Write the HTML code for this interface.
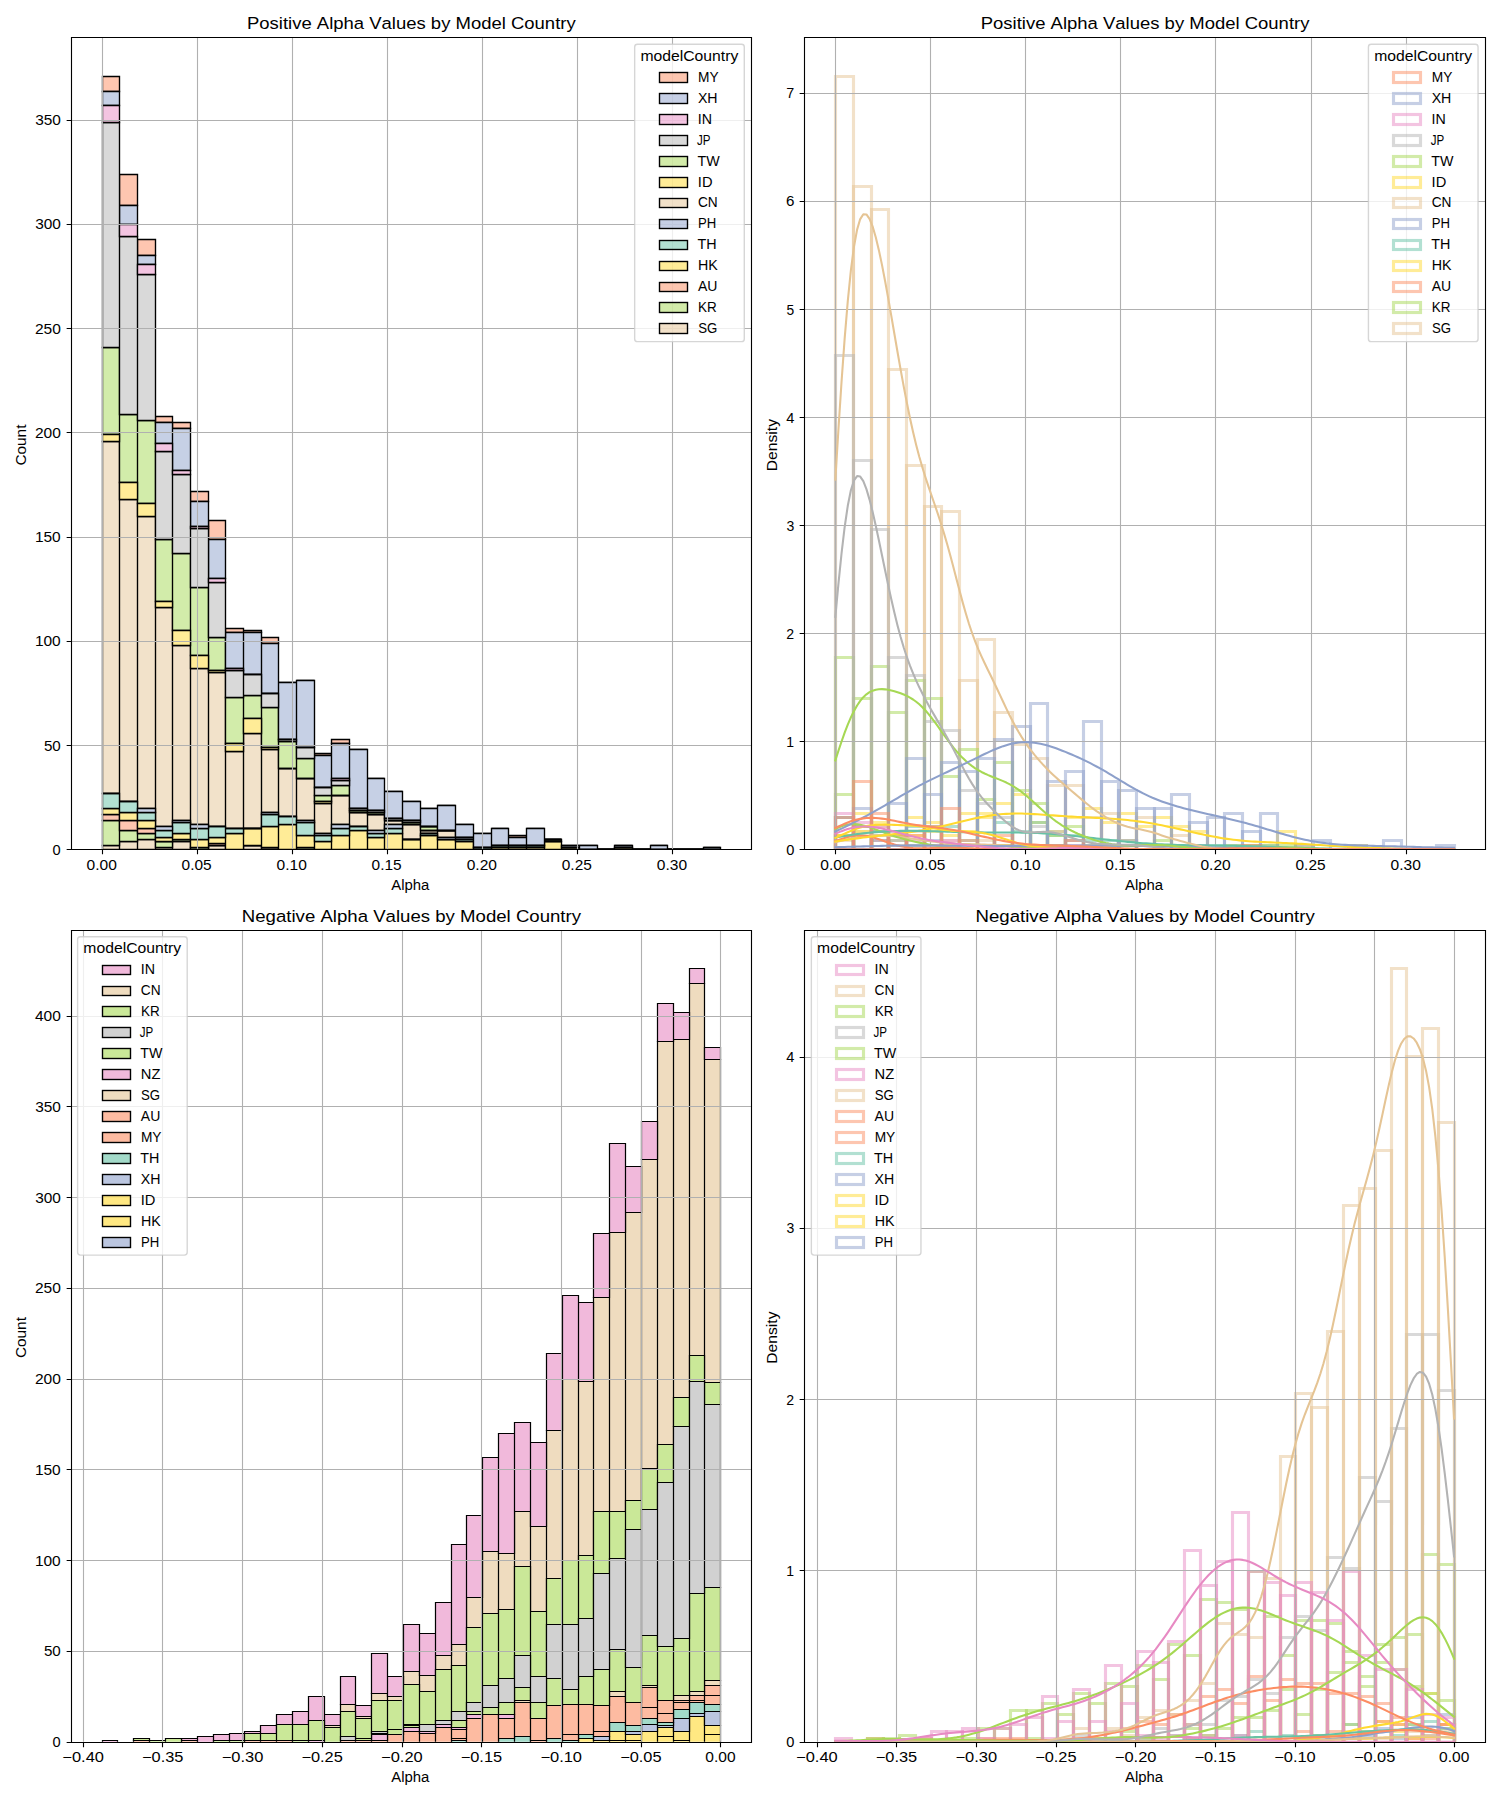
<!DOCTYPE html>
<html><head><meta charset="utf-8"><style>html,body{margin:0;padding:0;background:#fff}svg{display:block}</style></head><body>
<svg width="1500" height="1800" viewBox="0 0 1500 1800">
<rect width="1500" height="1800" fill="#fff"/>
<clipPath id="c0"><rect x="70.65" y="37.33" width="680.6" height="811.89"/></clipPath>
<g clip-path="url(#c0)">
<path fill="#f2e2ca" stroke="#000000" stroke-width="1.37" d="M102.5 849.5H119.5V845.5H102.5ZM119.5 849.5H137.5V841.5H119.5ZM137.5 849.5H155.5V839.5H137.5ZM155.5 849.5H172.5V847.5H155.5ZM172.5 849.5H190.5V841.5H172.5ZM190.5 849.5H208.5V849.5H190.5ZM208.5 849.5H225.5V845.5H208.5ZM225.5 849.5H243.5V849.5H225.5ZM243.5 849.5H261.5V845.5H243.5ZM261.5 849.5H278.5V847.5H261.5ZM278.5 849.5H296.5V849.5H278.5ZM296.5 849.5H314.5V849.5H296.5ZM314.5 849.5H331.5V849.5H314.5ZM331.5 849.5H349.5V849.5H331.5ZM349.5 849.5H367.5V849.5H349.5ZM367.5 849.5H384.5V849.5H367.5ZM384.5 849.5H402.5V849.5H384.5ZM402.5 849.5H420.5V849.5H402.5ZM420.5 849.5H437.5V849.5H420.5ZM437.5 849.5H455.5V849.5H437.5ZM455.5 849.5H473.5V849.5H455.5ZM473.5 849.5H491.5V849.5H473.5ZM491.5 849.5H508.5V849.5H491.5ZM508.5 849.5H526.5V849.5H508.5ZM526.5 849.5H544.5V849.5H526.5ZM544.5 849.5H561.5V849.5H544.5ZM561.5 849.5H579.5V849.5H561.5ZM579.5 849.5H597.5V849.5H579.5ZM597.5 849.5H614.5V849.5H597.5ZM614.5 849.5H632.5V849.5H614.5ZM632.5 849.5H650.5V849.5H632.5ZM650.5 849.5H667.5V849.5H650.5ZM667.5 849.5H685.5V849.5H667.5ZM685.5 849.5H703.5V849.5H685.5ZM703.5 849.5H720.5V849.5H703.5ZM102.5 793.5H119.5V441.5H102.5ZM119.5 801.5H137.5V499.5H119.5ZM137.5 808.5H155.5V516.5H137.5ZM155.5 826.5H172.5V607.5H155.5ZM172.5 820.5H190.5V645.5H172.5ZM190.5 824.5H208.5V668.5H190.5ZM208.5 826.5H225.5V672.5H208.5ZM225.5 828.5H243.5V751.5H225.5ZM243.5 828.5H261.5V733.5H243.5ZM261.5 812.5H278.5V749.5H261.5ZM278.5 816.5H296.5V768.5H278.5ZM296.5 820.5H314.5V778.5H296.5ZM314.5 833.5H331.5V803.5H314.5ZM331.5 824.5H349.5V795.5H331.5ZM349.5 826.5H367.5V812.5H349.5ZM367.5 830.5H384.5V814.5H367.5ZM384.5 824.5H402.5V820.5H384.5ZM402.5 839.5H420.5V824.5H402.5ZM420.5 833.5H437.5V830.5H420.5ZM437.5 837.5H455.5V830.5H437.5ZM455.5 837.5H473.5V837.5H455.5ZM473.5 847.5H491.5V847.5H473.5ZM491.5 845.5H508.5V845.5H491.5ZM508.5 845.5H526.5V845.5H508.5ZM526.5 845.5H544.5V845.5H526.5ZM544.5 841.5H561.5V841.5H544.5ZM561.5 847.5H579.5V847.5H561.5ZM579.5 849.5H597.5V849.5H579.5ZM597.5 849.5H614.5V849.5H597.5ZM614.5 847.5H632.5V847.5H614.5ZM632.5 849.5H650.5V849.5H632.5ZM650.5 849.5H667.5V849.5H650.5ZM667.5 849.5H685.5V849.5H667.5ZM685.5 849.5H703.5V849.5H685.5ZM703.5 849.5H720.5V849.5H703.5Z"/>
<path fill="#d2ecaa" stroke="#000000" stroke-width="1.37" d="M102.5 845.5H119.5V820.5H102.5ZM119.5 841.5H137.5V830.5H119.5ZM137.5 839.5H155.5V833.5H137.5ZM155.5 847.5H172.5V841.5H155.5ZM172.5 841.5H190.5V839.5H172.5ZM190.5 849.5H208.5V847.5H190.5ZM208.5 845.5H225.5V845.5H208.5ZM225.5 849.5H243.5V849.5H225.5ZM243.5 845.5H261.5V845.5H243.5ZM261.5 847.5H278.5V847.5H261.5ZM278.5 849.5H296.5V849.5H278.5ZM296.5 849.5H314.5V847.5H296.5ZM314.5 849.5H331.5V849.5H314.5ZM331.5 849.5H349.5V849.5H331.5ZM349.5 849.5H367.5V849.5H349.5ZM367.5 849.5H384.5V849.5H367.5ZM384.5 849.5H402.5V849.5H384.5ZM402.5 849.5H420.5V849.5H402.5ZM420.5 849.5H437.5V849.5H420.5ZM437.5 849.5H455.5V849.5H437.5ZM455.5 849.5H473.5V849.5H455.5ZM473.5 849.5H491.5V849.5H473.5ZM491.5 849.5H508.5V849.5H491.5ZM508.5 849.5H526.5V849.5H508.5ZM526.5 849.5H544.5V849.5H526.5ZM544.5 849.5H561.5V849.5H544.5ZM561.5 849.5H579.5V849.5H561.5ZM579.5 849.5H597.5V849.5H579.5ZM597.5 849.5H614.5V849.5H597.5ZM614.5 849.5H632.5V849.5H614.5ZM632.5 849.5H650.5V849.5H632.5ZM650.5 849.5H667.5V849.5H650.5ZM667.5 849.5H685.5V849.5H667.5ZM685.5 849.5H703.5V849.5H685.5ZM703.5 849.5H720.5V849.5H703.5ZM102.5 434.5H119.5V347.5H102.5ZM119.5 482.5H137.5V414.5H119.5ZM137.5 503.5H155.5V420.5H137.5ZM155.5 601.5H172.5V539.5H155.5ZM172.5 630.5H190.5V553.5H172.5ZM190.5 655.5H208.5V587.5H190.5ZM208.5 670.5H225.5V637.5H208.5ZM225.5 743.5H243.5V697.5H225.5ZM243.5 718.5H261.5V695.5H243.5ZM261.5 747.5H278.5V707.5H261.5ZM278.5 768.5H296.5V741.5H278.5ZM296.5 778.5H314.5V758.5H296.5ZM314.5 801.5H331.5V795.5H314.5ZM331.5 795.5H349.5V785.5H331.5ZM349.5 812.5H367.5V810.5H349.5ZM367.5 814.5H384.5V812.5H367.5ZM384.5 820.5H402.5V820.5H384.5ZM402.5 824.5H420.5V822.5H402.5ZM420.5 830.5H437.5V826.5H420.5ZM437.5 830.5H455.5V830.5H437.5ZM455.5 837.5H473.5V837.5H455.5ZM473.5 847.5H491.5V847.5H473.5ZM491.5 845.5H508.5V845.5H491.5ZM508.5 845.5H526.5V845.5H508.5ZM526.5 845.5H544.5V845.5H526.5ZM544.5 841.5H561.5V839.5H544.5ZM561.5 847.5H579.5V847.5H561.5ZM579.5 849.5H597.5V849.5H579.5ZM597.5 849.5H614.5V849.5H597.5ZM614.5 847.5H632.5V847.5H614.5ZM632.5 849.5H650.5V849.5H632.5ZM650.5 849.5H667.5V849.5H650.5ZM667.5 849.5H685.5V849.5H667.5ZM685.5 849.5H703.5V849.5H685.5ZM703.5 849.5H720.5V849.5H703.5Z"/>
<path fill="#fec6b0" stroke="#000000" stroke-width="1.37" d="M102.5 820.5H119.5V814.5H102.5ZM119.5 830.5H137.5V820.5H119.5ZM137.5 833.5H155.5V828.5H137.5ZM155.5 841.5H172.5V841.5H155.5ZM172.5 839.5H190.5V839.5H172.5ZM190.5 847.5H208.5V847.5H190.5ZM208.5 845.5H225.5V843.5H208.5ZM225.5 849.5H243.5V849.5H225.5ZM243.5 845.5H261.5V845.5H243.5ZM261.5 847.5H278.5V847.5H261.5ZM278.5 849.5H296.5V849.5H278.5ZM296.5 847.5H314.5V847.5H296.5ZM314.5 849.5H331.5V849.5H314.5ZM331.5 849.5H349.5V849.5H331.5ZM349.5 849.5H367.5V849.5H349.5ZM367.5 849.5H384.5V849.5H367.5ZM384.5 849.5H402.5V849.5H384.5ZM402.5 849.5H420.5V849.5H402.5ZM420.5 849.5H437.5V849.5H420.5ZM437.5 849.5H455.5V849.5H437.5ZM455.5 849.5H473.5V849.5H455.5ZM473.5 849.5H491.5V849.5H473.5ZM491.5 849.5H508.5V849.5H491.5ZM508.5 849.5H526.5V849.5H508.5ZM526.5 849.5H544.5V849.5H526.5ZM544.5 849.5H561.5V849.5H544.5ZM561.5 849.5H579.5V849.5H561.5ZM579.5 849.5H597.5V849.5H579.5ZM597.5 849.5H614.5V849.5H597.5ZM614.5 849.5H632.5V849.5H614.5ZM632.5 849.5H650.5V849.5H632.5ZM650.5 849.5H667.5V849.5H650.5ZM667.5 849.5H685.5V849.5H667.5ZM685.5 849.5H703.5V849.5H685.5ZM703.5 849.5H720.5V849.5H703.5ZM102.5 91.5H119.5V76.5H102.5ZM119.5 205.5H137.5V174.5H119.5ZM137.5 255.5H155.5V239.5H137.5ZM155.5 422.5H172.5V416.5H155.5ZM172.5 428.5H190.5V422.5H172.5ZM190.5 501.5H208.5V491.5H190.5ZM208.5 539.5H225.5V520.5H208.5ZM225.5 632.5H243.5V628.5H225.5ZM243.5 632.5H261.5V630.5H243.5ZM261.5 643.5H278.5V637.5H261.5ZM278.5 682.5H296.5V682.5H278.5ZM296.5 680.5H314.5V680.5H296.5ZM314.5 755.5H331.5V753.5H314.5ZM331.5 743.5H349.5V739.5H331.5ZM349.5 749.5H367.5V749.5H349.5ZM367.5 778.5H384.5V778.5H367.5ZM384.5 791.5H402.5V791.5H384.5ZM402.5 801.5H420.5V801.5H402.5ZM420.5 808.5H437.5V808.5H420.5ZM437.5 805.5H455.5V805.5H437.5ZM455.5 824.5H473.5V824.5H455.5ZM473.5 833.5H491.5V833.5H473.5ZM491.5 828.5H508.5V828.5H491.5ZM508.5 837.5H526.5V835.5H508.5ZM526.5 828.5H544.5V828.5H526.5ZM544.5 839.5H561.5V839.5H544.5ZM561.5 845.5H579.5V845.5H561.5ZM579.5 845.5H597.5V845.5H579.5ZM597.5 849.5H614.5V849.5H597.5ZM614.5 845.5H632.5V845.5H614.5ZM632.5 849.5H650.5V849.5H632.5ZM650.5 845.5H667.5V845.5H650.5ZM667.5 849.5H685.5V849.5H667.5ZM685.5 849.5H703.5V849.5H685.5ZM703.5 847.5H720.5V847.5H703.5Z"/>
<path fill="#ffec97" stroke="#000000" stroke-width="1.37" d="M102.5 814.5H119.5V808.5H102.5ZM119.5 820.5H137.5V812.5H119.5ZM137.5 828.5H155.5V820.5H137.5ZM155.5 841.5H172.5V837.5H155.5ZM172.5 839.5H190.5V833.5H172.5ZM190.5 847.5H208.5V839.5H190.5ZM208.5 843.5H225.5V837.5H208.5ZM225.5 849.5H243.5V833.5H225.5ZM243.5 845.5H261.5V828.5H243.5ZM261.5 847.5H278.5V826.5H261.5ZM278.5 849.5H296.5V824.5H278.5ZM296.5 847.5H314.5V835.5H296.5ZM314.5 849.5H331.5V841.5H314.5ZM331.5 849.5H349.5V835.5H331.5ZM349.5 849.5H367.5V830.5H349.5ZM367.5 849.5H384.5V837.5H367.5ZM384.5 849.5H402.5V833.5H384.5ZM402.5 849.5H420.5V839.5H402.5ZM420.5 849.5H437.5V835.5H420.5ZM437.5 849.5H455.5V839.5H437.5ZM455.5 849.5H473.5V841.5H455.5ZM473.5 849.5H491.5V849.5H473.5ZM491.5 849.5H508.5V847.5H491.5ZM508.5 849.5H526.5V847.5H508.5ZM526.5 849.5H544.5V847.5H526.5ZM544.5 849.5H561.5V841.5H544.5ZM561.5 849.5H579.5V847.5H561.5ZM579.5 849.5H597.5V849.5H579.5ZM597.5 849.5H614.5V849.5H597.5ZM614.5 849.5H632.5V847.5H614.5ZM632.5 849.5H650.5V849.5H632.5ZM650.5 849.5H667.5V849.5H650.5ZM667.5 849.5H685.5V849.5H667.5ZM685.5 849.5H703.5V849.5H685.5ZM703.5 849.5H720.5V849.5H703.5ZM102.5 441.5H119.5V434.5H102.5ZM119.5 499.5H137.5V482.5H119.5ZM137.5 516.5H155.5V503.5H137.5ZM155.5 607.5H172.5V601.5H155.5ZM172.5 645.5H190.5V630.5H172.5ZM190.5 668.5H208.5V655.5H190.5ZM208.5 672.5H225.5V670.5H208.5ZM225.5 751.5H243.5V743.5H225.5ZM243.5 733.5H261.5V718.5H243.5ZM261.5 749.5H278.5V747.5H261.5ZM278.5 768.5H296.5V768.5H278.5ZM296.5 778.5H314.5V778.5H296.5ZM314.5 803.5H331.5V801.5H314.5ZM331.5 795.5H349.5V795.5H331.5ZM349.5 812.5H367.5V812.5H349.5ZM367.5 814.5H384.5V814.5H367.5ZM384.5 820.5H402.5V820.5H384.5ZM402.5 824.5H420.5V824.5H402.5ZM420.5 830.5H437.5V830.5H420.5ZM437.5 830.5H455.5V830.5H437.5ZM455.5 837.5H473.5V837.5H455.5ZM473.5 847.5H491.5V847.5H473.5ZM491.5 845.5H508.5V845.5H491.5ZM508.5 845.5H526.5V845.5H508.5ZM526.5 845.5H544.5V845.5H526.5ZM544.5 841.5H561.5V841.5H544.5ZM561.5 847.5H579.5V847.5H561.5ZM579.5 849.5H597.5V849.5H579.5ZM597.5 849.5H614.5V849.5H597.5ZM614.5 847.5H632.5V847.5H614.5ZM632.5 849.5H650.5V849.5H632.5ZM650.5 849.5H667.5V849.5H650.5ZM667.5 849.5H685.5V849.5H667.5ZM685.5 849.5H703.5V849.5H685.5ZM703.5 849.5H720.5V849.5H703.5Z"/>
<path fill="#b2e0d2" stroke="#000000" stroke-width="1.37" d="M102.5 808.5H119.5V793.5H102.5ZM119.5 812.5H137.5V801.5H119.5ZM137.5 820.5H155.5V812.5H137.5ZM155.5 837.5H172.5V830.5H155.5ZM172.5 833.5H190.5V822.5H172.5ZM190.5 839.5H208.5V828.5H190.5ZM208.5 837.5H225.5V826.5H208.5ZM225.5 833.5H243.5V828.5H225.5ZM243.5 828.5H261.5V828.5H243.5ZM261.5 826.5H278.5V814.5H261.5ZM278.5 824.5H296.5V816.5H278.5ZM296.5 835.5H314.5V822.5H296.5ZM314.5 841.5H331.5V835.5H314.5ZM331.5 835.5H349.5V828.5H331.5ZM349.5 830.5H367.5V826.5H349.5ZM367.5 837.5H384.5V833.5H367.5ZM384.5 833.5H402.5V828.5H384.5ZM402.5 839.5H420.5V839.5H402.5ZM420.5 835.5H437.5V833.5H420.5ZM437.5 839.5H455.5V839.5H437.5ZM455.5 841.5H473.5V839.5H455.5ZM473.5 849.5H491.5V847.5H473.5ZM491.5 847.5H508.5V845.5H491.5ZM508.5 847.5H526.5V845.5H508.5ZM526.5 847.5H544.5V845.5H526.5ZM544.5 841.5H561.5V841.5H544.5ZM561.5 847.5H579.5V847.5H561.5ZM579.5 849.5H597.5V849.5H579.5ZM597.5 849.5H614.5V849.5H597.5ZM614.5 847.5H632.5V847.5H614.5ZM632.5 849.5H650.5V849.5H632.5ZM650.5 849.5H667.5V849.5H650.5ZM667.5 849.5H685.5V849.5H667.5ZM685.5 849.5H703.5V849.5H685.5ZM703.5 849.5H720.5V849.5H703.5Z"/>
<path fill="#c6d0e5" stroke="#000000" stroke-width="1.37" d="M102.5 793.5H119.5V793.5H102.5ZM119.5 801.5H137.5V801.5H119.5ZM137.5 812.5H155.5V808.5H137.5ZM155.5 830.5H172.5V826.5H155.5ZM172.5 822.5H190.5V820.5H172.5ZM190.5 828.5H208.5V824.5H190.5ZM208.5 826.5H225.5V826.5H208.5ZM225.5 828.5H243.5V828.5H225.5ZM243.5 828.5H261.5V828.5H243.5ZM261.5 814.5H278.5V812.5H261.5ZM278.5 816.5H296.5V816.5H278.5ZM296.5 822.5H314.5V820.5H296.5ZM314.5 835.5H331.5V833.5H314.5ZM331.5 828.5H349.5V824.5H331.5ZM349.5 826.5H367.5V826.5H349.5ZM367.5 833.5H384.5V830.5H367.5ZM384.5 828.5H402.5V824.5H384.5ZM402.5 839.5H420.5V839.5H402.5ZM420.5 833.5H437.5V833.5H420.5ZM437.5 839.5H455.5V837.5H437.5ZM455.5 839.5H473.5V837.5H455.5ZM473.5 847.5H491.5V847.5H473.5ZM491.5 845.5H508.5V845.5H491.5ZM508.5 845.5H526.5V845.5H508.5ZM526.5 845.5H544.5V845.5H526.5ZM544.5 841.5H561.5V841.5H544.5ZM561.5 847.5H579.5V847.5H561.5ZM579.5 849.5H597.5V849.5H579.5ZM597.5 849.5H614.5V849.5H597.5ZM614.5 847.5H632.5V847.5H614.5ZM632.5 849.5H650.5V849.5H632.5ZM650.5 849.5H667.5V849.5H650.5ZM667.5 849.5H685.5V849.5H667.5ZM685.5 849.5H703.5V849.5H685.5ZM703.5 849.5H720.5V849.5H703.5ZM102.5 105.5H119.5V91.5H102.5ZM119.5 224.5H137.5V205.5H119.5ZM137.5 264.5H155.5V255.5H137.5ZM155.5 443.5H172.5V422.5H155.5ZM172.5 470.5H190.5V428.5H172.5ZM190.5 526.5H208.5V501.5H190.5ZM208.5 578.5H225.5V539.5H208.5ZM225.5 668.5H243.5V632.5H225.5ZM243.5 674.5H261.5V632.5H243.5ZM261.5 693.5H278.5V643.5H261.5ZM278.5 739.5H296.5V682.5H278.5ZM296.5 747.5H314.5V680.5H296.5ZM314.5 787.5H331.5V755.5H314.5ZM331.5 778.5H349.5V743.5H331.5ZM349.5 808.5H367.5V749.5H349.5ZM367.5 810.5H384.5V778.5H367.5ZM384.5 818.5H402.5V791.5H384.5ZM402.5 820.5H420.5V801.5H402.5ZM420.5 826.5H437.5V808.5H420.5ZM437.5 830.5H455.5V805.5H437.5ZM455.5 837.5H473.5V824.5H455.5ZM473.5 847.5H491.5V833.5H473.5ZM491.5 845.5H508.5V828.5H491.5ZM508.5 845.5H526.5V837.5H508.5ZM526.5 845.5H544.5V828.5H526.5ZM544.5 839.5H561.5V839.5H544.5ZM561.5 847.5H579.5V845.5H561.5ZM579.5 849.5H597.5V845.5H579.5ZM597.5 849.5H614.5V849.5H597.5ZM614.5 847.5H632.5V845.5H614.5ZM632.5 849.5H650.5V849.5H632.5ZM650.5 849.5H667.5V845.5H650.5ZM667.5 849.5H685.5V849.5H667.5ZM685.5 849.5H703.5V849.5H685.5ZM703.5 849.5H720.5V847.5H703.5Z"/>
<path fill="#d9d9d9" stroke="#000000" stroke-width="1.37" d="M102.5 347.5H119.5V122.5H102.5ZM119.5 414.5H137.5V236.5H119.5ZM137.5 420.5H155.5V274.5H137.5ZM155.5 539.5H172.5V451.5H155.5ZM172.5 553.5H190.5V474.5H172.5ZM190.5 587.5H208.5V528.5H190.5ZM208.5 637.5H225.5V582.5H208.5ZM225.5 697.5H243.5V670.5H225.5ZM243.5 695.5H261.5V674.5H243.5ZM261.5 707.5H278.5V693.5H261.5ZM278.5 741.5H296.5V739.5H278.5ZM296.5 758.5H314.5V747.5H296.5ZM314.5 795.5H331.5V787.5H314.5ZM331.5 785.5H349.5V780.5H331.5ZM349.5 810.5H367.5V808.5H349.5ZM367.5 812.5H384.5V810.5H367.5ZM384.5 820.5H402.5V818.5H384.5ZM402.5 822.5H420.5V820.5H402.5ZM420.5 826.5H437.5V826.5H420.5ZM437.5 830.5H455.5V830.5H437.5ZM455.5 837.5H473.5V837.5H455.5ZM473.5 847.5H491.5V847.5H473.5ZM491.5 845.5H508.5V845.5H491.5ZM508.5 845.5H526.5V845.5H508.5ZM526.5 845.5H544.5V845.5H526.5ZM544.5 839.5H561.5V839.5H544.5ZM561.5 847.5H579.5V847.5H561.5ZM579.5 849.5H597.5V849.5H579.5ZM597.5 849.5H614.5V849.5H597.5ZM614.5 847.5H632.5V847.5H614.5ZM632.5 849.5H650.5V849.5H632.5ZM650.5 849.5H667.5V849.5H650.5ZM667.5 849.5H685.5V849.5H667.5ZM685.5 849.5H703.5V849.5H685.5ZM703.5 849.5H720.5V849.5H703.5Z"/>
<path fill="#f3c4e1" stroke="#000000" stroke-width="1.37" d="M102.5 122.5H119.5V105.5H102.5ZM119.5 236.5H137.5V224.5H119.5ZM137.5 274.5H155.5V264.5H137.5ZM155.5 451.5H172.5V443.5H155.5ZM172.5 474.5H190.5V470.5H172.5ZM190.5 528.5H208.5V526.5H190.5ZM208.5 582.5H225.5V578.5H208.5ZM225.5 670.5H243.5V668.5H225.5ZM243.5 674.5H261.5V674.5H243.5ZM261.5 693.5H278.5V693.5H261.5ZM278.5 739.5H296.5V739.5H278.5ZM296.5 747.5H314.5V747.5H296.5ZM314.5 787.5H331.5V787.5H314.5ZM331.5 780.5H349.5V778.5H331.5ZM349.5 808.5H367.5V808.5H349.5ZM367.5 810.5H384.5V810.5H367.5ZM384.5 818.5H402.5V818.5H384.5ZM402.5 820.5H420.5V820.5H402.5ZM420.5 826.5H437.5V826.5H420.5ZM437.5 830.5H455.5V830.5H437.5ZM455.5 837.5H473.5V837.5H455.5ZM473.5 847.5H491.5V847.5H473.5ZM491.5 845.5H508.5V845.5H491.5ZM508.5 845.5H526.5V845.5H508.5ZM526.5 845.5H544.5V845.5H526.5ZM544.5 839.5H561.5V839.5H544.5ZM561.5 847.5H579.5V847.5H561.5ZM579.5 849.5H597.5V849.5H579.5ZM597.5 849.5H614.5V849.5H597.5ZM614.5 847.5H632.5V847.5H614.5ZM632.5 849.5H650.5V849.5H632.5ZM650.5 849.5H667.5V849.5H650.5ZM667.5 849.5H685.5V849.5H667.5ZM685.5 849.5H703.5V849.5H685.5ZM703.5 849.5H720.5V849.5H703.5Z"/>
<path fill="none" stroke="#b0b0b0" stroke-width="1.11" d="M7.5 849.5L7.5 37.5M102.5 849.5L102.5 37.5M197.5 849.5L197.5 37.5M292.5 849.5L292.5 37.5M387.5 849.5L387.5 37.5M482.5 849.5L482.5 37.5M577.5 849.5L577.5 37.5M672.5 849.5L672.5 37.5M767.5 849.5L767.5 37.5M71.5 849.5L751.5 849.5M71.5 745.5L751.5 745.5M71.5 641.5L751.5 641.5M71.5 537.5L751.5 537.5M71.5 432.5L751.5 432.5M71.5 328.5L751.5 328.5M71.5 224.5L751.5 224.5M71.5 120.5L751.5 120.5M71.5 16.5L751.5 16.5"/>
</g>
<path fill="none" stroke="#000" stroke-width="1.11" stroke-linecap="square" d="M71.5 37.5H751.5V849.5H71.5Z"/>
<path fill="none" stroke="#000" stroke-width="1.11" d="M102.5 849.5v4.86M197.5 849.5v4.86M292.5 849.5v4.86M387.5 849.5v4.86M482.5 849.5v4.86M577.5 849.5v4.86M672.5 849.5v4.86M71.5 849.5h-4.86M71.5 745.5h-4.86M71.5 641.5h-4.86M71.5 537.5h-4.86M71.5 432.5h-4.86M71.5 328.5h-4.86M71.5 224.5h-4.86M71.5 120.5h-4.86"/>
<g font-family="&quot;Liberation Sans&quot;, sans-serif" fill="#000" style="font-kerning:none">
<text x="86.58" y="869.94" font-size="13.89" textLength="30.3" lengthAdjust="spacingAndGlyphs">0.00</text>
<text x="181.63" y="869.94" font-size="13.89" textLength="30.05" lengthAdjust="spacingAndGlyphs">0.05</text>
<text x="276.59" y="869.94" font-size="13.89" textLength="30.3" lengthAdjust="spacingAndGlyphs">0.10</text>
<text x="371.64" y="869.94" font-size="13.89" textLength="30.05" lengthAdjust="spacingAndGlyphs">0.15</text>
<text x="466.73" y="869.94" font-size="13.89" textLength="30.3" lengthAdjust="spacingAndGlyphs">0.20</text>
<text x="561.77" y="869.94" font-size="13.89" textLength="30.05" lengthAdjust="spacingAndGlyphs">0.25</text>
<text x="656.8" y="869.94" font-size="13.89" textLength="30.3" lengthAdjust="spacingAndGlyphs">0.30</text>
<text x="52.52" y="854.72" font-size="13.89" textLength="8.14" lengthAdjust="spacingAndGlyphs">0</text>
<text x="43.9" y="750.51" font-size="13.89" textLength="16.88" lengthAdjust="spacingAndGlyphs">50</text>
<text x="34.9" y="646.31" font-size="13.89" textLength="25.85" lengthAdjust="spacingAndGlyphs">100</text>
<text x="34.9" y="542.1" font-size="13.89" textLength="25.85" lengthAdjust="spacingAndGlyphs">150</text>
<text x="34.92" y="437.89" font-size="13.89" textLength="25.96" lengthAdjust="spacingAndGlyphs">200</text>
<text x="34.92" y="333.68" font-size="13.89" textLength="25.96" lengthAdjust="spacingAndGlyphs">250</text>
<text x="35.15" y="229.47" font-size="13.89" textLength="25.72" lengthAdjust="spacingAndGlyphs">300</text>
<text x="35.15" y="125.26" font-size="13.89" textLength="25.72" lengthAdjust="spacingAndGlyphs">350</text>
<text x="391.22" y="889.5" font-size="13.89" textLength="38.15" lengthAdjust="spacingAndGlyphs">Alpha</text>
<text transform="translate(26,465.6) rotate(-90)" x="0" font-size="13.89" textLength="41.03" lengthAdjust="spacingAndGlyphs">Count</text>
<text x="247.01" y="29" font-size="16.67" textLength="328.69" lengthAdjust="spacingAndGlyphs">Positive Alpha Values by Model Country</text>
</g>
<rect x="634.69" y="44.28" width="109.61" height="297.39" rx="2.78" fill="#fff" fill-opacity="0.8" stroke="#ccc" stroke-opacity="0.8" stroke-width="1.39"/>
<rect x="659.5" y="72.5" width="28" height="10" fill="#fc8d62" fill-opacity="0.5" stroke="#000000" stroke-opacity="1" stroke-width="1.39"/>
<rect x="659.5" y="93.5" width="28" height="10" fill="#8da0cb" fill-opacity="0.5" stroke="#000000" stroke-opacity="1" stroke-width="1.39"/>
<rect x="659.5" y="114.5" width="28" height="10" fill="#e78ac3" fill-opacity="0.5" stroke="#000000" stroke-opacity="1" stroke-width="1.39"/>
<rect x="659.5" y="135.5" width="28" height="10" fill="#b3b3b3" fill-opacity="0.5" stroke="#000000" stroke-opacity="1" stroke-width="1.39"/>
<rect x="659.5" y="156.5" width="28" height="10" fill="#a6d854" fill-opacity="0.5" stroke="#000000" stroke-opacity="1" stroke-width="1.39"/>
<rect x="659.5" y="177.5" width="28" height="10" fill="#ffd92f" fill-opacity="0.5" stroke="#000000" stroke-opacity="1" stroke-width="1.39"/>
<rect x="659.5" y="198.5" width="28" height="9" fill="#e5c494" fill-opacity="0.5" stroke="#000000" stroke-opacity="1" stroke-width="1.39"/>
<rect x="659.5" y="219.5" width="28" height="9" fill="#8da0cb" fill-opacity="0.5" stroke="#000000" stroke-opacity="1" stroke-width="1.39"/>
<rect x="659.5" y="240.5" width="28" height="9" fill="#66c2a5" fill-opacity="0.5" stroke="#000000" stroke-opacity="1" stroke-width="1.39"/>
<rect x="659.5" y="261.5" width="28" height="9" fill="#ffd92f" fill-opacity="0.5" stroke="#000000" stroke-opacity="1" stroke-width="1.39"/>
<rect x="659.5" y="282.5" width="28" height="9" fill="#fc8d62" fill-opacity="0.5" stroke="#000000" stroke-opacity="1" stroke-width="1.39"/>
<rect x="659.5" y="302.5" width="28" height="10" fill="#a6d854" fill-opacity="0.5" stroke="#000000" stroke-opacity="1" stroke-width="1.39"/>
<rect x="659.5" y="323.5" width="28" height="10" fill="#e5c494" fill-opacity="0.5" stroke="#000000" stroke-opacity="1" stroke-width="1.39"/>
<g font-family="&quot;Liberation Sans&quot;, sans-serif" fill="#000" style="font-kerning:none">
<text x="640.47" y="60.83" font-size="13.89" textLength="97.82" lengthAdjust="spacingAndGlyphs">modelCountry</text>
<text x="698.06" y="81.78" font-size="13.89" textLength="20.56" lengthAdjust="spacingAndGlyphs">MY</text>
<text x="697.92" y="102.72" font-size="13.89" textLength="19.65" lengthAdjust="spacingAndGlyphs">XH</text>
<text x="697.87" y="123.67" font-size="13.89" textLength="14.23" lengthAdjust="spacingAndGlyphs">IN</text>
<text x="696.92" y="144.61" font-size="13.89" textLength="13.51" lengthAdjust="spacingAndGlyphs">JP</text>
<text x="697.46" y="165.56" font-size="13.89" textLength="22.17" lengthAdjust="spacingAndGlyphs">TW</text>
<text x="697.83" y="186.5" font-size="13.89" textLength="14.66" lengthAdjust="spacingAndGlyphs">ID</text>
<text x="697.9" y="207.44" font-size="13.89" textLength="19.75" lengthAdjust="spacingAndGlyphs">CN</text>
<text x="698.11" y="228.39" font-size="13.89" textLength="18.24" lengthAdjust="spacingAndGlyphs">PH</text>
<text x="697.46" y="249.33" font-size="13.89" textLength="19.09" lengthAdjust="spacingAndGlyphs">TH</text>
<text x="698.01" y="270.28" font-size="13.89" textLength="19.81" lengthAdjust="spacingAndGlyphs">HK</text>
<text x="697.9" y="291.22" font-size="13.89" textLength="19.46" lengthAdjust="spacingAndGlyphs">AU</text>
<text x="698.08" y="312.17" font-size="13.89" textLength="18.73" lengthAdjust="spacingAndGlyphs">KR</text>
<text x="698.13" y="333.11" font-size="13.89" textLength="19.11" lengthAdjust="spacingAndGlyphs">SG</text>
</g>
<clipPath id="c1"><rect x="804.4" y="37.33" width="680.6" height="811.89"/></clipPath>
<g clip-path="url(#c1)">
<path fill="none" stroke="#e5c494" stroke-opacity="0.5" stroke-width="3.12" d="M835.5 849.5H853.5V840.5H835.5Z"/>
<path fill="none" stroke="#e5c494" stroke-opacity="0.5" stroke-width="3.12" d="M853.5 849.5H871.5V831.5H853.5Z"/>
<path fill="none" stroke="#e5c494" stroke-opacity="0.5" stroke-width="3.12" d="M871.5 849.5H888.5V826.5H871.5Z"/>
<path fill="none" stroke="#e5c494" stroke-opacity="0.5" stroke-width="3.12" d="M888.5 849.5H906.5V845.5H888.5Z"/>
<path fill="none" stroke="#e5c494" stroke-opacity="0.5" stroke-width="3.12" d="M906.5 849.5H924.5V831.5H906.5Z"/>
<path fill="none" stroke="#e5c494" stroke-opacity="0.5" stroke-width="3.12" d="M924.5 849.5H941.5V849.5H924.5Z"/>
<path fill="none" stroke="#e5c494" stroke-opacity="0.5" stroke-width="3.12" d="M941.5 849.5H959.5V840.5H941.5Z"/>
<path fill="none" stroke="#e5c494" stroke-opacity="0.5" stroke-width="3.12" d="M959.5 849.5H977.5V849.5H959.5Z"/>
<path fill="none" stroke="#e5c494" stroke-opacity="0.5" stroke-width="3.12" d="M977.5 849.5H994.5V840.5H977.5Z"/>
<path fill="none" stroke="#e5c494" stroke-opacity="0.5" stroke-width="3.12" d="M994.5 849.5H1012.5V845.5H994.5Z"/>
<path fill="none" stroke="#e5c494" stroke-opacity="0.5" stroke-width="3.12" d="M1012.5 849.5H1030.5V849.5H1012.5Z"/>
<path fill="none" stroke="#e5c494" stroke-opacity="0.5" stroke-width="3.12" d="M1030.5 849.5H1047.5V849.5H1030.5Z"/>
<path fill="none" stroke="#e5c494" stroke-opacity="0.5" stroke-width="3.12" d="M1047.5 849.5H1065.5V849.5H1047.5Z"/>
<path fill="none" stroke="#e5c494" stroke-opacity="0.5" stroke-width="3.12" d="M1065.5 849.5H1083.5V849.5H1065.5Z"/>
<path fill="none" stroke="#e5c494" stroke-opacity="0.5" stroke-width="3.12" d="M1083.5 849.5H1101.5V849.5H1083.5Z"/>
<path fill="none" stroke="#e5c494" stroke-opacity="0.5" stroke-width="3.12" d="M1101.5 849.5H1118.5V849.5H1101.5Z"/>
<path fill="none" stroke="#e5c494" stroke-opacity="0.5" stroke-width="3.12" d="M1118.5 849.5H1136.5V849.5H1118.5Z"/>
<path fill="none" stroke="#e5c494" stroke-opacity="0.5" stroke-width="3.12" d="M1136.5 849.5H1154.5V849.5H1136.5Z"/>
<path fill="none" stroke="#e5c494" stroke-opacity="0.5" stroke-width="3.12" d="M1154.5 849.5H1171.5V849.5H1154.5Z"/>
<path fill="none" stroke="#e5c494" stroke-opacity="0.5" stroke-width="3.12" d="M1171.5 849.5H1189.5V849.5H1171.5Z"/>
<path fill="none" stroke="#e5c494" stroke-opacity="0.5" stroke-width="3.12" d="M1189.5 849.5H1207.5V849.5H1189.5Z"/>
<path fill="none" stroke="#e5c494" stroke-opacity="0.5" stroke-width="3.12" d="M1207.5 849.5H1224.5V849.5H1207.5Z"/>
<path fill="none" stroke="#e5c494" stroke-opacity="0.5" stroke-width="3.12" d="M1224.5 849.5H1242.5V849.5H1224.5Z"/>
<path fill="none" stroke="#e5c494" stroke-opacity="0.5" stroke-width="3.12" d="M1242.5 849.5H1260.5V849.5H1242.5Z"/>
<path fill="none" stroke="#e5c494" stroke-opacity="0.5" stroke-width="3.12" d="M1260.5 849.5H1277.5V849.5H1260.5Z"/>
<path fill="none" stroke="#e5c494" stroke-opacity="0.5" stroke-width="3.12" d="M1277.5 849.5H1295.5V849.5H1277.5Z"/>
<path fill="none" stroke="#e5c494" stroke-opacity="0.5" stroke-width="3.12" d="M1295.5 849.5H1313.5V849.5H1295.5Z"/>
<path fill="none" stroke="#e5c494" stroke-opacity="0.5" stroke-width="3.12" d="M1313.5 849.5H1330.5V849.5H1313.5Z"/>
<path fill="none" stroke="#e5c494" stroke-opacity="0.5" stroke-width="3.12" d="M1330.5 849.5H1348.5V849.5H1330.5Z"/>
<path fill="none" stroke="#e5c494" stroke-opacity="0.5" stroke-width="3.12" d="M1348.5 849.5H1366.5V849.5H1348.5Z"/>
<path fill="none" stroke="#e5c494" stroke-opacity="0.5" stroke-width="3.12" d="M1366.5 849.5H1383.5V849.5H1366.5Z"/>
<path fill="none" stroke="#e5c494" stroke-opacity="0.5" stroke-width="3.12" d="M1383.5 849.5H1401.5V849.5H1383.5Z"/>
<path fill="none" stroke="#e5c494" stroke-opacity="0.5" stroke-width="3.12" d="M1401.5 849.5H1419.5V849.5H1401.5Z"/>
<path fill="none" stroke="#e5c494" stroke-opacity="0.5" stroke-width="3.12" d="M1419.5 849.5H1436.5V849.5H1419.5Z"/>
<path fill="none" stroke="#e5c494" stroke-opacity="0.5" stroke-width="3.12" d="M1436.5 849.5H1454.5V849.5H1436.5Z"/>
<path fill="none" stroke="#a6d854" stroke-opacity="0.5" stroke-width="3.12" d="M835.5 849.5H853.5V794.5H835.5Z"/>
<path fill="none" stroke="#a6d854" stroke-opacity="0.5" stroke-width="3.12" d="M853.5 849.5H871.5V826.5H853.5Z"/>
<path fill="none" stroke="#a6d854" stroke-opacity="0.5" stroke-width="3.12" d="M871.5 849.5H888.5V835.5H871.5Z"/>
<path fill="none" stroke="#a6d854" stroke-opacity="0.5" stroke-width="3.12" d="M888.5 849.5H906.5V835.5H888.5Z"/>
<path fill="none" stroke="#a6d854" stroke-opacity="0.5" stroke-width="3.12" d="M906.5 849.5H924.5V845.5H906.5Z"/>
<path fill="none" stroke="#a6d854" stroke-opacity="0.5" stroke-width="3.12" d="M924.5 849.5H941.5V845.5H924.5Z"/>
<path fill="none" stroke="#a6d854" stroke-opacity="0.5" stroke-width="3.12" d="M941.5 849.5H959.5V849.5H941.5Z"/>
<path fill="none" stroke="#a6d854" stroke-opacity="0.5" stroke-width="3.12" d="M959.5 849.5H977.5V849.5H959.5Z"/>
<path fill="none" stroke="#a6d854" stroke-opacity="0.5" stroke-width="3.12" d="M977.5 849.5H994.5V849.5H977.5Z"/>
<path fill="none" stroke="#a6d854" stroke-opacity="0.5" stroke-width="3.12" d="M994.5 849.5H1012.5V849.5H994.5Z"/>
<path fill="none" stroke="#a6d854" stroke-opacity="0.5" stroke-width="3.12" d="M1012.5 849.5H1030.5V849.5H1012.5Z"/>
<path fill="none" stroke="#a6d854" stroke-opacity="0.5" stroke-width="3.12" d="M1030.5 849.5H1047.5V845.5H1030.5Z"/>
<path fill="none" stroke="#a6d854" stroke-opacity="0.5" stroke-width="3.12" d="M1047.5 849.5H1065.5V849.5H1047.5Z"/>
<path fill="none" stroke="#a6d854" stroke-opacity="0.5" stroke-width="3.12" d="M1065.5 849.5H1083.5V849.5H1065.5Z"/>
<path fill="none" stroke="#a6d854" stroke-opacity="0.5" stroke-width="3.12" d="M1083.5 849.5H1101.5V849.5H1083.5Z"/>
<path fill="none" stroke="#a6d854" stroke-opacity="0.5" stroke-width="3.12" d="M1101.5 849.5H1118.5V849.5H1101.5Z"/>
<path fill="none" stroke="#a6d854" stroke-opacity="0.5" stroke-width="3.12" d="M1118.5 849.5H1136.5V849.5H1118.5Z"/>
<path fill="none" stroke="#a6d854" stroke-opacity="0.5" stroke-width="3.12" d="M1136.5 849.5H1154.5V849.5H1136.5Z"/>
<path fill="none" stroke="#a6d854" stroke-opacity="0.5" stroke-width="3.12" d="M1154.5 849.5H1171.5V849.5H1154.5Z"/>
<path fill="none" stroke="#a6d854" stroke-opacity="0.5" stroke-width="3.12" d="M1171.5 849.5H1189.5V849.5H1171.5Z"/>
<path fill="none" stroke="#a6d854" stroke-opacity="0.5" stroke-width="3.12" d="M1189.5 849.5H1207.5V849.5H1189.5Z"/>
<path fill="none" stroke="#a6d854" stroke-opacity="0.5" stroke-width="3.12" d="M1207.5 849.5H1224.5V849.5H1207.5Z"/>
<path fill="none" stroke="#a6d854" stroke-opacity="0.5" stroke-width="3.12" d="M1224.5 849.5H1242.5V849.5H1224.5Z"/>
<path fill="none" stroke="#a6d854" stroke-opacity="0.5" stroke-width="3.12" d="M1242.5 849.5H1260.5V849.5H1242.5Z"/>
<path fill="none" stroke="#a6d854" stroke-opacity="0.5" stroke-width="3.12" d="M1260.5 849.5H1277.5V849.5H1260.5Z"/>
<path fill="none" stroke="#a6d854" stroke-opacity="0.5" stroke-width="3.12" d="M1277.5 849.5H1295.5V849.5H1277.5Z"/>
<path fill="none" stroke="#a6d854" stroke-opacity="0.5" stroke-width="3.12" d="M1295.5 849.5H1313.5V849.5H1295.5Z"/>
<path fill="none" stroke="#a6d854" stroke-opacity="0.5" stroke-width="3.12" d="M1313.5 849.5H1330.5V849.5H1313.5Z"/>
<path fill="none" stroke="#a6d854" stroke-opacity="0.5" stroke-width="3.12" d="M1330.5 849.5H1348.5V849.5H1330.5Z"/>
<path fill="none" stroke="#a6d854" stroke-opacity="0.5" stroke-width="3.12" d="M1348.5 849.5H1366.5V849.5H1348.5Z"/>
<path fill="none" stroke="#a6d854" stroke-opacity="0.5" stroke-width="3.12" d="M1366.5 849.5H1383.5V849.5H1366.5Z"/>
<path fill="none" stroke="#a6d854" stroke-opacity="0.5" stroke-width="3.12" d="M1383.5 849.5H1401.5V849.5H1383.5Z"/>
<path fill="none" stroke="#a6d854" stroke-opacity="0.5" stroke-width="3.12" d="M1401.5 849.5H1419.5V849.5H1401.5Z"/>
<path fill="none" stroke="#a6d854" stroke-opacity="0.5" stroke-width="3.12" d="M1419.5 849.5H1436.5V849.5H1419.5Z"/>
<path fill="none" stroke="#a6d854" stroke-opacity="0.5" stroke-width="3.12" d="M1436.5 849.5H1454.5V849.5H1436.5Z"/>
<path fill="none" stroke="#fc8d62" stroke-opacity="0.5" stroke-width="3.12" d="M835.5 849.5H853.5V835.5H835.5Z"/>
<path fill="none" stroke="#fc8d62" stroke-opacity="0.5" stroke-width="3.12" d="M853.5 849.5H871.5V826.5H853.5Z"/>
<path fill="none" stroke="#fc8d62" stroke-opacity="0.5" stroke-width="3.12" d="M871.5 849.5H888.5V840.5H871.5Z"/>
<path fill="none" stroke="#fc8d62" stroke-opacity="0.5" stroke-width="3.12" d="M888.5 849.5H906.5V849.5H888.5Z"/>
<path fill="none" stroke="#fc8d62" stroke-opacity="0.5" stroke-width="3.12" d="M906.5 849.5H924.5V849.5H906.5Z"/>
<path fill="none" stroke="#fc8d62" stroke-opacity="0.5" stroke-width="3.12" d="M924.5 849.5H941.5V849.5H924.5Z"/>
<path fill="none" stroke="#fc8d62" stroke-opacity="0.5" stroke-width="3.12" d="M941.5 849.5H959.5V845.5H941.5Z"/>
<path fill="none" stroke="#fc8d62" stroke-opacity="0.5" stroke-width="3.12" d="M959.5 849.5H977.5V849.5H959.5Z"/>
<path fill="none" stroke="#fc8d62" stroke-opacity="0.5" stroke-width="3.12" d="M977.5 849.5H994.5V849.5H977.5Z"/>
<path fill="none" stroke="#fc8d62" stroke-opacity="0.5" stroke-width="3.12" d="M994.5 849.5H1012.5V849.5H994.5Z"/>
<path fill="none" stroke="#fc8d62" stroke-opacity="0.5" stroke-width="3.12" d="M1012.5 849.5H1030.5V849.5H1012.5Z"/>
<path fill="none" stroke="#fc8d62" stroke-opacity="0.5" stroke-width="3.12" d="M1030.5 849.5H1047.5V849.5H1030.5Z"/>
<path fill="none" stroke="#fc8d62" stroke-opacity="0.5" stroke-width="3.12" d="M1047.5 849.5H1065.5V849.5H1047.5Z"/>
<path fill="none" stroke="#fc8d62" stroke-opacity="0.5" stroke-width="3.12" d="M1065.5 849.5H1083.5V849.5H1065.5Z"/>
<path fill="none" stroke="#fc8d62" stroke-opacity="0.5" stroke-width="3.12" d="M1083.5 849.5H1101.5V849.5H1083.5Z"/>
<path fill="none" stroke="#fc8d62" stroke-opacity="0.5" stroke-width="3.12" d="M1101.5 849.5H1118.5V849.5H1101.5Z"/>
<path fill="none" stroke="#fc8d62" stroke-opacity="0.5" stroke-width="3.12" d="M1118.5 849.5H1136.5V849.5H1118.5Z"/>
<path fill="none" stroke="#fc8d62" stroke-opacity="0.5" stroke-width="3.12" d="M1136.5 849.5H1154.5V849.5H1136.5Z"/>
<path fill="none" stroke="#fc8d62" stroke-opacity="0.5" stroke-width="3.12" d="M1154.5 849.5H1171.5V849.5H1154.5Z"/>
<path fill="none" stroke="#fc8d62" stroke-opacity="0.5" stroke-width="3.12" d="M1171.5 849.5H1189.5V849.5H1171.5Z"/>
<path fill="none" stroke="#fc8d62" stroke-opacity="0.5" stroke-width="3.12" d="M1189.5 849.5H1207.5V849.5H1189.5Z"/>
<path fill="none" stroke="#fc8d62" stroke-opacity="0.5" stroke-width="3.12" d="M1207.5 849.5H1224.5V849.5H1207.5Z"/>
<path fill="none" stroke="#fc8d62" stroke-opacity="0.5" stroke-width="3.12" d="M1224.5 849.5H1242.5V849.5H1224.5Z"/>
<path fill="none" stroke="#fc8d62" stroke-opacity="0.5" stroke-width="3.12" d="M1242.5 849.5H1260.5V849.5H1242.5Z"/>
<path fill="none" stroke="#fc8d62" stroke-opacity="0.5" stroke-width="3.12" d="M1260.5 849.5H1277.5V849.5H1260.5Z"/>
<path fill="none" stroke="#fc8d62" stroke-opacity="0.5" stroke-width="3.12" d="M1277.5 849.5H1295.5V849.5H1277.5Z"/>
<path fill="none" stroke="#fc8d62" stroke-opacity="0.5" stroke-width="3.12" d="M1295.5 849.5H1313.5V849.5H1295.5Z"/>
<path fill="none" stroke="#fc8d62" stroke-opacity="0.5" stroke-width="3.12" d="M1313.5 849.5H1330.5V849.5H1313.5Z"/>
<path fill="none" stroke="#fc8d62" stroke-opacity="0.5" stroke-width="3.12" d="M1330.5 849.5H1348.5V849.5H1330.5Z"/>
<path fill="none" stroke="#fc8d62" stroke-opacity="0.5" stroke-width="3.12" d="M1348.5 849.5H1366.5V849.5H1348.5Z"/>
<path fill="none" stroke="#fc8d62" stroke-opacity="0.5" stroke-width="3.12" d="M1366.5 849.5H1383.5V849.5H1366.5Z"/>
<path fill="none" stroke="#fc8d62" stroke-opacity="0.5" stroke-width="3.12" d="M1383.5 849.5H1401.5V849.5H1383.5Z"/>
<path fill="none" stroke="#fc8d62" stroke-opacity="0.5" stroke-width="3.12" d="M1401.5 849.5H1419.5V849.5H1401.5Z"/>
<path fill="none" stroke="#fc8d62" stroke-opacity="0.5" stroke-width="3.12" d="M1419.5 849.5H1436.5V849.5H1419.5Z"/>
<path fill="none" stroke="#fc8d62" stroke-opacity="0.5" stroke-width="3.12" d="M1436.5 849.5H1454.5V849.5H1436.5Z"/>
<path fill="none" stroke="#ffd92f" stroke-opacity="0.5" stroke-width="3.12" d="M835.5 849.5H853.5V835.5H835.5Z"/>
<path fill="none" stroke="#ffd92f" stroke-opacity="0.5" stroke-width="3.12" d="M853.5 849.5H871.5V831.5H853.5Z"/>
<path fill="none" stroke="#ffd92f" stroke-opacity="0.5" stroke-width="3.12" d="M871.5 849.5H888.5V831.5H871.5Z"/>
<path fill="none" stroke="#ffd92f" stroke-opacity="0.5" stroke-width="3.12" d="M888.5 849.5H906.5V840.5H888.5Z"/>
<path fill="none" stroke="#ffd92f" stroke-opacity="0.5" stroke-width="3.12" d="M906.5 849.5H924.5V835.5H906.5Z"/>
<path fill="none" stroke="#ffd92f" stroke-opacity="0.5" stroke-width="3.12" d="M924.5 849.5H941.5V831.5H924.5Z"/>
<path fill="none" stroke="#ffd92f" stroke-opacity="0.5" stroke-width="3.12" d="M941.5 849.5H959.5V835.5H941.5Z"/>
<path fill="none" stroke="#ffd92f" stroke-opacity="0.5" stroke-width="3.12" d="M959.5 849.5H977.5V813.5H959.5Z"/>
<path fill="none" stroke="#ffd92f" stroke-opacity="0.5" stroke-width="3.12" d="M977.5 849.5H994.5V813.5H977.5Z"/>
<path fill="none" stroke="#ffd92f" stroke-opacity="0.5" stroke-width="3.12" d="M994.5 849.5H1012.5V803.5H994.5Z"/>
<path fill="none" stroke="#ffd92f" stroke-opacity="0.5" stroke-width="3.12" d="M1012.5 849.5H1030.5V794.5H1012.5Z"/>
<path fill="none" stroke="#ffd92f" stroke-opacity="0.5" stroke-width="3.12" d="M1030.5 849.5H1047.5V822.5H1030.5Z"/>
<path fill="none" stroke="#ffd92f" stroke-opacity="0.5" stroke-width="3.12" d="M1047.5 849.5H1065.5V831.5H1047.5Z"/>
<path fill="none" stroke="#ffd92f" stroke-opacity="0.5" stroke-width="3.12" d="M1065.5 849.5H1083.5V817.5H1065.5Z"/>
<path fill="none" stroke="#ffd92f" stroke-opacity="0.5" stroke-width="3.12" d="M1083.5 849.5H1101.5V808.5H1083.5Z"/>
<path fill="none" stroke="#ffd92f" stroke-opacity="0.5" stroke-width="3.12" d="M1101.5 849.5H1118.5V822.5H1101.5Z"/>
<path fill="none" stroke="#ffd92f" stroke-opacity="0.5" stroke-width="3.12" d="M1118.5 849.5H1136.5V813.5H1118.5Z"/>
<path fill="none" stroke="#ffd92f" stroke-opacity="0.5" stroke-width="3.12" d="M1136.5 849.5H1154.5V826.5H1136.5Z"/>
<path fill="none" stroke="#ffd92f" stroke-opacity="0.5" stroke-width="3.12" d="M1154.5 849.5H1171.5V817.5H1154.5Z"/>
<path fill="none" stroke="#ffd92f" stroke-opacity="0.5" stroke-width="3.12" d="M1171.5 849.5H1189.5V826.5H1171.5Z"/>
<path fill="none" stroke="#ffd92f" stroke-opacity="0.5" stroke-width="3.12" d="M1189.5 849.5H1207.5V831.5H1189.5Z"/>
<path fill="none" stroke="#ffd92f" stroke-opacity="0.5" stroke-width="3.12" d="M1207.5 849.5H1224.5V849.5H1207.5Z"/>
<path fill="none" stroke="#ffd92f" stroke-opacity="0.5" stroke-width="3.12" d="M1224.5 849.5H1242.5V845.5H1224.5Z"/>
<path fill="none" stroke="#ffd92f" stroke-opacity="0.5" stroke-width="3.12" d="M1242.5 849.5H1260.5V845.5H1242.5Z"/>
<path fill="none" stroke="#ffd92f" stroke-opacity="0.5" stroke-width="3.12" d="M1260.5 849.5H1277.5V845.5H1260.5Z"/>
<path fill="none" stroke="#ffd92f" stroke-opacity="0.5" stroke-width="3.12" d="M1277.5 849.5H1295.5V831.5H1277.5Z"/>
<path fill="none" stroke="#ffd92f" stroke-opacity="0.5" stroke-width="3.12" d="M1295.5 849.5H1313.5V845.5H1295.5Z"/>
<path fill="none" stroke="#ffd92f" stroke-opacity="0.5" stroke-width="3.12" d="M1313.5 849.5H1330.5V849.5H1313.5Z"/>
<path fill="none" stroke="#ffd92f" stroke-opacity="0.5" stroke-width="3.12" d="M1330.5 849.5H1348.5V849.5H1330.5Z"/>
<path fill="none" stroke="#ffd92f" stroke-opacity="0.5" stroke-width="3.12" d="M1348.5 849.5H1366.5V845.5H1348.5Z"/>
<path fill="none" stroke="#ffd92f" stroke-opacity="0.5" stroke-width="3.12" d="M1366.5 849.5H1383.5V849.5H1366.5Z"/>
<path fill="none" stroke="#ffd92f" stroke-opacity="0.5" stroke-width="3.12" d="M1383.5 849.5H1401.5V849.5H1383.5Z"/>
<path fill="none" stroke="#ffd92f" stroke-opacity="0.5" stroke-width="3.12" d="M1401.5 849.5H1419.5V849.5H1401.5Z"/>
<path fill="none" stroke="#ffd92f" stroke-opacity="0.5" stroke-width="3.12" d="M1419.5 849.5H1436.5V849.5H1419.5Z"/>
<path fill="none" stroke="#ffd92f" stroke-opacity="0.5" stroke-width="3.12" d="M1436.5 849.5H1454.5V849.5H1436.5Z"/>
<path fill="none" stroke="#66c2a5" stroke-opacity="0.5" stroke-width="3.12" d="M835.5 849.5H853.5V817.5H835.5Z"/>
<path fill="none" stroke="#66c2a5" stroke-opacity="0.5" stroke-width="3.12" d="M853.5 849.5H871.5V826.5H853.5Z"/>
<path fill="none" stroke="#66c2a5" stroke-opacity="0.5" stroke-width="3.12" d="M871.5 849.5H888.5V831.5H871.5Z"/>
<path fill="none" stroke="#66c2a5" stroke-opacity="0.5" stroke-width="3.12" d="M888.5 849.5H906.5V835.5H888.5Z"/>
<path fill="none" stroke="#66c2a5" stroke-opacity="0.5" stroke-width="3.12" d="M906.5 849.5H924.5V826.5H906.5Z"/>
<path fill="none" stroke="#66c2a5" stroke-opacity="0.5" stroke-width="3.12" d="M924.5 849.5H941.5V826.5H924.5Z"/>
<path fill="none" stroke="#66c2a5" stroke-opacity="0.5" stroke-width="3.12" d="M941.5 849.5H959.5V826.5H941.5Z"/>
<path fill="none" stroke="#66c2a5" stroke-opacity="0.5" stroke-width="3.12" d="M959.5 849.5H977.5V840.5H959.5Z"/>
<path fill="none" stroke="#66c2a5" stroke-opacity="0.5" stroke-width="3.12" d="M977.5 849.5H994.5V849.5H977.5Z"/>
<path fill="none" stroke="#66c2a5" stroke-opacity="0.5" stroke-width="3.12" d="M994.5 849.5H1012.5V822.5H994.5Z"/>
<path fill="none" stroke="#66c2a5" stroke-opacity="0.5" stroke-width="3.12" d="M1012.5 849.5H1030.5V831.5H1012.5Z"/>
<path fill="none" stroke="#66c2a5" stroke-opacity="0.5" stroke-width="3.12" d="M1030.5 849.5H1047.5V822.5H1030.5Z"/>
<path fill="none" stroke="#66c2a5" stroke-opacity="0.5" stroke-width="3.12" d="M1047.5 849.5H1065.5V835.5H1047.5Z"/>
<path fill="none" stroke="#66c2a5" stroke-opacity="0.5" stroke-width="3.12" d="M1065.5 849.5H1083.5V835.5H1065.5Z"/>
<path fill="none" stroke="#66c2a5" stroke-opacity="0.5" stroke-width="3.12" d="M1083.5 849.5H1101.5V840.5H1083.5Z"/>
<path fill="none" stroke="#66c2a5" stroke-opacity="0.5" stroke-width="3.12" d="M1101.5 849.5H1118.5V840.5H1101.5Z"/>
<path fill="none" stroke="#66c2a5" stroke-opacity="0.5" stroke-width="3.12" d="M1118.5 849.5H1136.5V840.5H1118.5Z"/>
<path fill="none" stroke="#66c2a5" stroke-opacity="0.5" stroke-width="3.12" d="M1136.5 849.5H1154.5V849.5H1136.5Z"/>
<path fill="none" stroke="#66c2a5" stroke-opacity="0.5" stroke-width="3.12" d="M1154.5 849.5H1171.5V845.5H1154.5Z"/>
<path fill="none" stroke="#66c2a5" stroke-opacity="0.5" stroke-width="3.12" d="M1171.5 849.5H1189.5V849.5H1171.5Z"/>
<path fill="none" stroke="#66c2a5" stroke-opacity="0.5" stroke-width="3.12" d="M1189.5 849.5H1207.5V845.5H1189.5Z"/>
<path fill="none" stroke="#66c2a5" stroke-opacity="0.5" stroke-width="3.12" d="M1207.5 849.5H1224.5V845.5H1207.5Z"/>
<path fill="none" stroke="#66c2a5" stroke-opacity="0.5" stroke-width="3.12" d="M1224.5 849.5H1242.5V845.5H1224.5Z"/>
<path fill="none" stroke="#66c2a5" stroke-opacity="0.5" stroke-width="3.12" d="M1242.5 849.5H1260.5V845.5H1242.5Z"/>
<path fill="none" stroke="#66c2a5" stroke-opacity="0.5" stroke-width="3.12" d="M1260.5 849.5H1277.5V845.5H1260.5Z"/>
<path fill="none" stroke="#66c2a5" stroke-opacity="0.5" stroke-width="3.12" d="M1277.5 849.5H1295.5V849.5H1277.5Z"/>
<path fill="none" stroke="#66c2a5" stroke-opacity="0.5" stroke-width="3.12" d="M1295.5 849.5H1313.5V849.5H1295.5Z"/>
<path fill="none" stroke="#66c2a5" stroke-opacity="0.5" stroke-width="3.12" d="M1313.5 849.5H1330.5V849.5H1313.5Z"/>
<path fill="none" stroke="#66c2a5" stroke-opacity="0.5" stroke-width="3.12" d="M1330.5 849.5H1348.5V849.5H1330.5Z"/>
<path fill="none" stroke="#66c2a5" stroke-opacity="0.5" stroke-width="3.12" d="M1348.5 849.5H1366.5V849.5H1348.5Z"/>
<path fill="none" stroke="#66c2a5" stroke-opacity="0.5" stroke-width="3.12" d="M1366.5 849.5H1383.5V849.5H1366.5Z"/>
<path fill="none" stroke="#66c2a5" stroke-opacity="0.5" stroke-width="3.12" d="M1383.5 849.5H1401.5V849.5H1383.5Z"/>
<path fill="none" stroke="#66c2a5" stroke-opacity="0.5" stroke-width="3.12" d="M1401.5 849.5H1419.5V849.5H1401.5Z"/>
<path fill="none" stroke="#66c2a5" stroke-opacity="0.5" stroke-width="3.12" d="M1419.5 849.5H1436.5V849.5H1419.5Z"/>
<path fill="none" stroke="#66c2a5" stroke-opacity="0.5" stroke-width="3.12" d="M1436.5 849.5H1454.5V849.5H1436.5Z"/>
<path fill="none" stroke="#8da0cb" stroke-opacity="0.5" stroke-width="3.12" d="M835.5 849.5H853.5V849.5H835.5Z"/>
<path fill="none" stroke="#8da0cb" stroke-opacity="0.5" stroke-width="3.12" d="M853.5 849.5H871.5V849.5H853.5Z"/>
<path fill="none" stroke="#8da0cb" stroke-opacity="0.5" stroke-width="3.12" d="M871.5 849.5H888.5V840.5H871.5Z"/>
<path fill="none" stroke="#8da0cb" stroke-opacity="0.5" stroke-width="3.12" d="M888.5 849.5H906.5V840.5H888.5Z"/>
<path fill="none" stroke="#8da0cb" stroke-opacity="0.5" stroke-width="3.12" d="M906.5 849.5H924.5V845.5H906.5Z"/>
<path fill="none" stroke="#8da0cb" stroke-opacity="0.5" stroke-width="3.12" d="M924.5 849.5H941.5V840.5H924.5Z"/>
<path fill="none" stroke="#8da0cb" stroke-opacity="0.5" stroke-width="3.12" d="M941.5 849.5H959.5V849.5H941.5Z"/>
<path fill="none" stroke="#8da0cb" stroke-opacity="0.5" stroke-width="3.12" d="M959.5 849.5H977.5V849.5H959.5Z"/>
<path fill="none" stroke="#8da0cb" stroke-opacity="0.5" stroke-width="3.12" d="M977.5 849.5H994.5V849.5H977.5Z"/>
<path fill="none" stroke="#8da0cb" stroke-opacity="0.5" stroke-width="3.12" d="M994.5 849.5H1012.5V845.5H994.5Z"/>
<path fill="none" stroke="#8da0cb" stroke-opacity="0.5" stroke-width="3.12" d="M1012.5 849.5H1030.5V849.5H1012.5Z"/>
<path fill="none" stroke="#8da0cb" stroke-opacity="0.5" stroke-width="3.12" d="M1030.5 849.5H1047.5V845.5H1030.5Z"/>
<path fill="none" stroke="#8da0cb" stroke-opacity="0.5" stroke-width="3.12" d="M1047.5 849.5H1065.5V845.5H1047.5Z"/>
<path fill="none" stroke="#8da0cb" stroke-opacity="0.5" stroke-width="3.12" d="M1065.5 849.5H1083.5V840.5H1065.5Z"/>
<path fill="none" stroke="#8da0cb" stroke-opacity="0.5" stroke-width="3.12" d="M1083.5 849.5H1101.5V849.5H1083.5Z"/>
<path fill="none" stroke="#8da0cb" stroke-opacity="0.5" stroke-width="3.12" d="M1101.5 849.5H1118.5V845.5H1101.5Z"/>
<path fill="none" stroke="#8da0cb" stroke-opacity="0.5" stroke-width="3.12" d="M1118.5 849.5H1136.5V840.5H1118.5Z"/>
<path fill="none" stroke="#8da0cb" stroke-opacity="0.5" stroke-width="3.12" d="M1136.5 849.5H1154.5V849.5H1136.5Z"/>
<path fill="none" stroke="#8da0cb" stroke-opacity="0.5" stroke-width="3.12" d="M1154.5 849.5H1171.5V849.5H1154.5Z"/>
<path fill="none" stroke="#8da0cb" stroke-opacity="0.5" stroke-width="3.12" d="M1171.5 849.5H1189.5V845.5H1171.5Z"/>
<path fill="none" stroke="#8da0cb" stroke-opacity="0.5" stroke-width="3.12" d="M1189.5 849.5H1207.5V845.5H1189.5Z"/>
<path fill="none" stroke="#8da0cb" stroke-opacity="0.5" stroke-width="3.12" d="M1207.5 849.5H1224.5V849.5H1207.5Z"/>
<path fill="none" stroke="#8da0cb" stroke-opacity="0.5" stroke-width="3.12" d="M1224.5 849.5H1242.5V849.5H1224.5Z"/>
<path fill="none" stroke="#8da0cb" stroke-opacity="0.5" stroke-width="3.12" d="M1242.5 849.5H1260.5V849.5H1242.5Z"/>
<path fill="none" stroke="#8da0cb" stroke-opacity="0.5" stroke-width="3.12" d="M1260.5 849.5H1277.5V849.5H1260.5Z"/>
<path fill="none" stroke="#8da0cb" stroke-opacity="0.5" stroke-width="3.12" d="M1277.5 849.5H1295.5V849.5H1277.5Z"/>
<path fill="none" stroke="#8da0cb" stroke-opacity="0.5" stroke-width="3.12" d="M1295.5 849.5H1313.5V849.5H1295.5Z"/>
<path fill="none" stroke="#8da0cb" stroke-opacity="0.5" stroke-width="3.12" d="M1313.5 849.5H1330.5V849.5H1313.5Z"/>
<path fill="none" stroke="#8da0cb" stroke-opacity="0.5" stroke-width="3.12" d="M1330.5 849.5H1348.5V849.5H1330.5Z"/>
<path fill="none" stroke="#8da0cb" stroke-opacity="0.5" stroke-width="3.12" d="M1348.5 849.5H1366.5V849.5H1348.5Z"/>
<path fill="none" stroke="#8da0cb" stroke-opacity="0.5" stroke-width="3.12" d="M1366.5 849.5H1383.5V849.5H1366.5Z"/>
<path fill="none" stroke="#8da0cb" stroke-opacity="0.5" stroke-width="3.12" d="M1383.5 849.5H1401.5V849.5H1383.5Z"/>
<path fill="none" stroke="#8da0cb" stroke-opacity="0.5" stroke-width="3.12" d="M1401.5 849.5H1419.5V849.5H1401.5Z"/>
<path fill="none" stroke="#8da0cb" stroke-opacity="0.5" stroke-width="3.12" d="M1419.5 849.5H1436.5V849.5H1419.5Z"/>
<path fill="none" stroke="#8da0cb" stroke-opacity="0.5" stroke-width="3.12" d="M1436.5 849.5H1454.5V849.5H1436.5Z"/>
<path fill="none" stroke="#e5c494" stroke-opacity="0.5" stroke-width="3.12" d="M835.5 849.5H853.5V76.5H835.5Z"/>
<path fill="none" stroke="#e5c494" stroke-opacity="0.5" stroke-width="3.12" d="M853.5 849.5H871.5V186.5H853.5Z"/>
<path fill="none" stroke="#e5c494" stroke-opacity="0.5" stroke-width="3.12" d="M871.5 849.5H888.5V209.5H871.5Z"/>
<path fill="none" stroke="#e5c494" stroke-opacity="0.5" stroke-width="3.12" d="M888.5 849.5H906.5V369.5H888.5Z"/>
<path fill="none" stroke="#e5c494" stroke-opacity="0.5" stroke-width="3.12" d="M906.5 849.5H924.5V465.5H906.5Z"/>
<path fill="none" stroke="#e5c494" stroke-opacity="0.5" stroke-width="3.12" d="M924.5 849.5H941.5V506.5H924.5Z"/>
<path fill="none" stroke="#e5c494" stroke-opacity="0.5" stroke-width="3.12" d="M941.5 849.5H959.5V511.5H941.5Z"/>
<path fill="none" stroke="#e5c494" stroke-opacity="0.5" stroke-width="3.12" d="M959.5 849.5H977.5V680.5H959.5Z"/>
<path fill="none" stroke="#e5c494" stroke-opacity="0.5" stroke-width="3.12" d="M977.5 849.5H994.5V639.5H977.5Z"/>
<path fill="none" stroke="#e5c494" stroke-opacity="0.5" stroke-width="3.12" d="M994.5 849.5H1012.5V712.5H994.5Z"/>
<path fill="none" stroke="#e5c494" stroke-opacity="0.5" stroke-width="3.12" d="M1012.5 849.5H1030.5V744.5H1012.5Z"/>
<path fill="none" stroke="#e5c494" stroke-opacity="0.5" stroke-width="3.12" d="M1030.5 849.5H1047.5V758.5H1030.5Z"/>
<path fill="none" stroke="#e5c494" stroke-opacity="0.5" stroke-width="3.12" d="M1047.5 849.5H1065.5V785.5H1047.5Z"/>
<path fill="none" stroke="#e5c494" stroke-opacity="0.5" stroke-width="3.12" d="M1065.5 849.5H1083.5V785.5H1065.5Z"/>
<path fill="none" stroke="#e5c494" stroke-opacity="0.5" stroke-width="3.12" d="M1083.5 849.5H1101.5V817.5H1083.5Z"/>
<path fill="none" stroke="#e5c494" stroke-opacity="0.5" stroke-width="3.12" d="M1101.5 849.5H1118.5V813.5H1101.5Z"/>
<path fill="none" stroke="#e5c494" stroke-opacity="0.5" stroke-width="3.12" d="M1118.5 849.5H1136.5V840.5H1118.5Z"/>
<path fill="none" stroke="#e5c494" stroke-opacity="0.5" stroke-width="3.12" d="M1136.5 849.5H1154.5V817.5H1136.5Z"/>
<path fill="none" stroke="#e5c494" stroke-opacity="0.5" stroke-width="3.12" d="M1154.5 849.5H1171.5V845.5H1154.5Z"/>
<path fill="none" stroke="#e5c494" stroke-opacity="0.5" stroke-width="3.12" d="M1171.5 849.5H1189.5V835.5H1171.5Z"/>
<path fill="none" stroke="#e5c494" stroke-opacity="0.5" stroke-width="3.12" d="M1189.5 849.5H1207.5V849.5H1189.5Z"/>
<path fill="none" stroke="#e5c494" stroke-opacity="0.5" stroke-width="3.12" d="M1207.5 849.5H1224.5V849.5H1207.5Z"/>
<path fill="none" stroke="#e5c494" stroke-opacity="0.5" stroke-width="3.12" d="M1224.5 849.5H1242.5V849.5H1224.5Z"/>
<path fill="none" stroke="#e5c494" stroke-opacity="0.5" stroke-width="3.12" d="M1242.5 849.5H1260.5V849.5H1242.5Z"/>
<path fill="none" stroke="#e5c494" stroke-opacity="0.5" stroke-width="3.12" d="M1260.5 849.5H1277.5V849.5H1260.5Z"/>
<path fill="none" stroke="#e5c494" stroke-opacity="0.5" stroke-width="3.12" d="M1277.5 849.5H1295.5V849.5H1277.5Z"/>
<path fill="none" stroke="#e5c494" stroke-opacity="0.5" stroke-width="3.12" d="M1295.5 849.5H1313.5V849.5H1295.5Z"/>
<path fill="none" stroke="#e5c494" stroke-opacity="0.5" stroke-width="3.12" d="M1313.5 849.5H1330.5V849.5H1313.5Z"/>
<path fill="none" stroke="#e5c494" stroke-opacity="0.5" stroke-width="3.12" d="M1330.5 849.5H1348.5V849.5H1330.5Z"/>
<path fill="none" stroke="#e5c494" stroke-opacity="0.5" stroke-width="3.12" d="M1348.5 849.5H1366.5V849.5H1348.5Z"/>
<path fill="none" stroke="#e5c494" stroke-opacity="0.5" stroke-width="3.12" d="M1366.5 849.5H1383.5V849.5H1366.5Z"/>
<path fill="none" stroke="#e5c494" stroke-opacity="0.5" stroke-width="3.12" d="M1383.5 849.5H1401.5V849.5H1383.5Z"/>
<path fill="none" stroke="#e5c494" stroke-opacity="0.5" stroke-width="3.12" d="M1401.5 849.5H1419.5V849.5H1401.5Z"/>
<path fill="none" stroke="#e5c494" stroke-opacity="0.5" stroke-width="3.12" d="M1419.5 849.5H1436.5V849.5H1419.5Z"/>
<path fill="none" stroke="#e5c494" stroke-opacity="0.5" stroke-width="3.12" d="M1436.5 849.5H1454.5V849.5H1436.5Z"/>
<path fill="none" stroke="#ffd92f" stroke-opacity="0.5" stroke-width="3.12" d="M835.5 849.5H853.5V835.5H835.5Z"/>
<path fill="none" stroke="#ffd92f" stroke-opacity="0.5" stroke-width="3.12" d="M853.5 849.5H871.5V813.5H853.5Z"/>
<path fill="none" stroke="#ffd92f" stroke-opacity="0.5" stroke-width="3.12" d="M871.5 849.5H888.5V822.5H871.5Z"/>
<path fill="none" stroke="#ffd92f" stroke-opacity="0.5" stroke-width="3.12" d="M888.5 849.5H906.5V835.5H888.5Z"/>
<path fill="none" stroke="#ffd92f" stroke-opacity="0.5" stroke-width="3.12" d="M906.5 849.5H924.5V817.5H906.5Z"/>
<path fill="none" stroke="#ffd92f" stroke-opacity="0.5" stroke-width="3.12" d="M924.5 849.5H941.5V822.5H924.5Z"/>
<path fill="none" stroke="#ffd92f" stroke-opacity="0.5" stroke-width="3.12" d="M941.5 849.5H959.5V845.5H941.5Z"/>
<path fill="none" stroke="#ffd92f" stroke-opacity="0.5" stroke-width="3.12" d="M959.5 849.5H977.5V831.5H959.5Z"/>
<path fill="none" stroke="#ffd92f" stroke-opacity="0.5" stroke-width="3.12" d="M977.5 849.5H994.5V817.5H977.5Z"/>
<path fill="none" stroke="#ffd92f" stroke-opacity="0.5" stroke-width="3.12" d="M994.5 849.5H1012.5V845.5H994.5Z"/>
<path fill="none" stroke="#ffd92f" stroke-opacity="0.5" stroke-width="3.12" d="M1012.5 849.5H1030.5V849.5H1012.5Z"/>
<path fill="none" stroke="#ffd92f" stroke-opacity="0.5" stroke-width="3.12" d="M1030.5 849.5H1047.5V849.5H1030.5Z"/>
<path fill="none" stroke="#ffd92f" stroke-opacity="0.5" stroke-width="3.12" d="M1047.5 849.5H1065.5V845.5H1047.5Z"/>
<path fill="none" stroke="#ffd92f" stroke-opacity="0.5" stroke-width="3.12" d="M1065.5 849.5H1083.5V849.5H1065.5Z"/>
<path fill="none" stroke="#ffd92f" stroke-opacity="0.5" stroke-width="3.12" d="M1083.5 849.5H1101.5V849.5H1083.5Z"/>
<path fill="none" stroke="#ffd92f" stroke-opacity="0.5" stroke-width="3.12" d="M1101.5 849.5H1118.5V849.5H1101.5Z"/>
<path fill="none" stroke="#ffd92f" stroke-opacity="0.5" stroke-width="3.12" d="M1118.5 849.5H1136.5V849.5H1118.5Z"/>
<path fill="none" stroke="#ffd92f" stroke-opacity="0.5" stroke-width="3.12" d="M1136.5 849.5H1154.5V849.5H1136.5Z"/>
<path fill="none" stroke="#ffd92f" stroke-opacity="0.5" stroke-width="3.12" d="M1154.5 849.5H1171.5V849.5H1154.5Z"/>
<path fill="none" stroke="#ffd92f" stroke-opacity="0.5" stroke-width="3.12" d="M1171.5 849.5H1189.5V849.5H1171.5Z"/>
<path fill="none" stroke="#ffd92f" stroke-opacity="0.5" stroke-width="3.12" d="M1189.5 849.5H1207.5V849.5H1189.5Z"/>
<path fill="none" stroke="#ffd92f" stroke-opacity="0.5" stroke-width="3.12" d="M1207.5 849.5H1224.5V849.5H1207.5Z"/>
<path fill="none" stroke="#ffd92f" stroke-opacity="0.5" stroke-width="3.12" d="M1224.5 849.5H1242.5V849.5H1224.5Z"/>
<path fill="none" stroke="#ffd92f" stroke-opacity="0.5" stroke-width="3.12" d="M1242.5 849.5H1260.5V849.5H1242.5Z"/>
<path fill="none" stroke="#ffd92f" stroke-opacity="0.5" stroke-width="3.12" d="M1260.5 849.5H1277.5V849.5H1260.5Z"/>
<path fill="none" stroke="#ffd92f" stroke-opacity="0.5" stroke-width="3.12" d="M1277.5 849.5H1295.5V849.5H1277.5Z"/>
<path fill="none" stroke="#ffd92f" stroke-opacity="0.5" stroke-width="3.12" d="M1295.5 849.5H1313.5V849.5H1295.5Z"/>
<path fill="none" stroke="#ffd92f" stroke-opacity="0.5" stroke-width="3.12" d="M1313.5 849.5H1330.5V849.5H1313.5Z"/>
<path fill="none" stroke="#ffd92f" stroke-opacity="0.5" stroke-width="3.12" d="M1330.5 849.5H1348.5V849.5H1330.5Z"/>
<path fill="none" stroke="#ffd92f" stroke-opacity="0.5" stroke-width="3.12" d="M1348.5 849.5H1366.5V849.5H1348.5Z"/>
<path fill="none" stroke="#ffd92f" stroke-opacity="0.5" stroke-width="3.12" d="M1366.5 849.5H1383.5V849.5H1366.5Z"/>
<path fill="none" stroke="#ffd92f" stroke-opacity="0.5" stroke-width="3.12" d="M1383.5 849.5H1401.5V849.5H1383.5Z"/>
<path fill="none" stroke="#ffd92f" stroke-opacity="0.5" stroke-width="3.12" d="M1401.5 849.5H1419.5V849.5H1401.5Z"/>
<path fill="none" stroke="#ffd92f" stroke-opacity="0.5" stroke-width="3.12" d="M1419.5 849.5H1436.5V849.5H1419.5Z"/>
<path fill="none" stroke="#ffd92f" stroke-opacity="0.5" stroke-width="3.12" d="M1436.5 849.5H1454.5V849.5H1436.5Z"/>
<path fill="none" stroke="#a6d854" stroke-opacity="0.5" stroke-width="3.12" d="M835.5 849.5H853.5V657.5H835.5Z"/>
<path fill="none" stroke="#a6d854" stroke-opacity="0.5" stroke-width="3.12" d="M853.5 849.5H871.5V698.5H853.5Z"/>
<path fill="none" stroke="#a6d854" stroke-opacity="0.5" stroke-width="3.12" d="M871.5 849.5H888.5V666.5H871.5Z"/>
<path fill="none" stroke="#a6d854" stroke-opacity="0.5" stroke-width="3.12" d="M888.5 849.5H906.5V712.5H888.5Z"/>
<path fill="none" stroke="#a6d854" stroke-opacity="0.5" stroke-width="3.12" d="M906.5 849.5H924.5V680.5H906.5Z"/>
<path fill="none" stroke="#a6d854" stroke-opacity="0.5" stroke-width="3.12" d="M924.5 849.5H941.5V698.5H924.5Z"/>
<path fill="none" stroke="#a6d854" stroke-opacity="0.5" stroke-width="3.12" d="M941.5 849.5H959.5V776.5H941.5Z"/>
<path fill="none" stroke="#a6d854" stroke-opacity="0.5" stroke-width="3.12" d="M959.5 849.5H977.5V749.5H959.5Z"/>
<path fill="none" stroke="#a6d854" stroke-opacity="0.5" stroke-width="3.12" d="M977.5 849.5H994.5V799.5H977.5Z"/>
<path fill="none" stroke="#a6d854" stroke-opacity="0.5" stroke-width="3.12" d="M994.5 849.5H1012.5V762.5H994.5Z"/>
<path fill="none" stroke="#a6d854" stroke-opacity="0.5" stroke-width="3.12" d="M1012.5 849.5H1030.5V790.5H1012.5Z"/>
<path fill="none" stroke="#a6d854" stroke-opacity="0.5" stroke-width="3.12" d="M1030.5 849.5H1047.5V803.5H1030.5Z"/>
<path fill="none" stroke="#a6d854" stroke-opacity="0.5" stroke-width="3.12" d="M1047.5 849.5H1065.5V835.5H1047.5Z"/>
<path fill="none" stroke="#a6d854" stroke-opacity="0.5" stroke-width="3.12" d="M1065.5 849.5H1083.5V826.5H1065.5Z"/>
<path fill="none" stroke="#a6d854" stroke-opacity="0.5" stroke-width="3.12" d="M1083.5 849.5H1101.5V845.5H1083.5Z"/>
<path fill="none" stroke="#a6d854" stroke-opacity="0.5" stroke-width="3.12" d="M1101.5 849.5H1118.5V845.5H1101.5Z"/>
<path fill="none" stroke="#a6d854" stroke-opacity="0.5" stroke-width="3.12" d="M1118.5 849.5H1136.5V849.5H1118.5Z"/>
<path fill="none" stroke="#a6d854" stroke-opacity="0.5" stroke-width="3.12" d="M1136.5 849.5H1154.5V845.5H1136.5Z"/>
<path fill="none" stroke="#a6d854" stroke-opacity="0.5" stroke-width="3.12" d="M1154.5 849.5H1171.5V840.5H1154.5Z"/>
<path fill="none" stroke="#a6d854" stroke-opacity="0.5" stroke-width="3.12" d="M1171.5 849.5H1189.5V849.5H1171.5Z"/>
<path fill="none" stroke="#a6d854" stroke-opacity="0.5" stroke-width="3.12" d="M1189.5 849.5H1207.5V849.5H1189.5Z"/>
<path fill="none" stroke="#a6d854" stroke-opacity="0.5" stroke-width="3.12" d="M1207.5 849.5H1224.5V849.5H1207.5Z"/>
<path fill="none" stroke="#a6d854" stroke-opacity="0.5" stroke-width="3.12" d="M1224.5 849.5H1242.5V849.5H1224.5Z"/>
<path fill="none" stroke="#a6d854" stroke-opacity="0.5" stroke-width="3.12" d="M1242.5 849.5H1260.5V849.5H1242.5Z"/>
<path fill="none" stroke="#a6d854" stroke-opacity="0.5" stroke-width="3.12" d="M1260.5 849.5H1277.5V849.5H1260.5Z"/>
<path fill="none" stroke="#a6d854" stroke-opacity="0.5" stroke-width="3.12" d="M1277.5 849.5H1295.5V845.5H1277.5Z"/>
<path fill="none" stroke="#a6d854" stroke-opacity="0.5" stroke-width="3.12" d="M1295.5 849.5H1313.5V849.5H1295.5Z"/>
<path fill="none" stroke="#a6d854" stroke-opacity="0.5" stroke-width="3.12" d="M1313.5 849.5H1330.5V849.5H1313.5Z"/>
<path fill="none" stroke="#a6d854" stroke-opacity="0.5" stroke-width="3.12" d="M1330.5 849.5H1348.5V849.5H1330.5Z"/>
<path fill="none" stroke="#a6d854" stroke-opacity="0.5" stroke-width="3.12" d="M1348.5 849.5H1366.5V849.5H1348.5Z"/>
<path fill="none" stroke="#a6d854" stroke-opacity="0.5" stroke-width="3.12" d="M1366.5 849.5H1383.5V849.5H1366.5Z"/>
<path fill="none" stroke="#a6d854" stroke-opacity="0.5" stroke-width="3.12" d="M1383.5 849.5H1401.5V849.5H1383.5Z"/>
<path fill="none" stroke="#a6d854" stroke-opacity="0.5" stroke-width="3.12" d="M1401.5 849.5H1419.5V849.5H1401.5Z"/>
<path fill="none" stroke="#a6d854" stroke-opacity="0.5" stroke-width="3.12" d="M1419.5 849.5H1436.5V849.5H1419.5Z"/>
<path fill="none" stroke="#a6d854" stroke-opacity="0.5" stroke-width="3.12" d="M1436.5 849.5H1454.5V849.5H1436.5Z"/>
<path fill="none" stroke="#b3b3b3" stroke-opacity="0.5" stroke-width="3.12" d="M835.5 849.5H853.5V355.5H835.5Z"/>
<path fill="none" stroke="#b3b3b3" stroke-opacity="0.5" stroke-width="3.12" d="M853.5 849.5H871.5V460.5H853.5Z"/>
<path fill="none" stroke="#b3b3b3" stroke-opacity="0.5" stroke-width="3.12" d="M871.5 849.5H888.5V529.5H871.5Z"/>
<path fill="none" stroke="#b3b3b3" stroke-opacity="0.5" stroke-width="3.12" d="M888.5 849.5H906.5V657.5H888.5Z"/>
<path fill="none" stroke="#b3b3b3" stroke-opacity="0.5" stroke-width="3.12" d="M906.5 849.5H924.5V675.5H906.5Z"/>
<path fill="none" stroke="#b3b3b3" stroke-opacity="0.5" stroke-width="3.12" d="M924.5 849.5H941.5V721.5H924.5Z"/>
<path fill="none" stroke="#b3b3b3" stroke-opacity="0.5" stroke-width="3.12" d="M941.5 849.5H959.5V730.5H941.5Z"/>
<path fill="none" stroke="#b3b3b3" stroke-opacity="0.5" stroke-width="3.12" d="M959.5 849.5H977.5V790.5H959.5Z"/>
<path fill="none" stroke="#b3b3b3" stroke-opacity="0.5" stroke-width="3.12" d="M977.5 849.5H994.5V803.5H977.5Z"/>
<path fill="none" stroke="#b3b3b3" stroke-opacity="0.5" stroke-width="3.12" d="M994.5 849.5H1012.5V817.5H994.5Z"/>
<path fill="none" stroke="#b3b3b3" stroke-opacity="0.5" stroke-width="3.12" d="M1012.5 849.5H1030.5V845.5H1012.5Z"/>
<path fill="none" stroke="#b3b3b3" stroke-opacity="0.5" stroke-width="3.12" d="M1030.5 849.5H1047.5V826.5H1030.5Z"/>
<path fill="none" stroke="#b3b3b3" stroke-opacity="0.5" stroke-width="3.12" d="M1047.5 849.5H1065.5V831.5H1047.5Z"/>
<path fill="none" stroke="#b3b3b3" stroke-opacity="0.5" stroke-width="3.12" d="M1065.5 849.5H1083.5V840.5H1065.5Z"/>
<path fill="none" stroke="#b3b3b3" stroke-opacity="0.5" stroke-width="3.12" d="M1083.5 849.5H1101.5V845.5H1083.5Z"/>
<path fill="none" stroke="#b3b3b3" stroke-opacity="0.5" stroke-width="3.12" d="M1101.5 849.5H1118.5V845.5H1101.5Z"/>
<path fill="none" stroke="#b3b3b3" stroke-opacity="0.5" stroke-width="3.12" d="M1118.5 849.5H1136.5V845.5H1118.5Z"/>
<path fill="none" stroke="#b3b3b3" stroke-opacity="0.5" stroke-width="3.12" d="M1136.5 849.5H1154.5V845.5H1136.5Z"/>
<path fill="none" stroke="#b3b3b3" stroke-opacity="0.5" stroke-width="3.12" d="M1154.5 849.5H1171.5V849.5H1154.5Z"/>
<path fill="none" stroke="#b3b3b3" stroke-opacity="0.5" stroke-width="3.12" d="M1171.5 849.5H1189.5V849.5H1171.5Z"/>
<path fill="none" stroke="#b3b3b3" stroke-opacity="0.5" stroke-width="3.12" d="M1189.5 849.5H1207.5V849.5H1189.5Z"/>
<path fill="none" stroke="#b3b3b3" stroke-opacity="0.5" stroke-width="3.12" d="M1207.5 849.5H1224.5V849.5H1207.5Z"/>
<path fill="none" stroke="#b3b3b3" stroke-opacity="0.5" stroke-width="3.12" d="M1224.5 849.5H1242.5V849.5H1224.5Z"/>
<path fill="none" stroke="#b3b3b3" stroke-opacity="0.5" stroke-width="3.12" d="M1242.5 849.5H1260.5V849.5H1242.5Z"/>
<path fill="none" stroke="#b3b3b3" stroke-opacity="0.5" stroke-width="3.12" d="M1260.5 849.5H1277.5V849.5H1260.5Z"/>
<path fill="none" stroke="#b3b3b3" stroke-opacity="0.5" stroke-width="3.12" d="M1277.5 849.5H1295.5V849.5H1277.5Z"/>
<path fill="none" stroke="#b3b3b3" stroke-opacity="0.5" stroke-width="3.12" d="M1295.5 849.5H1313.5V849.5H1295.5Z"/>
<path fill="none" stroke="#b3b3b3" stroke-opacity="0.5" stroke-width="3.12" d="M1313.5 849.5H1330.5V849.5H1313.5Z"/>
<path fill="none" stroke="#b3b3b3" stroke-opacity="0.5" stroke-width="3.12" d="M1330.5 849.5H1348.5V849.5H1330.5Z"/>
<path fill="none" stroke="#b3b3b3" stroke-opacity="0.5" stroke-width="3.12" d="M1348.5 849.5H1366.5V849.5H1348.5Z"/>
<path fill="none" stroke="#b3b3b3" stroke-opacity="0.5" stroke-width="3.12" d="M1366.5 849.5H1383.5V849.5H1366.5Z"/>
<path fill="none" stroke="#b3b3b3" stroke-opacity="0.5" stroke-width="3.12" d="M1383.5 849.5H1401.5V849.5H1383.5Z"/>
<path fill="none" stroke="#b3b3b3" stroke-opacity="0.5" stroke-width="3.12" d="M1401.5 849.5H1419.5V849.5H1401.5Z"/>
<path fill="none" stroke="#b3b3b3" stroke-opacity="0.5" stroke-width="3.12" d="M1419.5 849.5H1436.5V849.5H1419.5Z"/>
<path fill="none" stroke="#b3b3b3" stroke-opacity="0.5" stroke-width="3.12" d="M1436.5 849.5H1454.5V849.5H1436.5Z"/>
<path fill="none" stroke="#e78ac3" stroke-opacity="0.5" stroke-width="3.12" d="M835.5 849.5H853.5V813.5H835.5Z"/>
<path fill="none" stroke="#e78ac3" stroke-opacity="0.5" stroke-width="3.12" d="M853.5 849.5H871.5V822.5H853.5Z"/>
<path fill="none" stroke="#e78ac3" stroke-opacity="0.5" stroke-width="3.12" d="M871.5 849.5H888.5V826.5H871.5Z"/>
<path fill="none" stroke="#e78ac3" stroke-opacity="0.5" stroke-width="3.12" d="M888.5 849.5H906.5V831.5H888.5Z"/>
<path fill="none" stroke="#e78ac3" stroke-opacity="0.5" stroke-width="3.12" d="M906.5 849.5H924.5V840.5H906.5Z"/>
<path fill="none" stroke="#e78ac3" stroke-opacity="0.5" stroke-width="3.12" d="M924.5 849.5H941.5V845.5H924.5Z"/>
<path fill="none" stroke="#e78ac3" stroke-opacity="0.5" stroke-width="3.12" d="M941.5 849.5H959.5V840.5H941.5Z"/>
<path fill="none" stroke="#e78ac3" stroke-opacity="0.5" stroke-width="3.12" d="M959.5 849.5H977.5V845.5H959.5Z"/>
<path fill="none" stroke="#e78ac3" stroke-opacity="0.5" stroke-width="3.12" d="M977.5 849.5H994.5V849.5H977.5Z"/>
<path fill="none" stroke="#e78ac3" stroke-opacity="0.5" stroke-width="3.12" d="M994.5 849.5H1012.5V849.5H994.5Z"/>
<path fill="none" stroke="#e78ac3" stroke-opacity="0.5" stroke-width="3.12" d="M1012.5 849.5H1030.5V849.5H1012.5Z"/>
<path fill="none" stroke="#e78ac3" stroke-opacity="0.5" stroke-width="3.12" d="M1030.5 849.5H1047.5V849.5H1030.5Z"/>
<path fill="none" stroke="#e78ac3" stroke-opacity="0.5" stroke-width="3.12" d="M1047.5 849.5H1065.5V849.5H1047.5Z"/>
<path fill="none" stroke="#e78ac3" stroke-opacity="0.5" stroke-width="3.12" d="M1065.5 849.5H1083.5V845.5H1065.5Z"/>
<path fill="none" stroke="#e78ac3" stroke-opacity="0.5" stroke-width="3.12" d="M1083.5 849.5H1101.5V849.5H1083.5Z"/>
<path fill="none" stroke="#e78ac3" stroke-opacity="0.5" stroke-width="3.12" d="M1101.5 849.5H1118.5V849.5H1101.5Z"/>
<path fill="none" stroke="#e78ac3" stroke-opacity="0.5" stroke-width="3.12" d="M1118.5 849.5H1136.5V849.5H1118.5Z"/>
<path fill="none" stroke="#e78ac3" stroke-opacity="0.5" stroke-width="3.12" d="M1136.5 849.5H1154.5V849.5H1136.5Z"/>
<path fill="none" stroke="#e78ac3" stroke-opacity="0.5" stroke-width="3.12" d="M1154.5 849.5H1171.5V849.5H1154.5Z"/>
<path fill="none" stroke="#e78ac3" stroke-opacity="0.5" stroke-width="3.12" d="M1171.5 849.5H1189.5V849.5H1171.5Z"/>
<path fill="none" stroke="#e78ac3" stroke-opacity="0.5" stroke-width="3.12" d="M1189.5 849.5H1207.5V849.5H1189.5Z"/>
<path fill="none" stroke="#e78ac3" stroke-opacity="0.5" stroke-width="3.12" d="M1207.5 849.5H1224.5V849.5H1207.5Z"/>
<path fill="none" stroke="#e78ac3" stroke-opacity="0.5" stroke-width="3.12" d="M1224.5 849.5H1242.5V849.5H1224.5Z"/>
<path fill="none" stroke="#e78ac3" stroke-opacity="0.5" stroke-width="3.12" d="M1242.5 849.5H1260.5V849.5H1242.5Z"/>
<path fill="none" stroke="#e78ac3" stroke-opacity="0.5" stroke-width="3.12" d="M1260.5 849.5H1277.5V849.5H1260.5Z"/>
<path fill="none" stroke="#e78ac3" stroke-opacity="0.5" stroke-width="3.12" d="M1277.5 849.5H1295.5V849.5H1277.5Z"/>
<path fill="none" stroke="#e78ac3" stroke-opacity="0.5" stroke-width="3.12" d="M1295.5 849.5H1313.5V849.5H1295.5Z"/>
<path fill="none" stroke="#e78ac3" stroke-opacity="0.5" stroke-width="3.12" d="M1313.5 849.5H1330.5V849.5H1313.5Z"/>
<path fill="none" stroke="#e78ac3" stroke-opacity="0.5" stroke-width="3.12" d="M1330.5 849.5H1348.5V849.5H1330.5Z"/>
<path fill="none" stroke="#e78ac3" stroke-opacity="0.5" stroke-width="3.12" d="M1348.5 849.5H1366.5V849.5H1348.5Z"/>
<path fill="none" stroke="#e78ac3" stroke-opacity="0.5" stroke-width="3.12" d="M1366.5 849.5H1383.5V849.5H1366.5Z"/>
<path fill="none" stroke="#e78ac3" stroke-opacity="0.5" stroke-width="3.12" d="M1383.5 849.5H1401.5V849.5H1383.5Z"/>
<path fill="none" stroke="#e78ac3" stroke-opacity="0.5" stroke-width="3.12" d="M1401.5 849.5H1419.5V849.5H1401.5Z"/>
<path fill="none" stroke="#e78ac3" stroke-opacity="0.5" stroke-width="3.12" d="M1419.5 849.5H1436.5V849.5H1419.5Z"/>
<path fill="none" stroke="#e78ac3" stroke-opacity="0.5" stroke-width="3.12" d="M1436.5 849.5H1454.5V849.5H1436.5Z"/>
<path fill="none" stroke="#8da0cb" stroke-opacity="0.5" stroke-width="3.12" d="M835.5 849.5H853.5V817.5H835.5Z"/>
<path fill="none" stroke="#8da0cb" stroke-opacity="0.5" stroke-width="3.12" d="M853.5 849.5H871.5V808.5H853.5Z"/>
<path fill="none" stroke="#8da0cb" stroke-opacity="0.5" stroke-width="3.12" d="M871.5 849.5H888.5V831.5H871.5Z"/>
<path fill="none" stroke="#8da0cb" stroke-opacity="0.5" stroke-width="3.12" d="M888.5 849.5H906.5V803.5H888.5Z"/>
<path fill="none" stroke="#8da0cb" stroke-opacity="0.5" stroke-width="3.12" d="M906.5 849.5H924.5V758.5H906.5Z"/>
<path fill="none" stroke="#8da0cb" stroke-opacity="0.5" stroke-width="3.12" d="M924.5 849.5H941.5V794.5H924.5Z"/>
<path fill="none" stroke="#8da0cb" stroke-opacity="0.5" stroke-width="3.12" d="M941.5 849.5H959.5V762.5H941.5Z"/>
<path fill="none" stroke="#8da0cb" stroke-opacity="0.5" stroke-width="3.12" d="M959.5 849.5H977.5V771.5H959.5Z"/>
<path fill="none" stroke="#8da0cb" stroke-opacity="0.5" stroke-width="3.12" d="M977.5 849.5H994.5V758.5H977.5Z"/>
<path fill="none" stroke="#8da0cb" stroke-opacity="0.5" stroke-width="3.12" d="M994.5 849.5H1012.5V739.5H994.5Z"/>
<path fill="none" stroke="#8da0cb" stroke-opacity="0.5" stroke-width="3.12" d="M1012.5 849.5H1030.5V726.5H1012.5Z"/>
<path fill="none" stroke="#8da0cb" stroke-opacity="0.5" stroke-width="3.12" d="M1030.5 849.5H1047.5V703.5H1030.5Z"/>
<path fill="none" stroke="#8da0cb" stroke-opacity="0.5" stroke-width="3.12" d="M1047.5 849.5H1065.5V781.5H1047.5Z"/>
<path fill="none" stroke="#8da0cb" stroke-opacity="0.5" stroke-width="3.12" d="M1065.5 849.5H1083.5V771.5H1065.5Z"/>
<path fill="none" stroke="#8da0cb" stroke-opacity="0.5" stroke-width="3.12" d="M1083.5 849.5H1101.5V721.5H1083.5Z"/>
<path fill="none" stroke="#8da0cb" stroke-opacity="0.5" stroke-width="3.12" d="M1101.5 849.5H1118.5V781.5H1101.5Z"/>
<path fill="none" stroke="#8da0cb" stroke-opacity="0.5" stroke-width="3.12" d="M1118.5 849.5H1136.5V790.5H1118.5Z"/>
<path fill="none" stroke="#8da0cb" stroke-opacity="0.5" stroke-width="3.12" d="M1136.5 849.5H1154.5V808.5H1136.5Z"/>
<path fill="none" stroke="#8da0cb" stroke-opacity="0.5" stroke-width="3.12" d="M1154.5 849.5H1171.5V808.5H1154.5Z"/>
<path fill="none" stroke="#8da0cb" stroke-opacity="0.5" stroke-width="3.12" d="M1171.5 849.5H1189.5V794.5H1171.5Z"/>
<path fill="none" stroke="#8da0cb" stroke-opacity="0.5" stroke-width="3.12" d="M1189.5 849.5H1207.5V822.5H1189.5Z"/>
<path fill="none" stroke="#8da0cb" stroke-opacity="0.5" stroke-width="3.12" d="M1207.5 849.5H1224.5V817.5H1207.5Z"/>
<path fill="none" stroke="#8da0cb" stroke-opacity="0.5" stroke-width="3.12" d="M1224.5 849.5H1242.5V813.5H1224.5Z"/>
<path fill="none" stroke="#8da0cb" stroke-opacity="0.5" stroke-width="3.12" d="M1242.5 849.5H1260.5V831.5H1242.5Z"/>
<path fill="none" stroke="#8da0cb" stroke-opacity="0.5" stroke-width="3.12" d="M1260.5 849.5H1277.5V813.5H1260.5Z"/>
<path fill="none" stroke="#8da0cb" stroke-opacity="0.5" stroke-width="3.12" d="M1277.5 849.5H1295.5V849.5H1277.5Z"/>
<path fill="none" stroke="#8da0cb" stroke-opacity="0.5" stroke-width="3.12" d="M1295.5 849.5H1313.5V845.5H1295.5Z"/>
<path fill="none" stroke="#8da0cb" stroke-opacity="0.5" stroke-width="3.12" d="M1313.5 849.5H1330.5V840.5H1313.5Z"/>
<path fill="none" stroke="#8da0cb" stroke-opacity="0.5" stroke-width="3.12" d="M1330.5 849.5H1348.5V849.5H1330.5Z"/>
<path fill="none" stroke="#8da0cb" stroke-opacity="0.5" stroke-width="3.12" d="M1348.5 849.5H1366.5V845.5H1348.5Z"/>
<path fill="none" stroke="#8da0cb" stroke-opacity="0.5" stroke-width="3.12" d="M1366.5 849.5H1383.5V849.5H1366.5Z"/>
<path fill="none" stroke="#8da0cb" stroke-opacity="0.5" stroke-width="3.12" d="M1383.5 849.5H1401.5V840.5H1383.5Z"/>
<path fill="none" stroke="#8da0cb" stroke-opacity="0.5" stroke-width="3.12" d="M1401.5 849.5H1419.5V849.5H1401.5Z"/>
<path fill="none" stroke="#8da0cb" stroke-opacity="0.5" stroke-width="3.12" d="M1419.5 849.5H1436.5V849.5H1419.5Z"/>
<path fill="none" stroke="#8da0cb" stroke-opacity="0.5" stroke-width="3.12" d="M1436.5 849.5H1454.5V845.5H1436.5Z"/>
<path fill="none" stroke="#fc8d62" stroke-opacity="0.5" stroke-width="3.12" d="M835.5 849.5H853.5V817.5H835.5Z"/>
<path fill="none" stroke="#fc8d62" stroke-opacity="0.5" stroke-width="3.12" d="M853.5 849.5H871.5V781.5H853.5Z"/>
<path fill="none" stroke="#fc8d62" stroke-opacity="0.5" stroke-width="3.12" d="M871.5 849.5H888.5V813.5H871.5Z"/>
<path fill="none" stroke="#fc8d62" stroke-opacity="0.5" stroke-width="3.12" d="M888.5 849.5H906.5V835.5H888.5Z"/>
<path fill="none" stroke="#fc8d62" stroke-opacity="0.5" stroke-width="3.12" d="M906.5 849.5H924.5V835.5H906.5Z"/>
<path fill="none" stroke="#fc8d62" stroke-opacity="0.5" stroke-width="3.12" d="M924.5 849.5H941.5V826.5H924.5Z"/>
<path fill="none" stroke="#fc8d62" stroke-opacity="0.5" stroke-width="3.12" d="M941.5 849.5H959.5V808.5H941.5Z"/>
<path fill="none" stroke="#fc8d62" stroke-opacity="0.5" stroke-width="3.12" d="M959.5 849.5H977.5V840.5H959.5Z"/>
<path fill="none" stroke="#fc8d62" stroke-opacity="0.5" stroke-width="3.12" d="M977.5 849.5H994.5V845.5H977.5Z"/>
<path fill="none" stroke="#fc8d62" stroke-opacity="0.5" stroke-width="3.12" d="M994.5 849.5H1012.5V835.5H994.5Z"/>
<path fill="none" stroke="#fc8d62" stroke-opacity="0.5" stroke-width="3.12" d="M1012.5 849.5H1030.5V849.5H1012.5Z"/>
<path fill="none" stroke="#fc8d62" stroke-opacity="0.5" stroke-width="3.12" d="M1030.5 849.5H1047.5V849.5H1030.5Z"/>
<path fill="none" stroke="#fc8d62" stroke-opacity="0.5" stroke-width="3.12" d="M1047.5 849.5H1065.5V845.5H1047.5Z"/>
<path fill="none" stroke="#fc8d62" stroke-opacity="0.5" stroke-width="3.12" d="M1065.5 849.5H1083.5V840.5H1065.5Z"/>
<path fill="none" stroke="#fc8d62" stroke-opacity="0.5" stroke-width="3.12" d="M1083.5 849.5H1101.5V849.5H1083.5Z"/>
<path fill="none" stroke="#fc8d62" stroke-opacity="0.5" stroke-width="3.12" d="M1101.5 849.5H1118.5V849.5H1101.5Z"/>
<path fill="none" stroke="#fc8d62" stroke-opacity="0.5" stroke-width="3.12" d="M1118.5 849.5H1136.5V849.5H1118.5Z"/>
<path fill="none" stroke="#fc8d62" stroke-opacity="0.5" stroke-width="3.12" d="M1136.5 849.5H1154.5V849.5H1136.5Z"/>
<path fill="none" stroke="#fc8d62" stroke-opacity="0.5" stroke-width="3.12" d="M1154.5 849.5H1171.5V849.5H1154.5Z"/>
<path fill="none" stroke="#fc8d62" stroke-opacity="0.5" stroke-width="3.12" d="M1171.5 849.5H1189.5V849.5H1171.5Z"/>
<path fill="none" stroke="#fc8d62" stroke-opacity="0.5" stroke-width="3.12" d="M1189.5 849.5H1207.5V849.5H1189.5Z"/>
<path fill="none" stroke="#fc8d62" stroke-opacity="0.5" stroke-width="3.12" d="M1207.5 849.5H1224.5V849.5H1207.5Z"/>
<path fill="none" stroke="#fc8d62" stroke-opacity="0.5" stroke-width="3.12" d="M1224.5 849.5H1242.5V849.5H1224.5Z"/>
<path fill="none" stroke="#fc8d62" stroke-opacity="0.5" stroke-width="3.12" d="M1242.5 849.5H1260.5V845.5H1242.5Z"/>
<path fill="none" stroke="#fc8d62" stroke-opacity="0.5" stroke-width="3.12" d="M1260.5 849.5H1277.5V849.5H1260.5Z"/>
<path fill="none" stroke="#fc8d62" stroke-opacity="0.5" stroke-width="3.12" d="M1277.5 849.5H1295.5V849.5H1277.5Z"/>
<path fill="none" stroke="#fc8d62" stroke-opacity="0.5" stroke-width="3.12" d="M1295.5 849.5H1313.5V849.5H1295.5Z"/>
<path fill="none" stroke="#fc8d62" stroke-opacity="0.5" stroke-width="3.12" d="M1313.5 849.5H1330.5V849.5H1313.5Z"/>
<path fill="none" stroke="#fc8d62" stroke-opacity="0.5" stroke-width="3.12" d="M1330.5 849.5H1348.5V849.5H1330.5Z"/>
<path fill="none" stroke="#fc8d62" stroke-opacity="0.5" stroke-width="3.12" d="M1348.5 849.5H1366.5V849.5H1348.5Z"/>
<path fill="none" stroke="#fc8d62" stroke-opacity="0.5" stroke-width="3.12" d="M1366.5 849.5H1383.5V849.5H1366.5Z"/>
<path fill="none" stroke="#fc8d62" stroke-opacity="0.5" stroke-width="3.12" d="M1383.5 849.5H1401.5V849.5H1383.5Z"/>
<path fill="none" stroke="#fc8d62" stroke-opacity="0.5" stroke-width="3.12" d="M1401.5 849.5H1419.5V849.5H1401.5Z"/>
<path fill="none" stroke="#fc8d62" stroke-opacity="0.5" stroke-width="3.12" d="M1419.5 849.5H1436.5V849.5H1419.5Z"/>
<path fill="none" stroke="#fc8d62" stroke-opacity="0.5" stroke-width="3.12" d="M1436.5 849.5H1454.5V849.5H1436.5Z"/>
<path fill="none" stroke="#b0b0b0" stroke-width="1.11" d="M740.5 849.5L740.5 37.5M835.5 849.5L835.5 37.5M930.5 849.5L930.5 37.5M1025.5 849.5L1025.5 37.5M1120.5 849.5L1120.5 37.5M1215.5 849.5L1215.5 37.5M1311.5 849.5L1311.5 37.5M1406.5 849.5L1406.5 37.5M1501.5 849.5L1501.5 37.5M804.5 849.5L1485.5 849.5M804.5 741.5L1485.5 741.5M804.5 633.5L1485.5 633.5M804.5 525.5L1485.5 525.5M804.5 417.5L1485.5 417.5M804.5 309.5L1485.5 309.5M804.5 201.5L1485.5 201.5M804.5 93.5L1485.5 93.5M804.5 -14.5L1485.5 -14.5"/>
<path fill="none" stroke="#e5c494" stroke-width="2.08" stroke-linecap="square" stroke-linejoin="round" d="M835.34 842.32L838.45 841.53L841.56 840.74L844.67 839.96L847.78 839.2L850.88 838.47L853.99 837.78L857.1 837.16L860.21 836.61L863.32 836.15L866.43 835.77L869.54 835.48L872.65 835.28L875.76 835.18L878.87 835.17L881.98 835.24L885.09 835.39L888.19 835.61L891.3 835.88L894.41 836.21L897.52 836.59L900.63 836.99L903.74 837.42L906.85 837.87L909.96 838.33L913.07 838.8L916.18 839.27L919.29 839.73L922.4 840.18L925.5 840.62L928.61 841.05L931.72 841.45L934.83 841.83L937.94 842.18L941.05 842.5L944.16 842.8L947.27 843.06L950.38 843.29L953.49 843.49L956.6 843.67L959.71 843.81L962.81 843.94L965.92 844.05L969.03 844.14L972.14 844.23L975.25 844.32L978.36 844.4L981.47 844.5L984.58 844.61L987.69 844.74L990.8 844.88L993.91 845.05L997.02 845.24L1000.13 845.45L1003.23 845.68L1006.34 845.93L1009.45 846.18L1012.56 846.45L1015.67 846.72L1018.78 846.99L1021.89 847.25L1025 847.5L1028.11 847.74L1031.22 847.96L1034.33 848.16L1037.44 848.33L1040.54 848.49L1043.65 848.63L1046.76 848.75L1049.87 848.85L1052.98 848.93L1056.09 849L1059.2 849.05L1062.31 849.09L1065.42 849.13L1068.53 849.15L1071.64 849.17L1074.75 849.19L1077.85 849.2L1080.96 849.2L1084.07 849.21L1087.18 849.21L1090.29 849.22L1093.4 849.22L1096.51 849.22L1099.62 849.22L1102.73 849.22L1105.84 849.22L1108.95 849.22L1112.06 849.22L1115.16 849.22L1118.27 849.22L1121.38 849.22L1124.49 849.22L1127.6 849.22L1130.71 849.22L1133.82 849.22L1136.93 849.22L1140.04 849.22L1143.15 849.22L1146.26 849.22L1149.37 849.22L1152.47 849.22L1155.58 849.22L1158.69 849.22L1161.8 849.22L1164.91 849.22L1168.02 849.22L1171.13 849.22L1174.24 849.22L1177.35 849.22L1180.46 849.22L1183.57 849.22L1186.68 849.22L1189.78 849.22L1192.89 849.22L1196 849.22L1199.11 849.22L1202.22 849.22L1205.33 849.22L1208.44 849.22L1211.55 849.22L1214.66 849.22L1217.77 849.22L1220.88 849.22L1223.99 849.22L1227.09 849.22L1230.2 849.22L1233.31 849.22L1236.42 849.22L1239.53 849.22L1242.64 849.22L1245.75 849.22L1248.86 849.22L1251.97 849.22L1255.08 849.22L1258.19 849.22L1261.3 849.22L1264.4 849.22L1267.51 849.22L1270.62 849.22L1273.73 849.22L1276.84 849.22L1279.95 849.22L1283.06 849.22L1286.17 849.22L1289.28 849.22L1292.39 849.22L1295.5 849.22L1298.61 849.22L1301.71 849.22L1304.82 849.22L1307.93 849.22L1311.04 849.22L1314.15 849.22L1317.26 849.22L1320.37 849.22L1323.48 849.22L1326.59 849.22L1329.7 849.22L1332.81 849.22L1335.92 849.22L1339.02 849.22L1342.13 849.22L1345.24 849.22L1348.35 849.22L1351.46 849.22L1354.57 849.22L1357.68 849.22L1360.79 849.22L1363.9 849.22L1367.01 849.22L1370.12 849.22L1373.23 849.22L1376.33 849.22L1379.44 849.22L1382.55 849.22L1385.66 849.22L1388.77 849.22L1391.88 849.22L1394.99 849.22L1398.1 849.22L1401.21 849.22L1404.32 849.22L1407.43 849.22L1410.54 849.22L1413.64 849.22L1416.75 849.22L1419.86 849.22L1422.97 849.22L1426.08 849.22L1429.19 849.22L1432.3 849.22L1435.41 849.22L1438.52 849.22L1441.63 849.22L1444.74 849.22L1447.85 849.22L1450.95 849.22L1454.06 849.22"/>
<path fill="none" stroke="#a6d854" stroke-width="2.08" stroke-linecap="square" stroke-linejoin="round" d="M835.34 829.15L838.45 827.64L841.56 826.36L844.67 825.35L847.78 824.63L850.88 824.22L853.99 824.12L857.1 824.3L860.21 824.75L863.32 825.43L866.43 826.29L869.54 827.29L872.65 828.39L875.76 829.55L878.87 830.72L881.98 831.9L885.09 833.04L888.19 834.15L891.3 835.21L894.41 836.22L897.52 837.18L900.63 838.08L903.74 838.94L906.85 839.76L909.96 840.53L913.07 841.27L916.18 841.96L919.29 842.63L922.4 843.26L925.5 843.85L928.61 844.42L931.72 844.95L934.83 845.45L937.94 845.92L941.05 846.35L944.16 846.75L947.27 847.11L950.38 847.44L953.49 847.74L956.6 848L959.71 848.23L962.81 848.42L965.92 848.59L969.03 848.72L972.14 848.83L975.25 848.92L978.36 848.98L981.47 849.02L984.58 849.04L987.69 849.04L990.8 849.02L993.91 848.99L997.02 848.94L1000.13 848.88L1003.23 848.8L1006.34 848.71L1009.45 848.6L1012.56 848.49L1015.67 848.37L1018.78 848.25L1021.89 848.13L1025 848.02L1028.11 847.93L1031.22 847.85L1034.33 847.8L1037.44 847.78L1040.54 847.78L1043.65 847.81L1046.76 847.87L1049.87 847.95L1052.98 848.05L1056.09 848.16L1059.2 848.28L1062.31 848.4L1065.42 848.52L1068.53 848.63L1071.64 848.74L1074.75 848.83L1077.85 848.91L1080.96 848.98L1084.07 849.04L1087.18 849.09L1090.29 849.12L1093.4 849.15L1096.51 849.17L1099.62 849.19L1102.73 849.2L1105.84 849.21L1108.95 849.21L1112.06 849.22L1115.16 849.22L1118.27 849.22L1121.38 849.22L1124.49 849.22L1127.6 849.22L1130.71 849.22L1133.82 849.22L1136.93 849.22L1140.04 849.22L1143.15 849.22L1146.26 849.22L1149.37 849.22L1152.47 849.22L1155.58 849.22L1158.69 849.22L1161.8 849.22L1164.91 849.22L1168.02 849.22L1171.13 849.22L1174.24 849.22L1177.35 849.22L1180.46 849.22L1183.57 849.22L1186.68 849.22L1189.78 849.22L1192.89 849.22L1196 849.22L1199.11 849.22L1202.22 849.22L1205.33 849.22L1208.44 849.22L1211.55 849.22L1214.66 849.22L1217.77 849.22L1220.88 849.22L1223.99 849.22L1227.09 849.22L1230.2 849.22L1233.31 849.22L1236.42 849.22L1239.53 849.22L1242.64 849.22L1245.75 849.22L1248.86 849.22L1251.97 849.22L1255.08 849.22L1258.19 849.22L1261.3 849.22L1264.4 849.22L1267.51 849.22L1270.62 849.22L1273.73 849.22L1276.84 849.22L1279.95 849.22L1283.06 849.22L1286.17 849.22L1289.28 849.22L1292.39 849.22L1295.5 849.22L1298.61 849.22L1301.71 849.22L1304.82 849.22L1307.93 849.22L1311.04 849.22L1314.15 849.22L1317.26 849.22L1320.37 849.22L1323.48 849.22L1326.59 849.22L1329.7 849.22L1332.81 849.22L1335.92 849.22L1339.02 849.22L1342.13 849.22L1345.24 849.22L1348.35 849.22L1351.46 849.22L1354.57 849.22L1357.68 849.22L1360.79 849.22L1363.9 849.22L1367.01 849.22L1370.12 849.22L1373.23 849.22L1376.33 849.22L1379.44 849.22L1382.55 849.22L1385.66 849.22L1388.77 849.22L1391.88 849.22L1394.99 849.22L1398.1 849.22L1401.21 849.22L1404.32 849.22L1407.43 849.22L1410.54 849.22L1413.64 849.22L1416.75 849.22L1419.86 849.22L1422.97 849.22L1426.08 849.22L1429.19 849.22L1432.3 849.22L1435.41 849.22L1438.52 849.22L1441.63 849.22L1444.74 849.22L1447.85 849.22L1450.95 849.22L1454.06 849.22"/>
<path fill="none" stroke="#fc8d62" stroke-width="2.08" stroke-linecap="square" stroke-linejoin="round" d="M835.34 841.21L838.45 840.07L841.56 838.97L844.67 837.95L847.78 837.05L850.88 836.31L853.99 835.77L857.1 835.45L860.21 835.36L863.32 835.51L866.43 835.89L869.54 836.48L872.65 837.26L875.76 838.18L878.87 839.2L881.98 840.29L885.09 841.41L888.19 842.5L891.3 843.54L894.41 844.51L897.52 845.38L900.63 846.13L903.74 846.77L906.85 847.29L909.96 847.69L913.07 847.98L916.18 848.18L919.29 848.28L922.4 848.31L925.5 848.27L928.61 848.19L931.72 848.07L934.83 847.93L937.94 847.8L941.05 847.67L944.16 847.58L947.27 847.51L950.38 847.5L953.49 847.52L956.6 847.59L959.71 847.71L962.81 847.85L965.92 848.01L969.03 848.18L972.14 848.35L975.25 848.52L978.36 848.66L981.47 848.79L984.58 848.9L987.69 848.99L990.8 849.06L993.91 849.11L997.02 849.15L1000.13 849.17L1003.23 849.19L1006.34 849.2L1009.45 849.21L1012.56 849.22L1015.67 849.22L1018.78 849.22L1021.89 849.22L1025 849.22L1028.11 849.22L1031.22 849.22L1034.33 849.22L1037.44 849.22L1040.54 849.22L1043.65 849.22L1046.76 849.22L1049.87 849.22L1052.98 849.22L1056.09 849.22L1059.2 849.22L1062.31 849.22L1065.42 849.22L1068.53 849.22L1071.64 849.22L1074.75 849.22L1077.85 849.22L1080.96 849.22L1084.07 849.22L1087.18 849.22L1090.29 849.22L1093.4 849.22L1096.51 849.22L1099.62 849.22L1102.73 849.22L1105.84 849.22L1108.95 849.22L1112.06 849.22L1115.16 849.22L1118.27 849.22L1121.38 849.22L1124.49 849.22L1127.6 849.22L1130.71 849.22L1133.82 849.22L1136.93 849.22L1140.04 849.22L1143.15 849.22L1146.26 849.22L1149.37 849.22L1152.47 849.22L1155.58 849.22L1158.69 849.22L1161.8 849.22L1164.91 849.22L1168.02 849.22L1171.13 849.22L1174.24 849.22L1177.35 849.22L1180.46 849.22L1183.57 849.22L1186.68 849.22L1189.78 849.22L1192.89 849.22L1196 849.22L1199.11 849.22L1202.22 849.22L1205.33 849.22L1208.44 849.22L1211.55 849.22L1214.66 849.22L1217.77 849.22L1220.88 849.22L1223.99 849.22L1227.09 849.22L1230.2 849.22L1233.31 849.22L1236.42 849.22L1239.53 849.22L1242.64 849.22L1245.75 849.22L1248.86 849.22L1251.97 849.22L1255.08 849.22L1258.19 849.22L1261.3 849.22L1264.4 849.22L1267.51 849.22L1270.62 849.22L1273.73 849.22L1276.84 849.22L1279.95 849.22L1283.06 849.22L1286.17 849.22L1289.28 849.22L1292.39 849.22L1295.5 849.22L1298.61 849.22L1301.71 849.22L1304.82 849.22L1307.93 849.22L1311.04 849.22L1314.15 849.22L1317.26 849.22L1320.37 849.22L1323.48 849.22L1326.59 849.22L1329.7 849.22L1332.81 849.22L1335.92 849.22L1339.02 849.22L1342.13 849.22L1345.24 849.22L1348.35 849.22L1351.46 849.22L1354.57 849.22L1357.68 849.22L1360.79 849.22L1363.9 849.22L1367.01 849.22L1370.12 849.22L1373.23 849.22L1376.33 849.22L1379.44 849.22L1382.55 849.22L1385.66 849.22L1388.77 849.22L1391.88 849.22L1394.99 849.22L1398.1 849.22L1401.21 849.22L1404.32 849.22L1407.43 849.22L1410.54 849.22L1413.64 849.22L1416.75 849.22L1419.86 849.22L1422.97 849.22L1426.08 849.22L1429.19 849.22L1432.3 849.22L1435.41 849.22L1438.52 849.22L1441.63 849.22L1444.74 849.22L1447.85 849.22L1450.95 849.22L1454.06 849.22"/>
<path fill="none" stroke="#ffd92f" stroke-width="2.08" stroke-linecap="square" stroke-linejoin="round" d="M835.34 841.46L838.45 841L841.56 840.54L844.67 840.09L847.78 839.64L850.88 839.2L853.99 838.77L857.1 838.36L860.21 837.95L863.32 837.56L866.43 837.18L869.54 836.81L872.65 836.45L875.76 836.1L878.87 835.76L881.98 835.42L885.09 835.09L888.19 834.75L891.3 834.42L894.41 834.07L897.52 833.72L900.63 833.35L903.74 832.97L906.85 832.57L909.96 832.14L913.07 831.7L916.18 831.22L919.29 830.72L922.4 830.2L925.5 829.64L928.61 829.05L931.72 828.43L934.83 827.79L937.94 827.12L941.05 826.42L944.16 825.71L947.27 824.97L950.38 824.22L953.49 823.47L956.6 822.7L959.71 821.94L962.81 821.18L965.92 820.43L969.03 819.69L972.14 818.98L975.25 818.3L978.36 817.64L981.47 817.03L984.58 816.45L987.69 815.92L990.8 815.44L993.91 815.01L997.02 814.64L1000.13 814.32L1003.23 814.06L1006.34 813.85L1009.45 813.69L1012.56 813.59L1015.67 813.54L1018.78 813.54L1021.89 813.58L1025 813.67L1028.11 813.78L1031.22 813.93L1034.33 814.1L1037.44 814.3L1040.54 814.51L1043.65 814.73L1046.76 814.95L1049.87 815.18L1052.98 815.41L1056.09 815.64L1059.2 815.85L1062.31 816.06L1065.42 816.26L1068.53 816.45L1071.64 816.63L1074.75 816.8L1077.85 816.97L1080.96 817.12L1084.07 817.27L1087.18 817.41L1090.29 817.56L1093.4 817.7L1096.51 817.85L1099.62 818L1102.73 818.17L1105.84 818.34L1108.95 818.53L1112.06 818.74L1115.16 818.96L1118.27 819.21L1121.38 819.47L1124.49 819.76L1127.6 820.08L1130.71 820.42L1133.82 820.79L1136.93 821.18L1140.04 821.6L1143.15 822.05L1146.26 822.53L1149.37 823.04L1152.47 823.57L1155.58 824.13L1158.69 824.72L1161.8 825.32L1164.91 825.95L1168.02 826.61L1171.13 827.28L1174.24 827.96L1177.35 828.66L1180.46 829.37L1183.57 830.08L1186.68 830.8L1189.78 831.52L1192.89 832.23L1196 832.94L1199.11 833.64L1202.22 834.32L1205.33 834.98L1208.44 835.62L1211.55 836.24L1214.66 836.83L1217.77 837.39L1220.88 837.92L1223.99 838.41L1227.09 838.87L1230.2 839.3L1233.31 839.7L1236.42 840.06L1239.53 840.39L1242.64 840.69L1245.75 840.96L1248.86 841.2L1251.97 841.42L1255.08 841.62L1258.19 841.8L1261.3 841.97L1264.4 842.12L1267.51 842.26L1270.62 842.4L1273.73 842.54L1276.84 842.67L1279.95 842.8L1283.06 842.94L1286.17 843.08L1289.28 843.23L1292.39 843.39L1295.5 843.55L1298.61 843.72L1301.71 843.9L1304.82 844.08L1307.93 844.27L1311.04 844.47L1314.15 844.67L1317.26 844.87L1320.37 845.08L1323.48 845.28L1326.59 845.49L1329.7 845.69L1332.81 845.89L1335.92 846.08L1339.02 846.27L1342.13 846.46L1345.24 846.63L1348.35 846.8L1351.46 846.97L1354.57 847.13L1357.68 847.27L1360.79 847.42L1363.9 847.55L1367.01 847.68L1370.12 847.8L1373.23 847.91L1376.33 848.01L1379.44 848.11L1382.55 848.21L1385.66 848.3L1388.77 848.38L1391.88 848.45L1394.99 848.53L1398.1 848.59L1401.21 848.65L1404.32 848.71L1407.43 848.77L1410.54 848.81L1413.64 848.86L1416.75 848.9L1419.86 848.94L1422.97 848.97L1426.08 849L1429.19 849.03L1432.3 849.06L1435.41 849.08L1438.52 849.1L1441.63 849.12L1444.74 849.13L1447.85 849.15L1450.95 849.16L1454.06 849.17"/>
<path fill="none" stroke="#66c2a5" stroke-width="2.08" stroke-linecap="square" stroke-linejoin="round" d="M835.34 837.52L838.45 836.99L841.56 836.47L844.67 835.97L847.78 835.48L850.88 835.02L853.99 834.57L857.1 834.14L860.21 833.74L863.32 833.37L866.43 833.02L869.54 832.69L872.65 832.4L875.76 832.13L878.87 831.88L881.98 831.67L885.09 831.48L888.19 831.31L891.3 831.18L894.41 831.06L897.52 830.97L900.63 830.91L903.74 830.86L906.85 830.84L909.96 830.83L913.07 830.84L916.18 830.87L919.29 830.91L922.4 830.97L925.5 831.03L928.61 831.11L931.72 831.19L934.83 831.28L937.94 831.38L941.05 831.48L944.16 831.58L947.27 831.68L950.38 831.78L953.49 831.87L956.6 831.96L959.71 832.04L962.81 832.12L965.92 832.19L969.03 832.25L972.14 832.3L975.25 832.35L978.36 832.38L981.47 832.41L984.58 832.43L987.69 832.44L990.8 832.45L993.91 832.46L997.02 832.46L1000.13 832.46L1003.23 832.46L1006.34 832.46L1009.45 832.47L1012.56 832.49L1015.67 832.51L1018.78 832.55L1021.89 832.59L1025 832.65L1028.11 832.73L1031.22 832.82L1034.33 832.93L1037.44 833.06L1040.54 833.21L1043.65 833.37L1046.76 833.56L1049.87 833.76L1052.98 833.98L1056.09 834.22L1059.2 834.48L1062.31 834.76L1065.42 835.04L1068.53 835.35L1071.64 835.66L1074.75 835.99L1077.85 836.33L1080.96 836.67L1084.07 837.02L1087.18 837.38L1090.29 837.74L1093.4 838.1L1096.51 838.46L1099.62 838.82L1102.73 839.18L1105.84 839.54L1108.95 839.89L1112.06 840.23L1115.16 840.57L1118.27 840.9L1121.38 841.22L1124.49 841.54L1127.6 841.84L1130.71 842.13L1133.82 842.41L1136.93 842.68L1140.04 842.93L1143.15 843.17L1146.26 843.4L1149.37 843.62L1152.47 843.82L1155.58 844L1158.69 844.18L1161.8 844.34L1164.91 844.49L1168.02 844.62L1171.13 844.74L1174.24 844.85L1177.35 844.95L1180.46 845.04L1183.57 845.12L1186.68 845.19L1189.78 845.25L1192.89 845.31L1196 845.36L1199.11 845.4L1202.22 845.44L1205.33 845.48L1208.44 845.51L1211.55 845.54L1214.66 845.58L1217.77 845.61L1220.88 845.65L1223.99 845.69L1227.09 845.73L1230.2 845.77L1233.31 845.82L1236.42 845.88L1239.53 845.93L1242.64 846L1245.75 846.07L1248.86 846.14L1251.97 846.22L1255.08 846.3L1258.19 846.39L1261.3 846.49L1264.4 846.58L1267.51 846.69L1270.62 846.79L1273.73 846.9L1276.84 847.01L1279.95 847.12L1283.06 847.23L1286.17 847.34L1289.28 847.45L1292.39 847.56L1295.5 847.67L1298.61 847.77L1301.71 847.88L1304.82 847.98L1307.93 848.07L1311.04 848.17L1314.15 848.25L1317.26 848.34L1320.37 848.42L1323.48 848.49L1326.59 848.56L1329.7 848.63L1332.81 848.69L1335.92 848.75L1339.02 848.8L1342.13 848.85L1345.24 848.89L1348.35 848.93L1351.46 848.97L1354.57 849L1357.68 849.03L1360.79 849.06L1363.9 849.08L1367.01 849.1L1370.12 849.12L1373.23 849.13L1376.33 849.15L1379.44 849.16L1382.55 849.17L1385.66 849.18L1388.77 849.18L1391.88 849.19L1394.99 849.2L1398.1 849.2L1401.21 849.2L1404.32 849.21L1407.43 849.21L1410.54 849.21L1413.64 849.21L1416.75 849.22L1419.86 849.22L1422.97 849.22L1426.08 849.22L1429.19 849.22L1432.3 849.22L1435.41 849.22L1438.52 849.22L1441.63 849.22L1444.74 849.22L1447.85 849.22L1450.95 849.22L1454.06 849.22"/>
<path fill="none" stroke="#8da0cb" stroke-width="2.08" stroke-linecap="square" stroke-linejoin="round" d="M835.34 847.23L838.45 847.13L841.56 847.03L844.67 846.93L847.78 846.83L850.88 846.73L853.99 846.63L857.1 846.53L860.21 846.43L863.32 846.34L866.43 846.25L869.54 846.17L872.65 846.09L875.76 846.01L878.87 845.94L881.98 845.87L885.09 845.8L888.19 845.75L891.3 845.69L894.41 845.65L897.52 845.61L900.63 845.57L903.74 845.54L906.85 845.52L909.96 845.5L913.07 845.49L916.18 845.48L919.29 845.48L922.4 845.49L925.5 845.49L928.61 845.5L931.72 845.52L934.83 845.54L937.94 845.56L941.05 845.59L944.16 845.61L947.27 845.64L950.38 845.67L953.49 845.7L956.6 845.73L959.71 845.76L962.81 845.79L965.92 845.81L969.03 845.84L972.14 845.86L975.25 845.89L978.36 845.91L981.47 845.92L984.58 845.94L987.69 845.95L990.8 845.96L993.91 845.96L997.02 845.96L1000.13 845.96L1003.23 845.96L1006.34 845.95L1009.45 845.94L1012.56 845.93L1015.67 845.91L1018.78 845.89L1021.89 845.87L1025 845.85L1028.11 845.83L1031.22 845.8L1034.33 845.78L1037.44 845.75L1040.54 845.72L1043.65 845.7L1046.76 845.67L1049.87 845.64L1052.98 845.62L1056.09 845.59L1059.2 845.57L1062.31 845.55L1065.42 845.53L1068.53 845.52L1071.64 845.5L1074.75 845.49L1077.85 845.48L1080.96 845.48L1084.07 845.48L1087.18 845.48L1090.29 845.48L1093.4 845.49L1096.51 845.5L1099.62 845.52L1102.73 845.54L1105.84 845.56L1108.95 845.58L1112.06 845.61L1115.16 845.64L1118.27 845.68L1121.38 845.72L1124.49 845.76L1127.6 845.8L1130.71 845.85L1133.82 845.9L1136.93 845.95L1140.04 846L1143.15 846.06L1146.26 846.12L1149.37 846.18L1152.47 846.24L1155.58 846.3L1158.69 846.37L1161.8 846.43L1164.91 846.5L1168.02 846.57L1171.13 846.64L1174.24 846.71L1177.35 846.79L1180.46 846.86L1183.57 846.93L1186.68 847L1189.78 847.08L1192.89 847.15L1196 847.22L1199.11 847.3L1202.22 847.37L1205.33 847.44L1208.44 847.51L1211.55 847.59L1214.66 847.66L1217.77 847.73L1220.88 847.79L1223.99 847.86L1227.09 847.93L1230.2 847.99L1233.31 848.06L1236.42 848.12L1239.53 848.18L1242.64 848.24L1245.75 848.29L1248.86 848.35L1251.97 848.4L1255.08 848.45L1258.19 848.5L1261.3 848.55L1264.4 848.6L1267.51 848.64L1270.62 848.68L1273.73 848.72L1276.84 848.76L1279.95 848.79L1283.06 848.83L1286.17 848.86L1289.28 848.89L1292.39 848.92L1295.5 848.94L1298.61 848.97L1301.71 848.99L1304.82 849.01L1307.93 849.03L1311.04 849.05L1314.15 849.07L1317.26 849.08L1320.37 849.1L1323.48 849.11L1326.59 849.12L1329.7 849.13L1332.81 849.14L1335.92 849.15L1339.02 849.16L1342.13 849.17L1345.24 849.17L1348.35 849.18L1351.46 849.18L1354.57 849.19L1357.68 849.19L1360.79 849.2L1363.9 849.2L1367.01 849.2L1370.12 849.21L1373.23 849.21L1376.33 849.21L1379.44 849.21L1382.55 849.21L1385.66 849.21L1388.77 849.22L1391.88 849.22L1394.99 849.22L1398.1 849.22L1401.21 849.22L1404.32 849.22L1407.43 849.22L1410.54 849.22L1413.64 849.22L1416.75 849.22L1419.86 849.22L1422.97 849.22L1426.08 849.22L1429.19 849.22L1432.3 849.22L1435.41 849.22L1438.52 849.22L1441.63 849.22L1444.74 849.22L1447.85 849.22L1450.95 849.22L1454.06 849.22"/>
<path fill="none" stroke="#e5c494" stroke-width="2.08" stroke-linecap="square" stroke-linejoin="round" d="M835.34 479.64L838.45 429.14L841.56 381.5L844.67 338.39L847.78 301.06L850.88 270.33L853.99 246.55L857.1 229.61L860.21 219.07L863.32 214.28L866.43 214.45L869.54 218.8L872.65 226.62L875.76 237.25L878.87 250.16L881.98 264.88L885.09 281L888.19 298.13L891.3 315.91L894.41 333.97L897.52 351.99L900.63 369.64L903.74 386.66L906.85 402.82L909.96 417.96L913.07 431.99L916.18 444.89L919.29 456.69L922.4 467.51L925.5 477.53L928.61 486.94L931.72 496.01L934.83 505.01L937.94 514.18L941.05 523.74L944.16 533.84L947.27 544.55L950.38 555.83L953.49 567.54L956.6 579.47L959.71 591.34L962.81 602.87L965.92 613.81L969.03 623.96L972.14 633.24L975.25 641.65L978.36 649.3L981.47 656.35L984.58 663L987.69 669.44L990.8 675.83L993.91 682.28L997.02 688.81L1000.13 695.42L1003.23 702.05L1006.34 708.59L1009.45 714.96L1012.56 721.07L1015.67 726.87L1018.78 732.31L1021.89 737.39L1025 742.13L1028.11 746.56L1031.22 750.71L1034.33 754.63L1037.44 758.36L1040.54 761.92L1043.65 765.33L1046.76 768.59L1049.87 771.72L1052.98 774.71L1056.09 777.59L1059.2 780.37L1062.31 783.07L1065.42 785.73L1068.53 788.36L1071.64 790.99L1074.75 793.63L1077.85 796.27L1080.96 798.9L1084.07 801.5L1087.18 804.04L1090.29 806.5L1093.4 808.85L1096.51 811.09L1099.62 813.21L1102.73 815.22L1105.84 817.12L1108.95 818.91L1112.06 820.59L1115.16 822.14L1118.27 823.54L1121.38 824.78L1124.49 825.85L1127.6 826.75L1130.71 827.51L1133.82 828.15L1136.93 828.74L1140.04 829.32L1143.15 829.95L1146.26 830.66L1149.37 831.46L1152.47 832.36L1155.58 833.34L1158.69 834.36L1161.8 835.4L1164.91 836.42L1168.02 837.4L1171.13 838.34L1174.24 839.24L1177.35 840.11L1180.46 840.96L1183.57 841.81L1186.68 842.65L1189.78 843.49L1192.89 844.31L1196 845.11L1199.11 845.85L1202.22 846.53L1205.33 847.13L1208.44 847.64L1211.55 848.06L1214.66 848.39L1217.77 848.64L1220.88 848.83L1223.99 848.97L1227.09 849.06L1230.2 849.12L1233.31 849.16L1236.42 849.19L1239.53 849.2L1242.64 849.21L1245.75 849.22L1248.86 849.22L1251.97 849.22L1255.08 849.22L1258.19 849.22L1261.3 849.22L1264.4 849.22L1267.51 849.22L1270.62 849.22L1273.73 849.22L1276.84 849.22L1279.95 849.22L1283.06 849.22L1286.17 849.22L1289.28 849.22L1292.39 849.22L1295.5 849.22L1298.61 849.22L1301.71 849.22L1304.82 849.22L1307.93 849.22L1311.04 849.22L1314.15 849.22L1317.26 849.22L1320.37 849.22L1323.48 849.22L1326.59 849.22L1329.7 849.22L1332.81 849.22L1335.92 849.22L1339.02 849.22L1342.13 849.22L1345.24 849.22L1348.35 849.22L1351.46 849.22L1354.57 849.22L1357.68 849.22L1360.79 849.22L1363.9 849.22L1367.01 849.22L1370.12 849.22L1373.23 849.22L1376.33 849.22L1379.44 849.22L1382.55 849.22L1385.66 849.22L1388.77 849.22L1391.88 849.22L1394.99 849.22L1398.1 849.22L1401.21 849.22L1404.32 849.22L1407.43 849.22L1410.54 849.22L1413.64 849.22L1416.75 849.22L1419.86 849.22L1422.97 849.22L1426.08 849.22L1429.19 849.22L1432.3 849.22L1435.41 849.22L1438.52 849.22L1441.63 849.22L1444.74 849.22L1447.85 849.22L1450.95 849.22L1454.06 849.22"/>
<path fill="none" stroke="#ffd92f" stroke-width="2.08" stroke-linecap="square" stroke-linejoin="round" d="M835.34 837.88L838.45 836.46L841.56 835.03L844.67 833.6L847.78 832.22L850.88 830.91L853.99 829.69L857.1 828.58L860.21 827.61L863.32 826.78L866.43 826.11L869.54 825.57L872.65 825.18L875.76 824.91L878.87 824.75L881.98 824.67L885.09 824.66L888.19 824.7L891.3 824.78L894.41 824.87L897.52 824.98L900.63 825.1L903.74 825.23L906.85 825.38L909.96 825.55L913.07 825.76L916.18 826.01L919.29 826.31L922.4 826.66L925.5 827.06L928.61 827.5L931.72 827.98L934.83 828.46L937.94 828.95L941.05 829.42L944.16 829.86L947.27 830.25L950.38 830.59L953.49 830.86L956.6 831.08L959.71 831.26L962.81 831.4L965.92 831.53L969.03 831.67L972.14 831.85L975.25 832.09L978.36 832.41L981.47 832.82L984.58 833.35L987.69 833.99L990.8 834.73L993.91 835.58L997.02 836.51L1000.13 837.5L1003.23 838.53L1006.34 839.57L1009.45 840.6L1012.56 841.59L1015.67 842.53L1018.78 843.39L1021.89 844.17L1025 844.85L1028.11 845.44L1031.22 845.93L1034.33 846.34L1037.44 846.66L1040.54 846.92L1043.65 847.12L1046.76 847.28L1049.87 847.4L1052.98 847.51L1056.09 847.6L1059.2 847.69L1062.31 847.78L1065.42 847.88L1068.53 847.98L1071.64 848.08L1074.75 848.19L1077.85 848.3L1080.96 848.42L1084.07 848.53L1087.18 848.63L1090.29 848.73L1093.4 848.81L1096.51 848.89L1099.62 848.96L1102.73 849.01L1105.84 849.06L1108.95 849.1L1112.06 849.13L1115.16 849.16L1118.27 849.17L1121.38 849.19L1124.49 849.2L1127.6 849.21L1130.71 849.21L1133.82 849.21L1136.93 849.22L1140.04 849.22L1143.15 849.22L1146.26 849.22L1149.37 849.22L1152.47 849.22L1155.58 849.22L1158.69 849.22L1161.8 849.22L1164.91 849.22L1168.02 849.22L1171.13 849.22L1174.24 849.22L1177.35 849.22L1180.46 849.22L1183.57 849.22L1186.68 849.22L1189.78 849.22L1192.89 849.22L1196 849.22L1199.11 849.22L1202.22 849.22L1205.33 849.22L1208.44 849.22L1211.55 849.22L1214.66 849.22L1217.77 849.22L1220.88 849.22L1223.99 849.22L1227.09 849.22L1230.2 849.22L1233.31 849.22L1236.42 849.22L1239.53 849.22L1242.64 849.22L1245.75 849.22L1248.86 849.22L1251.97 849.22L1255.08 849.22L1258.19 849.22L1261.3 849.22L1264.4 849.22L1267.51 849.22L1270.62 849.22L1273.73 849.22L1276.84 849.22L1279.95 849.22L1283.06 849.22L1286.17 849.22L1289.28 849.22L1292.39 849.22L1295.5 849.22L1298.61 849.22L1301.71 849.22L1304.82 849.22L1307.93 849.22L1311.04 849.22L1314.15 849.22L1317.26 849.22L1320.37 849.22L1323.48 849.22L1326.59 849.22L1329.7 849.22L1332.81 849.22L1335.92 849.22L1339.02 849.22L1342.13 849.22L1345.24 849.22L1348.35 849.22L1351.46 849.22L1354.57 849.22L1357.68 849.22L1360.79 849.22L1363.9 849.22L1367.01 849.22L1370.12 849.22L1373.23 849.22L1376.33 849.22L1379.44 849.22L1382.55 849.22L1385.66 849.22L1388.77 849.22L1391.88 849.22L1394.99 849.22L1398.1 849.22L1401.21 849.22L1404.32 849.22L1407.43 849.22L1410.54 849.22L1413.64 849.22L1416.75 849.22L1419.86 849.22L1422.97 849.22L1426.08 849.22L1429.19 849.22L1432.3 849.22L1435.41 849.22L1438.52 849.22L1441.63 849.22L1444.74 849.22L1447.85 849.22L1450.95 849.22L1454.06 849.22"/>
<path fill="none" stroke="#a6d854" stroke-width="2.08" stroke-linecap="square" stroke-linejoin="round" d="M835.34 760.33L838.45 750.73L841.56 741.46L844.67 732.72L847.78 724.64L850.88 717.36L853.99 710.95L857.1 705.46L860.21 700.87L863.32 697.17L866.43 694.28L869.54 692.13L872.65 690.63L875.76 689.69L878.87 689.22L881.98 689.13L885.09 689.34L888.19 689.79L891.3 690.42L894.41 691.22L897.52 692.15L900.63 693.23L903.74 694.47L906.85 695.9L909.96 697.56L913.07 699.5L916.18 701.73L919.29 704.31L922.4 707.24L925.5 710.52L928.61 714.13L931.72 718.02L934.83 722.15L937.94 726.44L941.05 730.81L944.16 735.19L947.27 739.5L950.38 743.67L953.49 747.65L956.6 751.41L959.71 754.9L962.81 758.12L965.92 761.07L969.03 763.74L972.14 766.15L975.25 768.31L978.36 770.24L981.47 771.96L984.58 773.51L987.69 774.91L990.8 776.2L993.91 777.42L997.02 778.62L1000.13 779.85L1003.23 781.15L1006.34 782.56L1009.45 784.12L1012.56 785.85L1015.67 787.77L1018.78 789.89L1021.89 792.19L1025 794.66L1028.11 797.28L1031.22 800L1034.33 802.8L1037.44 805.63L1040.54 808.45L1043.65 811.23L1046.76 813.93L1049.87 816.52L1052.98 818.99L1056.09 821.32L1059.2 823.49L1062.31 825.52L1065.42 827.41L1068.53 829.16L1071.64 830.78L1074.75 832.3L1077.85 833.73L1080.96 835.06L1084.07 836.32L1087.18 837.5L1090.29 838.62L1093.4 839.66L1096.51 840.62L1099.62 841.51L1102.73 842.31L1105.84 843.02L1108.95 843.64L1112.06 844.17L1115.16 844.6L1118.27 844.94L1121.38 845.19L1124.49 845.36L1127.6 845.44L1130.71 845.46L1133.82 845.43L1136.93 845.35L1140.04 845.25L1143.15 845.15L1146.26 845.05L1149.37 844.97L1152.47 844.93L1155.58 844.94L1158.69 845L1161.8 845.12L1164.91 845.29L1168.02 845.52L1171.13 845.79L1174.24 846.09L1177.35 846.41L1180.46 846.74L1183.57 847.08L1186.68 847.4L1189.78 847.7L1192.89 847.97L1196 848.22L1199.11 848.43L1202.22 848.6L1205.33 848.75L1208.44 848.87L1211.55 848.96L1214.66 849.03L1217.77 849.08L1220.88 849.12L1223.99 849.14L1227.09 849.15L1230.2 849.14L1233.31 849.13L1236.42 849.11L1239.53 849.07L1242.64 849.02L1245.75 848.96L1248.86 848.88L1251.97 848.79L1255.08 848.69L1258.19 848.57L1261.3 848.45L1264.4 848.32L1267.51 848.19L1270.62 848.07L1273.73 847.96L1276.84 847.86L1279.95 847.79L1283.06 847.74L1286.17 847.73L1289.28 847.75L1292.39 847.79L1295.5 847.86L1298.61 847.96L1301.71 848.07L1304.82 848.2L1307.93 848.32L1311.04 848.45L1314.15 848.58L1317.26 848.69L1320.37 848.8L1323.48 848.89L1326.59 848.96L1329.7 849.03L1332.81 849.08L1335.92 849.12L1339.02 849.15L1342.13 849.17L1345.24 849.19L1348.35 849.2L1351.46 849.21L1354.57 849.21L1357.68 849.22L1360.79 849.22L1363.9 849.22L1367.01 849.22L1370.12 849.22L1373.23 849.22L1376.33 849.22L1379.44 849.22L1382.55 849.22L1385.66 849.22L1388.77 849.22L1391.88 849.22L1394.99 849.22L1398.1 849.22L1401.21 849.22L1404.32 849.22L1407.43 849.22L1410.54 849.22L1413.64 849.22L1416.75 849.22L1419.86 849.22L1422.97 849.22L1426.08 849.22L1429.19 849.22L1432.3 849.22L1435.41 849.22L1438.52 849.22L1441.63 849.22L1444.74 849.22L1447.85 849.22L1450.95 849.22L1454.06 849.22"/>
<path fill="none" stroke="#b3b3b3" stroke-width="2.08" stroke-linecap="square" stroke-linejoin="round" d="M835.34 616.82L838.45 583.66L841.56 553.26L844.67 526.98L847.78 505.8L850.88 490.26L853.99 480.46L857.1 476.09L860.21 476.58L863.32 481.19L866.43 489.11L869.54 499.59L872.65 511.96L875.76 525.66L878.87 540.2L881.98 555.18L885.09 570.23L888.19 585.04L891.3 599.33L894.41 612.85L897.52 625.45L900.63 637.02L903.74 647.53L906.85 657.03L909.96 665.63L913.07 673.46L916.18 680.64L919.29 687.32L922.4 693.58L925.5 699.53L928.61 705.23L931.72 710.74L934.83 716.12L937.94 721.44L941.05 726.77L944.16 732.19L947.27 737.75L950.38 743.48L953.49 749.37L956.6 755.38L959.71 761.42L962.81 767.39L965.92 773.18L969.03 778.7L972.14 783.87L975.25 788.65L978.36 793.05L981.47 797.07L984.58 800.79L987.69 804.25L990.8 807.53L993.91 810.67L997.02 813.71L1000.13 816.66L1003.23 819.5L1006.34 822.18L1009.45 824.65L1012.56 826.84L1015.67 828.7L1018.78 830.18L1021.89 831.26L1025 831.96L1028.11 832.32L1031.22 832.41L1034.33 832.32L1037.44 832.14L1040.54 831.98L1043.65 831.9L1046.76 831.96L1049.87 832.2L1052.98 832.62L1056.09 833.23L1059.2 833.99L1062.31 834.87L1065.42 835.84L1068.53 836.85L1071.64 837.86L1074.75 838.84L1077.85 839.77L1080.96 840.63L1084.07 841.39L1087.18 842.06L1090.29 842.64L1093.4 843.12L1096.51 843.51L1099.62 843.82L1102.73 844.06L1105.84 844.25L1108.95 844.38L1112.06 844.49L1115.16 844.56L1118.27 844.62L1121.38 844.68L1124.49 844.74L1127.6 844.82L1130.71 844.93L1133.82 845.07L1136.93 845.25L1140.04 845.48L1143.15 845.76L1146.26 846.07L1149.37 846.43L1152.47 846.8L1155.58 847.18L1158.69 847.55L1161.8 847.9L1164.91 848.21L1168.02 848.47L1171.13 848.68L1174.24 848.85L1177.35 848.97L1180.46 849.06L1183.57 849.12L1186.68 849.16L1189.78 849.19L1192.89 849.2L1196 849.21L1199.11 849.22L1202.22 849.22L1205.33 849.22L1208.44 849.22L1211.55 849.22L1214.66 849.22L1217.77 849.22L1220.88 849.22L1223.99 849.22L1227.09 849.22L1230.2 849.22L1233.31 849.22L1236.42 849.22L1239.53 849.22L1242.64 849.22L1245.75 849.22L1248.86 849.22L1251.97 849.22L1255.08 849.22L1258.19 849.22L1261.3 849.22L1264.4 849.22L1267.51 849.22L1270.62 849.22L1273.73 849.22L1276.84 849.22L1279.95 849.22L1283.06 849.22L1286.17 849.22L1289.28 849.22L1292.39 849.22L1295.5 849.22L1298.61 849.22L1301.71 849.22L1304.82 849.22L1307.93 849.22L1311.04 849.22L1314.15 849.22L1317.26 849.22L1320.37 849.22L1323.48 849.22L1326.59 849.22L1329.7 849.22L1332.81 849.22L1335.92 849.22L1339.02 849.22L1342.13 849.22L1345.24 849.22L1348.35 849.22L1351.46 849.22L1354.57 849.22L1357.68 849.22L1360.79 849.22L1363.9 849.22L1367.01 849.22L1370.12 849.22L1373.23 849.22L1376.33 849.22L1379.44 849.22L1382.55 849.22L1385.66 849.22L1388.77 849.22L1391.88 849.22L1394.99 849.22L1398.1 849.22L1401.21 849.22L1404.32 849.22L1407.43 849.22L1410.54 849.22L1413.64 849.22L1416.75 849.22L1419.86 849.22L1422.97 849.22L1426.08 849.22L1429.19 849.22L1432.3 849.22L1435.41 849.22L1438.52 849.22L1441.63 849.22L1444.74 849.22L1447.85 849.22L1450.95 849.22L1454.06 849.22"/>
<path fill="none" stroke="#e78ac3" stroke-width="2.08" stroke-linecap="square" stroke-linejoin="round" d="M835.34 833.63L838.45 832.35L841.56 831.15L844.67 830.05L847.78 829.07L850.88 828.25L853.99 827.58L857.1 827.07L860.21 826.73L863.32 826.56L866.43 826.55L869.54 826.69L872.65 826.97L875.76 827.37L878.87 827.89L881.98 828.5L885.09 829.19L888.19 829.94L891.3 830.74L894.41 831.57L897.52 832.43L900.63 833.29L903.74 834.15L906.85 834.99L909.96 835.81L913.07 836.6L916.18 837.35L919.29 838.05L922.4 838.72L925.5 839.34L928.61 839.91L931.72 840.44L934.83 840.93L937.94 841.39L941.05 841.81L944.16 842.22L947.27 842.6L950.38 842.98L953.49 843.35L956.6 843.71L959.71 844.08L962.81 844.45L965.92 844.81L969.03 845.18L972.14 845.55L975.25 845.91L978.36 846.26L981.47 846.6L984.58 846.92L987.69 847.23L990.8 847.51L993.91 847.77L997.02 848L1000.13 848.2L1003.23 848.37L1006.34 848.52L1009.45 848.64L1012.56 848.74L1015.67 848.81L1018.78 848.85L1021.89 848.88L1025 848.88L1028.11 848.87L1031.22 848.84L1034.33 848.79L1037.44 848.73L1040.54 848.66L1043.65 848.58L1046.76 848.49L1049.87 848.4L1052.98 848.31L1056.09 848.23L1059.2 848.15L1062.31 848.08L1065.42 848.02L1068.53 847.98L1071.64 847.96L1074.75 847.95L1077.85 847.97L1080.96 848L1084.07 848.05L1087.18 848.11L1090.29 848.19L1093.4 848.27L1096.51 848.36L1099.62 848.46L1102.73 848.55L1105.84 848.64L1108.95 848.73L1112.06 848.81L1115.16 848.88L1118.27 848.94L1121.38 849L1124.49 849.05L1127.6 849.09L1130.71 849.12L1133.82 849.14L1136.93 849.16L1140.04 849.18L1143.15 849.19L1146.26 849.2L1149.37 849.21L1152.47 849.21L1155.58 849.21L1158.69 849.22L1161.8 849.22L1164.91 849.22L1168.02 849.22L1171.13 849.22L1174.24 849.22L1177.35 849.22L1180.46 849.22L1183.57 849.22L1186.68 849.22L1189.78 849.22L1192.89 849.22L1196 849.22L1199.11 849.22L1202.22 849.22L1205.33 849.22L1208.44 849.22L1211.55 849.22L1214.66 849.22L1217.77 849.22L1220.88 849.22L1223.99 849.22L1227.09 849.22L1230.2 849.22L1233.31 849.22L1236.42 849.22L1239.53 849.22L1242.64 849.22L1245.75 849.22L1248.86 849.22L1251.97 849.22L1255.08 849.22L1258.19 849.22L1261.3 849.22L1264.4 849.22L1267.51 849.22L1270.62 849.22L1273.73 849.22L1276.84 849.22L1279.95 849.22L1283.06 849.22L1286.17 849.22L1289.28 849.22L1292.39 849.22L1295.5 849.22L1298.61 849.22L1301.71 849.22L1304.82 849.22L1307.93 849.22L1311.04 849.22L1314.15 849.22L1317.26 849.22L1320.37 849.22L1323.48 849.22L1326.59 849.22L1329.7 849.22L1332.81 849.22L1335.92 849.22L1339.02 849.22L1342.13 849.22L1345.24 849.22L1348.35 849.22L1351.46 849.22L1354.57 849.22L1357.68 849.22L1360.79 849.22L1363.9 849.22L1367.01 849.22L1370.12 849.22L1373.23 849.22L1376.33 849.22L1379.44 849.22L1382.55 849.22L1385.66 849.22L1388.77 849.22L1391.88 849.22L1394.99 849.22L1398.1 849.22L1401.21 849.22L1404.32 849.22L1407.43 849.22L1410.54 849.22L1413.64 849.22L1416.75 849.22L1419.86 849.22L1422.97 849.22L1426.08 849.22L1429.19 849.22L1432.3 849.22L1435.41 849.22L1438.52 849.22L1441.63 849.22L1444.74 849.22L1447.85 849.22L1450.95 849.22L1454.06 849.22"/>
<path fill="none" stroke="#8da0cb" stroke-width="2.08" stroke-linecap="square" stroke-linejoin="round" d="M835.34 831.5L838.45 830.05L841.56 828.58L844.67 827.07L847.78 825.54L850.88 823.98L853.99 822.39L857.1 820.79L860.21 819.16L863.32 817.51L866.43 815.83L869.54 814.14L872.65 812.42L875.76 810.68L878.87 808.91L881.98 807.13L885.09 805.33L888.19 803.51L891.3 801.69L894.41 799.86L897.52 798.03L900.63 796.2L903.74 794.39L906.85 792.6L909.96 790.83L913.07 789.09L916.18 787.38L919.29 785.7L922.4 784.06L925.5 782.45L928.61 780.88L931.72 779.34L934.83 777.83L937.94 776.34L941.05 774.87L944.16 773.41L947.27 771.96L950.38 770.52L953.49 769.06L956.6 767.61L959.71 766.14L962.81 764.65L965.92 763.15L969.03 761.64L972.14 760.12L975.25 758.59L978.36 757.06L981.47 755.54L984.58 754.04L987.69 752.57L990.8 751.14L993.91 749.77L997.02 748.47L1000.13 747.26L1003.23 746.14L1006.34 745.14L1009.45 744.27L1012.56 743.53L1015.67 742.95L1018.78 742.51L1021.89 742.23L1025 742.11L1028.11 742.15L1031.22 742.35L1034.33 742.69L1037.44 743.17L1040.54 743.78L1043.65 744.51L1046.76 745.34L1049.87 746.26L1052.98 747.27L1056.09 748.34L1059.2 749.48L1062.31 750.67L1065.42 751.9L1068.53 753.17L1071.64 754.48L1074.75 755.83L1077.85 757.21L1080.96 758.64L1084.07 760.11L1087.18 761.62L1090.29 763.19L1093.4 764.8L1096.51 766.46L1099.62 768.17L1102.73 769.93L1105.84 771.72L1108.95 773.56L1112.06 775.42L1115.16 777.3L1118.27 779.2L1121.38 781.08L1124.49 782.96L1127.6 784.81L1130.71 786.63L1133.82 788.41L1136.93 790.13L1140.04 791.78L1143.15 793.38L1146.26 794.9L1149.37 796.35L1152.47 797.73L1155.58 799.03L1158.69 800.27L1161.8 801.44L1164.91 802.54L1168.02 803.59L1171.13 804.59L1174.24 805.54L1177.35 806.44L1180.46 807.31L1183.57 808.15L1186.68 808.96L1189.78 809.75L1192.89 810.52L1196 811.27L1199.11 812.01L1202.22 812.74L1205.33 813.46L1208.44 814.17L1211.55 814.88L1214.66 815.58L1217.77 816.29L1220.88 817L1223.99 817.71L1227.09 818.44L1230.2 819.17L1233.31 819.92L1236.42 820.68L1239.53 821.46L1242.64 822.26L1245.75 823.09L1248.86 823.93L1251.97 824.79L1255.08 825.68L1258.19 826.58L1261.3 827.5L1264.4 828.44L1267.51 829.38L1270.62 830.33L1273.73 831.28L1276.84 832.22L1279.95 833.16L1283.06 834.08L1286.17 834.98L1289.28 835.85L1292.39 836.69L1295.5 837.5L1298.61 838.28L1301.71 839.01L1304.82 839.7L1307.93 840.34L1311.04 840.94L1314.15 841.5L1317.26 842.01L1320.37 842.48L1323.48 842.9L1326.59 843.29L1329.7 843.64L1332.81 843.95L1335.92 844.23L1339.02 844.48L1342.13 844.7L1345.24 844.89L1348.35 845.06L1351.46 845.22L1354.57 845.35L1357.68 845.47L1360.79 845.57L1363.9 845.67L1367.01 845.75L1370.12 845.83L1373.23 845.9L1376.33 845.97L1379.44 846.04L1382.55 846.11L1385.66 846.18L1388.77 846.26L1391.88 846.33L1394.99 846.41L1398.1 846.49L1401.21 846.57L1404.32 846.65L1407.43 846.74L1410.54 846.83L1413.64 846.91L1416.75 847L1419.86 847.09L1422.97 847.17L1426.08 847.25L1429.19 847.33L1432.3 847.41L1435.41 847.48L1438.52 847.55L1441.63 847.62L1444.74 847.69L1447.85 847.76L1450.95 847.82L1454.06 847.89"/>
<path fill="none" stroke="#fc8d62" stroke-width="2.08" stroke-linecap="square" stroke-linejoin="round" d="M835.34 828.04L838.45 826.53L841.56 825.08L844.67 823.72L847.78 822.47L850.88 821.34L853.99 820.35L857.1 819.52L860.21 818.85L863.32 818.35L866.43 818.02L869.54 817.85L872.65 817.84L875.76 817.97L878.87 818.23L881.98 818.6L885.09 819.07L888.19 819.61L891.3 820.21L894.41 820.83L897.52 821.48L900.63 822.12L903.74 822.74L906.85 823.34L909.96 823.91L913.07 824.44L916.18 824.93L919.29 825.38L922.4 825.8L925.5 826.19L928.61 826.57L931.72 826.94L934.83 827.3L937.94 827.68L941.05 828.07L944.16 828.5L947.27 828.95L950.38 829.44L953.49 829.97L956.6 830.54L959.71 831.15L962.81 831.8L965.92 832.47L969.03 833.18L972.14 833.9L975.25 834.64L978.36 835.39L981.47 836.14L984.58 836.88L987.69 837.6L990.8 838.31L993.91 839L997.02 839.65L1000.13 840.28L1003.23 840.86L1006.34 841.42L1009.45 841.93L1012.56 842.4L1015.67 842.84L1018.78 843.23L1021.89 843.59L1025 843.91L1028.11 844.19L1031.22 844.43L1034.33 844.65L1037.44 844.83L1040.54 844.99L1043.65 845.12L1046.76 845.24L1049.87 845.34L1052.98 845.44L1056.09 845.52L1059.2 845.61L1062.31 845.69L1065.42 845.78L1068.53 845.87L1071.64 845.98L1074.75 846.09L1077.85 846.22L1080.96 846.35L1084.07 846.5L1087.18 846.65L1090.29 846.81L1093.4 846.98L1096.51 847.15L1099.62 847.32L1102.73 847.49L1105.84 847.66L1108.95 847.82L1112.06 847.98L1115.16 848.13L1118.27 848.26L1121.38 848.39L1124.49 848.51L1127.6 848.61L1130.71 848.71L1133.82 848.79L1136.93 848.86L1140.04 848.92L1143.15 848.98L1146.26 849.02L1149.37 849.06L1152.47 849.09L1155.58 849.11L1158.69 849.13L1161.8 849.14L1164.91 849.15L1168.02 849.15L1171.13 849.15L1174.24 849.14L1177.35 849.13L1180.46 849.12L1183.57 849.1L1186.68 849.08L1189.78 849.05L1192.89 849.02L1196 848.98L1199.11 848.94L1202.22 848.9L1205.33 848.85L1208.44 848.8L1211.55 848.74L1214.66 848.69L1217.77 848.63L1220.88 848.57L1223.99 848.51L1227.09 848.46L1230.2 848.41L1233.31 848.36L1236.42 848.32L1239.53 848.29L1242.64 848.26L1245.75 848.24L1248.86 848.23L1251.97 848.23L1255.08 848.24L1258.19 848.25L1261.3 848.28L1264.4 848.31L1267.51 848.35L1270.62 848.4L1273.73 848.45L1276.84 848.5L1279.95 848.56L1283.06 848.62L1286.17 848.67L1289.28 848.73L1292.39 848.79L1295.5 848.84L1298.61 848.89L1301.71 848.93L1304.82 848.97L1307.93 849.01L1311.04 849.04L1314.15 849.07L1317.26 849.1L1320.37 849.12L1323.48 849.14L1326.59 849.16L1329.7 849.17L1332.81 849.18L1335.92 849.19L1339.02 849.2L1342.13 849.2L1345.24 849.21L1348.35 849.21L1351.46 849.21L1354.57 849.22L1357.68 849.22L1360.79 849.22L1363.9 849.22L1367.01 849.22L1370.12 849.22L1373.23 849.22L1376.33 849.22L1379.44 849.22L1382.55 849.22L1385.66 849.22L1388.77 849.22L1391.88 849.22L1394.99 849.22L1398.1 849.22L1401.21 849.22L1404.32 849.22L1407.43 849.22L1410.54 849.22L1413.64 849.22L1416.75 849.22L1419.86 849.22L1422.97 849.22L1426.08 849.22L1429.19 849.22L1432.3 849.22L1435.41 849.22L1438.52 849.22L1441.63 849.22L1444.74 849.22L1447.85 849.22L1450.95 849.22L1454.06 849.22"/>
</g>
<path fill="none" stroke="#000" stroke-width="1.11" stroke-linecap="square" d="M804.5 37.5H1485.5V849.5H804.5Z"/>
<path fill="none" stroke="#000" stroke-width="1.11" d="M835.5 849.5v4.86M930.5 849.5v4.86M1025.5 849.5v4.86M1120.5 849.5v4.86M1215.5 849.5v4.86M1311.5 849.5v4.86M1406.5 849.5v4.86M804.5 849.5h-4.86M804.5 741.5h-4.86M804.5 633.5h-4.86M804.5 525.5h-4.86M804.5 417.5h-4.86M804.5 309.5h-4.86M804.5 201.5h-4.86M804.5 93.5h-4.86"/>
<g font-family="&quot;Liberation Sans&quot;, sans-serif" fill="#000" style="font-kerning:none">
<text x="820.33" y="869.94" font-size="13.89" textLength="30.3" lengthAdjust="spacingAndGlyphs">0.00</text>
<text x="915.38" y="869.94" font-size="13.89" textLength="30.05" lengthAdjust="spacingAndGlyphs">0.05</text>
<text x="1010.34" y="869.94" font-size="13.89" textLength="30.3" lengthAdjust="spacingAndGlyphs">0.10</text>
<text x="1105.39" y="869.94" font-size="13.89" textLength="30.05" lengthAdjust="spacingAndGlyphs">0.15</text>
<text x="1200.48" y="869.94" font-size="13.89" textLength="30.3" lengthAdjust="spacingAndGlyphs">0.20</text>
<text x="1295.52" y="869.94" font-size="13.89" textLength="30.05" lengthAdjust="spacingAndGlyphs">0.25</text>
<text x="1390.55" y="869.94" font-size="13.89" textLength="30.3" lengthAdjust="spacingAndGlyphs">0.30</text>
<text x="786.27" y="854.72" font-size="13.89" textLength="8.14" lengthAdjust="spacingAndGlyphs">0</text>
<text x="786.27" y="746.68" font-size="13.89" textLength="7.78" lengthAdjust="spacingAndGlyphs">1</text>
<text x="786.24" y="638.64" font-size="13.89" textLength="7.85" lengthAdjust="spacingAndGlyphs">2</text>
<text x="786.45" y="530.6" font-size="13.89" textLength="7.82" lengthAdjust="spacingAndGlyphs">3</text>
<text x="786.27" y="422.55" font-size="13.89" textLength="8.14" lengthAdjust="spacingAndGlyphs">4</text>
<text x="786.45" y="314.51" font-size="13.89" textLength="7.69" lengthAdjust="spacingAndGlyphs">5</text>
<text x="786.01" y="206.47" font-size="13.89" textLength="8.43" lengthAdjust="spacingAndGlyphs">6</text>
<text x="786.34" y="98.43" font-size="13.89" textLength="7.96" lengthAdjust="spacingAndGlyphs">7</text>
<text x="1124.97" y="889.5" font-size="13.89" textLength="38.15" lengthAdjust="spacingAndGlyphs">Alpha</text>
<text transform="translate(777.25,471.35) rotate(-90)" x="0.08" font-size="13.89" textLength="52.34" lengthAdjust="spacingAndGlyphs">Density</text>
<text x="980.76" y="29" font-size="16.67" textLength="328.69" lengthAdjust="spacingAndGlyphs">Positive Alpha Values by Model Country</text>
</g>
<rect x="1368.44" y="44.28" width="109.61" height="297.39" rx="2.78" fill="#fff" fill-opacity="0.8" stroke="#ccc" stroke-opacity="0.8" stroke-width="1.39"/>
<rect x="1393.5" y="72.5" width="27" height="10" fill="none" fill-opacity="0" stroke="#fc8d62" stroke-opacity="0.5" stroke-width="3.12"/>
<rect x="1393.5" y="93.5" width="27" height="10" fill="none" fill-opacity="0" stroke="#8da0cb" stroke-opacity="0.5" stroke-width="3.12"/>
<rect x="1393.5" y="114.5" width="27" height="10" fill="none" fill-opacity="0" stroke="#e78ac3" stroke-opacity="0.5" stroke-width="3.12"/>
<rect x="1393.5" y="135.5" width="27" height="10" fill="none" fill-opacity="0" stroke="#b3b3b3" stroke-opacity="0.5" stroke-width="3.12"/>
<rect x="1393.5" y="156.5" width="27" height="10" fill="none" fill-opacity="0" stroke="#a6d854" stroke-opacity="0.5" stroke-width="3.12"/>
<rect x="1393.5" y="177.5" width="27" height="10" fill="none" fill-opacity="0" stroke="#ffd92f" stroke-opacity="0.5" stroke-width="3.12"/>
<rect x="1393.5" y="198.5" width="27" height="9" fill="none" fill-opacity="0" stroke="#e5c494" stroke-opacity="0.5" stroke-width="3.12"/>
<rect x="1393.5" y="219.5" width="27" height="9" fill="none" fill-opacity="0" stroke="#8da0cb" stroke-opacity="0.5" stroke-width="3.12"/>
<rect x="1393.5" y="240.5" width="27" height="9" fill="none" fill-opacity="0" stroke="#66c2a5" stroke-opacity="0.5" stroke-width="3.12"/>
<rect x="1393.5" y="261.5" width="27" height="9" fill="none" fill-opacity="0" stroke="#ffd92f" stroke-opacity="0.5" stroke-width="3.12"/>
<rect x="1393.5" y="282.5" width="27" height="9" fill="none" fill-opacity="0" stroke="#fc8d62" stroke-opacity="0.5" stroke-width="3.12"/>
<rect x="1393.5" y="302.5" width="27" height="10" fill="none" fill-opacity="0" stroke="#a6d854" stroke-opacity="0.5" stroke-width="3.12"/>
<rect x="1393.5" y="323.5" width="27" height="10" fill="none" fill-opacity="0" stroke="#e5c494" stroke-opacity="0.5" stroke-width="3.12"/>
<g font-family="&quot;Liberation Sans&quot;, sans-serif" fill="#000" style="font-kerning:none">
<text x="1374.22" y="60.83" font-size="13.89" textLength="97.82" lengthAdjust="spacingAndGlyphs">modelCountry</text>
<text x="1431.81" y="81.78" font-size="13.89" textLength="20.56" lengthAdjust="spacingAndGlyphs">MY</text>
<text x="1431.67" y="102.72" font-size="13.89" textLength="19.65" lengthAdjust="spacingAndGlyphs">XH</text>
<text x="1431.62" y="123.67" font-size="13.89" textLength="14.23" lengthAdjust="spacingAndGlyphs">IN</text>
<text x="1430.67" y="144.61" font-size="13.89" textLength="13.51" lengthAdjust="spacingAndGlyphs">JP</text>
<text x="1431.21" y="165.56" font-size="13.89" textLength="22.17" lengthAdjust="spacingAndGlyphs">TW</text>
<text x="1431.58" y="186.5" font-size="13.89" textLength="14.66" lengthAdjust="spacingAndGlyphs">ID</text>
<text x="1431.65" y="207.44" font-size="13.89" textLength="19.75" lengthAdjust="spacingAndGlyphs">CN</text>
<text x="1431.86" y="228.39" font-size="13.89" textLength="18.24" lengthAdjust="spacingAndGlyphs">PH</text>
<text x="1431.21" y="249.33" font-size="13.89" textLength="19.09" lengthAdjust="spacingAndGlyphs">TH</text>
<text x="1431.76" y="270.28" font-size="13.89" textLength="19.81" lengthAdjust="spacingAndGlyphs">HK</text>
<text x="1431.65" y="291.22" font-size="13.89" textLength="19.46" lengthAdjust="spacingAndGlyphs">AU</text>
<text x="1431.83" y="312.17" font-size="13.89" textLength="18.73" lengthAdjust="spacingAndGlyphs">KR</text>
<text x="1431.88" y="333.11" font-size="13.89" textLength="19.11" lengthAdjust="spacingAndGlyphs">SG</text>
</g>
<clipPath id="c2"><rect x="70.65" y="929.83" width="680.6" height="811.89"/></clipPath>
<g clip-path="url(#c2)">
<path fill="#ffe882" stroke="#000000" stroke-width="1.23" d="M102.5 1742.5H117.5V1742.5H102.5ZM117.5 1742.5H133.5V1742.5H117.5ZM133.5 1742.5H149.5V1742.5H133.5ZM149.5 1742.5H165.5V1742.5H149.5ZM165.5 1742.5H181.5V1742.5H165.5ZM181.5 1742.5H197.5V1742.5H181.5ZM197.5 1742.5H213.5V1742.5H197.5ZM213.5 1742.5H229.5V1742.5H213.5ZM229.5 1742.5H244.5V1742.5H229.5ZM244.5 1742.5H260.5V1742.5H244.5ZM260.5 1742.5H276.5V1742.5H260.5ZM276.5 1742.5H292.5V1742.5H276.5ZM292.5 1742.5H308.5V1742.5H292.5ZM308.5 1742.5H324.5V1742.5H308.5ZM324.5 1742.5H340.5V1742.5H324.5ZM340.5 1742.5H355.5V1742.5H340.5ZM355.5 1742.5H371.5V1742.5H355.5ZM371.5 1742.5H387.5V1742.5H371.5ZM387.5 1742.5H403.5V1742.5H387.5ZM403.5 1742.5H419.5V1742.5H403.5ZM419.5 1742.5H435.5V1742.5H419.5ZM435.5 1742.5H451.5V1742.5H435.5ZM451.5 1742.5H466.5V1742.5H451.5ZM466.5 1742.5H482.5V1742.5H466.5ZM482.5 1742.5H498.5V1742.5H482.5ZM498.5 1742.5H514.5V1742.5H498.5ZM514.5 1742.5H530.5V1742.5H514.5ZM530.5 1742.5H546.5V1742.5H530.5ZM546.5 1742.5H562.5V1742.5H546.5ZM562.5 1742.5H578.5V1742.5H562.5ZM578.5 1742.5H593.5V1742.5H578.5ZM593.5 1742.5H609.5V1740.5H593.5ZM609.5 1742.5H625.5V1740.5H609.5ZM625.5 1742.5H641.5V1740.5H625.5ZM641.5 1742.5H657.5V1742.5H641.5ZM657.5 1742.5H673.5V1736.5H657.5ZM673.5 1742.5H689.5V1740.5H673.5ZM689.5 1742.5H704.5V1742.5H689.5ZM704.5 1742.5H720.5V1734.5H704.5ZM102.5 1742.5H117.5V1742.5H102.5ZM117.5 1742.5H133.5V1742.5H117.5ZM133.5 1742.5H149.5V1742.5H133.5ZM149.5 1742.5H165.5V1742.5H149.5ZM165.5 1742.5H181.5V1742.5H165.5ZM181.5 1742.5H197.5V1742.5H181.5ZM197.5 1742.5H213.5V1742.5H197.5ZM213.5 1742.5H229.5V1742.5H213.5ZM229.5 1742.5H244.5V1742.5H229.5ZM244.5 1742.5H260.5V1742.5H244.5ZM260.5 1742.5H276.5V1742.5H260.5ZM276.5 1742.5H292.5V1742.5H276.5ZM292.5 1742.5H308.5V1742.5H292.5ZM308.5 1742.5H324.5V1742.5H308.5ZM324.5 1742.5H340.5V1742.5H324.5ZM340.5 1742.5H355.5V1742.5H340.5ZM355.5 1742.5H371.5V1742.5H355.5ZM371.5 1742.5H387.5V1742.5H371.5ZM387.5 1742.5H403.5V1742.5H387.5ZM403.5 1742.5H419.5V1742.5H403.5ZM419.5 1742.5H435.5V1742.5H419.5ZM435.5 1742.5H451.5V1742.5H435.5ZM451.5 1742.5H466.5V1742.5H451.5ZM466.5 1742.5H482.5V1742.5H466.5ZM482.5 1742.5H498.5V1742.5H482.5ZM498.5 1742.5H514.5V1742.5H498.5ZM514.5 1742.5H530.5V1742.5H514.5ZM530.5 1742.5H546.5V1742.5H530.5ZM546.5 1742.5H562.5V1742.5H546.5ZM562.5 1742.5H578.5V1742.5H562.5ZM578.5 1742.5H593.5V1738.5H578.5ZM593.5 1740.5H609.5V1740.5H593.5ZM609.5 1740.5H625.5V1731.5H609.5ZM625.5 1740.5H641.5V1734.5H625.5ZM641.5 1742.5H657.5V1731.5H641.5ZM657.5 1736.5H673.5V1727.5H657.5ZM673.5 1740.5H689.5V1731.5H673.5ZM689.5 1742.5H704.5V1716.5H689.5ZM704.5 1734.5H720.5V1725.5H704.5Z"/>
<path fill="#bbc6e0" stroke="#000000" stroke-width="1.23" d="M102.5 1742.5H117.5V1742.5H102.5ZM117.5 1742.5H133.5V1742.5H117.5ZM133.5 1742.5H149.5V1742.5H133.5ZM149.5 1742.5H165.5V1742.5H149.5ZM165.5 1742.5H181.5V1742.5H165.5ZM181.5 1742.5H197.5V1742.5H181.5ZM197.5 1742.5H213.5V1742.5H197.5ZM213.5 1742.5H229.5V1742.5H213.5ZM229.5 1742.5H244.5V1742.5H229.5ZM244.5 1742.5H260.5V1742.5H244.5ZM260.5 1742.5H276.5V1742.5H260.5ZM276.5 1742.5H292.5V1742.5H276.5ZM292.5 1742.5H308.5V1742.5H292.5ZM308.5 1742.5H324.5V1742.5H308.5ZM324.5 1742.5H340.5V1742.5H324.5ZM340.5 1742.5H355.5V1742.5H340.5ZM355.5 1742.5H371.5V1742.5H355.5ZM371.5 1742.5H387.5V1742.5H371.5ZM387.5 1742.5H403.5V1742.5H387.5ZM403.5 1742.5H419.5V1742.5H403.5ZM419.5 1742.5H435.5V1742.5H419.5ZM435.5 1742.5H451.5V1742.5H435.5ZM451.5 1742.5H466.5V1742.5H451.5ZM466.5 1742.5H482.5V1742.5H466.5ZM482.5 1742.5H498.5V1742.5H482.5ZM498.5 1742.5H514.5V1742.5H498.5ZM514.5 1742.5H530.5V1742.5H514.5ZM530.5 1742.5H546.5V1742.5H530.5ZM546.5 1742.5H562.5V1742.5H546.5ZM562.5 1742.5H578.5V1742.5H562.5ZM578.5 1738.5H593.5V1738.5H578.5ZM593.5 1740.5H609.5V1736.5H593.5ZM609.5 1731.5H625.5V1731.5H609.5ZM625.5 1734.5H641.5V1731.5H625.5ZM641.5 1731.5H657.5V1724.5H641.5ZM657.5 1727.5H673.5V1725.5H657.5ZM673.5 1731.5H689.5V1718.5H673.5ZM689.5 1716.5H704.5V1713.5H689.5ZM704.5 1725.5H720.5V1711.5H704.5Z"/>
<path fill="#a3dac9" stroke="#000000" stroke-width="1.23" d="M102.5 1742.5H117.5V1742.5H102.5ZM117.5 1742.5H133.5V1742.5H117.5ZM133.5 1742.5H149.5V1742.5H133.5ZM149.5 1742.5H165.5V1742.5H149.5ZM165.5 1742.5H181.5V1742.5H165.5ZM181.5 1742.5H197.5V1742.5H181.5ZM197.5 1742.5H213.5V1742.5H197.5ZM213.5 1742.5H229.5V1742.5H213.5ZM229.5 1742.5H244.5V1742.5H229.5ZM244.5 1742.5H260.5V1742.5H244.5ZM260.5 1742.5H276.5V1742.5H260.5ZM276.5 1742.5H292.5V1742.5H276.5ZM292.5 1742.5H308.5V1742.5H292.5ZM308.5 1742.5H324.5V1742.5H308.5ZM324.5 1742.5H340.5V1742.5H324.5ZM340.5 1742.5H355.5V1742.5H340.5ZM355.5 1742.5H371.5V1742.5H355.5ZM371.5 1742.5H387.5V1742.5H371.5ZM387.5 1742.5H403.5V1742.5H387.5ZM403.5 1742.5H419.5V1742.5H403.5ZM419.5 1742.5H435.5V1742.5H419.5ZM435.5 1742.5H451.5V1742.5H435.5ZM451.5 1742.5H466.5V1740.5H451.5ZM466.5 1742.5H482.5V1742.5H466.5ZM482.5 1742.5H498.5V1742.5H482.5ZM498.5 1742.5H514.5V1738.5H498.5ZM514.5 1742.5H530.5V1736.5H514.5ZM530.5 1742.5H546.5V1742.5H530.5ZM546.5 1742.5H562.5V1738.5H546.5ZM562.5 1742.5H578.5V1740.5H562.5ZM578.5 1738.5H593.5V1734.5H578.5ZM593.5 1736.5H609.5V1736.5H593.5ZM609.5 1731.5H625.5V1722.5H609.5ZM625.5 1731.5H641.5V1725.5H625.5ZM641.5 1724.5H657.5V1718.5H641.5ZM657.5 1725.5H673.5V1722.5H657.5ZM673.5 1718.5H689.5V1709.5H673.5ZM689.5 1713.5H704.5V1702.5H689.5ZM704.5 1711.5H720.5V1704.5H704.5Z"/>
<path fill="#fdbba1" stroke="#000000" stroke-width="1.23" d="M102.5 1742.5H117.5V1742.5H102.5ZM117.5 1742.5H133.5V1742.5H117.5ZM133.5 1742.5H149.5V1742.5H133.5ZM149.5 1742.5H165.5V1742.5H149.5ZM165.5 1742.5H181.5V1742.5H165.5ZM181.5 1742.5H197.5V1742.5H181.5ZM197.5 1742.5H213.5V1742.5H197.5ZM213.5 1742.5H229.5V1742.5H213.5ZM229.5 1742.5H244.5V1742.5H229.5ZM244.5 1742.5H260.5V1742.5H244.5ZM260.5 1742.5H276.5V1742.5H260.5ZM276.5 1742.5H292.5V1742.5H276.5ZM292.5 1742.5H308.5V1742.5H292.5ZM308.5 1742.5H324.5V1742.5H308.5ZM324.5 1742.5H340.5V1742.5H324.5ZM340.5 1742.5H355.5V1742.5H340.5ZM355.5 1742.5H371.5V1742.5H355.5ZM371.5 1742.5H387.5V1742.5H371.5ZM387.5 1742.5H403.5V1742.5H387.5ZM403.5 1742.5H419.5V1742.5H403.5ZM419.5 1742.5H435.5V1742.5H419.5ZM435.5 1742.5H451.5V1742.5H435.5ZM451.5 1740.5H466.5V1738.5H451.5ZM466.5 1742.5H482.5V1742.5H466.5ZM482.5 1742.5H498.5V1742.5H482.5ZM498.5 1738.5H514.5V1738.5H498.5ZM514.5 1736.5H530.5V1736.5H514.5ZM530.5 1742.5H546.5V1740.5H530.5ZM546.5 1738.5H562.5V1738.5H546.5ZM562.5 1740.5H578.5V1734.5H562.5ZM578.5 1734.5H593.5V1734.5H578.5ZM593.5 1736.5H609.5V1731.5H593.5ZM609.5 1722.5H625.5V1722.5H609.5ZM625.5 1725.5H641.5V1725.5H625.5ZM641.5 1718.5H657.5V1707.5H641.5ZM657.5 1722.5H673.5V1713.5H657.5ZM673.5 1709.5H689.5V1702.5H673.5ZM689.5 1702.5H704.5V1700.5H689.5ZM704.5 1704.5H720.5V1695.5H704.5ZM102.5 1742.5H117.5V1742.5H102.5ZM117.5 1742.5H133.5V1742.5H117.5ZM133.5 1742.5H149.5V1740.5H133.5ZM149.5 1742.5H165.5V1742.5H149.5ZM165.5 1742.5H181.5V1742.5H165.5ZM181.5 1742.5H197.5V1740.5H181.5ZM197.5 1742.5H213.5V1742.5H197.5ZM213.5 1742.5H229.5V1742.5H213.5ZM229.5 1742.5H244.5V1742.5H229.5ZM244.5 1742.5H260.5V1740.5H244.5ZM260.5 1742.5H276.5V1740.5H260.5ZM276.5 1742.5H292.5V1740.5H276.5ZM292.5 1742.5H308.5V1742.5H292.5ZM308.5 1742.5H324.5V1742.5H308.5ZM324.5 1742.5H340.5V1742.5H324.5ZM340.5 1742.5H355.5V1740.5H340.5ZM355.5 1742.5H371.5V1740.5H355.5ZM371.5 1742.5H387.5V1740.5H371.5ZM387.5 1742.5H403.5V1734.5H387.5ZM403.5 1742.5H419.5V1731.5H403.5ZM419.5 1742.5H435.5V1733.5H419.5ZM435.5 1742.5H451.5V1727.5H435.5ZM451.5 1738.5H466.5V1729.5H451.5ZM466.5 1742.5H482.5V1718.5H466.5ZM482.5 1742.5H498.5V1714.5H482.5ZM498.5 1738.5H514.5V1718.5H498.5ZM514.5 1736.5H530.5V1702.5H514.5ZM530.5 1740.5H546.5V1718.5H530.5ZM546.5 1738.5H562.5V1705.5H546.5ZM562.5 1734.5H578.5V1704.5H562.5ZM578.5 1734.5H593.5V1704.5H578.5ZM593.5 1731.5H609.5V1705.5H593.5ZM609.5 1722.5H625.5V1696.5H609.5ZM625.5 1725.5H641.5V1702.5H625.5ZM641.5 1707.5H657.5V1687.5H641.5ZM657.5 1713.5H673.5V1700.5H657.5ZM673.5 1702.5H689.5V1700.5H673.5ZM689.5 1700.5H704.5V1695.5H689.5ZM704.5 1695.5H720.5V1685.5H704.5Z"/>
<path fill="#efdcbf" stroke="#000000" stroke-width="1.23" d="M102.5 1742.5H117.5V1742.5H102.5ZM117.5 1742.5H133.5V1742.5H117.5ZM133.5 1740.5H149.5V1740.5H133.5ZM149.5 1742.5H165.5V1742.5H149.5ZM165.5 1742.5H181.5V1742.5H165.5ZM181.5 1740.5H197.5V1740.5H181.5ZM197.5 1742.5H213.5V1742.5H197.5ZM213.5 1742.5H229.5V1742.5H213.5ZM229.5 1742.5H244.5V1742.5H229.5ZM244.5 1740.5H260.5V1740.5H244.5ZM260.5 1740.5H276.5V1740.5H260.5ZM276.5 1740.5H292.5V1740.5H276.5ZM292.5 1742.5H308.5V1742.5H292.5ZM308.5 1742.5H324.5V1742.5H308.5ZM324.5 1742.5H340.5V1742.5H324.5ZM340.5 1740.5H355.5V1740.5H340.5ZM355.5 1740.5H371.5V1740.5H355.5ZM371.5 1740.5H387.5V1740.5H371.5ZM387.5 1734.5H403.5V1734.5H387.5ZM403.5 1731.5H419.5V1731.5H403.5ZM419.5 1733.5H435.5V1733.5H419.5ZM435.5 1727.5H451.5V1727.5H435.5ZM451.5 1729.5H466.5V1729.5H451.5ZM466.5 1718.5H482.5V1718.5H466.5ZM482.5 1714.5H498.5V1714.5H482.5ZM498.5 1718.5H514.5V1718.5H498.5ZM514.5 1702.5H530.5V1700.5H514.5ZM530.5 1718.5H546.5V1718.5H530.5ZM546.5 1705.5H562.5V1705.5H546.5ZM562.5 1704.5H578.5V1704.5H562.5ZM578.5 1704.5H593.5V1704.5H578.5ZM593.5 1705.5H609.5V1705.5H593.5ZM609.5 1696.5H625.5V1691.5H609.5ZM625.5 1702.5H641.5V1702.5H625.5ZM641.5 1687.5H657.5V1685.5H641.5ZM657.5 1700.5H673.5V1700.5H657.5ZM673.5 1700.5H689.5V1695.5H673.5ZM689.5 1695.5H704.5V1691.5H689.5ZM704.5 1685.5H720.5V1680.5H704.5ZM102.5 1742.5H117.5V1742.5H102.5ZM117.5 1742.5H133.5V1742.5H117.5ZM133.5 1738.5H149.5V1738.5H133.5ZM149.5 1740.5H165.5V1740.5H149.5ZM165.5 1738.5H181.5V1738.5H165.5ZM181.5 1740.5H197.5V1740.5H181.5ZM197.5 1742.5H213.5V1742.5H197.5ZM213.5 1740.5H229.5V1740.5H213.5ZM229.5 1740.5H244.5V1740.5H229.5ZM244.5 1733.5H260.5V1733.5H244.5ZM260.5 1733.5H276.5V1733.5H260.5ZM276.5 1724.5H292.5V1724.5H276.5ZM292.5 1724.5H308.5V1724.5H292.5ZM308.5 1720.5H324.5V1720.5H308.5ZM324.5 1727.5H340.5V1725.5H324.5ZM340.5 1711.5H355.5V1704.5H340.5ZM355.5 1718.5H371.5V1716.5H355.5ZM371.5 1700.5H387.5V1693.5H371.5ZM387.5 1700.5H403.5V1696.5H387.5ZM403.5 1684.5H419.5V1671.5H403.5ZM419.5 1691.5H435.5V1675.5H419.5ZM435.5 1669.5H451.5V1655.5H435.5ZM451.5 1665.5H466.5V1644.5H451.5ZM466.5 1627.5H482.5V1597.5H466.5ZM482.5 1613.5H498.5V1551.5H482.5ZM498.5 1609.5H514.5V1553.5H498.5ZM514.5 1566.5H530.5V1511.5H514.5ZM530.5 1611.5H546.5V1526.5H530.5ZM546.5 1578.5H562.5V1430.5H546.5ZM562.5 1560.5H578.5V1379.5H562.5ZM578.5 1555.5H593.5V1381.5H578.5ZM593.5 1511.5H609.5V1297.5H593.5ZM609.5 1511.5H625.5V1232.5H609.5ZM625.5 1500.5H641.5V1212.5H625.5ZM641.5 1468.5H657.5V1159.5H641.5ZM657.5 1444.5H673.5V1041.5H657.5ZM673.5 1397.5H689.5V1039.5H673.5ZM689.5 1355.5H704.5V983.5H689.5ZM704.5 1382.5H720.5V1059.5H704.5Z"/>
<path fill="#f1b9db" stroke="#000000" stroke-width="1.23" d="M102.5 1742.5H117.5V1742.5H102.5ZM117.5 1742.5H133.5V1742.5H117.5ZM133.5 1740.5H149.5V1740.5H133.5ZM149.5 1742.5H165.5V1742.5H149.5ZM165.5 1742.5H181.5V1742.5H165.5ZM181.5 1740.5H197.5V1740.5H181.5ZM197.5 1742.5H213.5V1742.5H197.5ZM213.5 1742.5H229.5V1742.5H213.5ZM229.5 1742.5H244.5V1742.5H229.5ZM244.5 1740.5H260.5V1740.5H244.5ZM260.5 1740.5H276.5V1740.5H260.5ZM276.5 1740.5H292.5V1740.5H276.5ZM292.5 1742.5H308.5V1742.5H292.5ZM308.5 1742.5H324.5V1740.5H308.5ZM324.5 1742.5H340.5V1742.5H324.5ZM340.5 1740.5H355.5V1740.5H340.5ZM355.5 1740.5H371.5V1740.5H355.5ZM371.5 1740.5H387.5V1734.5H371.5ZM387.5 1734.5H403.5V1734.5H387.5ZM403.5 1731.5H419.5V1727.5H403.5ZM419.5 1733.5H435.5V1731.5H419.5ZM435.5 1727.5H451.5V1724.5H435.5ZM451.5 1729.5H466.5V1727.5H451.5ZM466.5 1718.5H482.5V1714.5H466.5ZM482.5 1714.5H498.5V1714.5H482.5ZM498.5 1718.5H514.5V1714.5H498.5ZM514.5 1700.5H530.5V1700.5H514.5ZM530.5 1718.5H546.5V1718.5H530.5ZM546.5 1705.5H562.5V1705.5H546.5ZM562.5 1704.5H578.5V1704.5H562.5ZM578.5 1704.5H593.5V1704.5H578.5ZM593.5 1705.5H609.5V1705.5H593.5ZM609.5 1691.5H625.5V1691.5H609.5ZM625.5 1702.5H641.5V1702.5H625.5ZM641.5 1685.5H657.5V1685.5H641.5ZM657.5 1700.5H673.5V1700.5H657.5ZM673.5 1695.5H689.5V1695.5H673.5ZM689.5 1691.5H704.5V1691.5H689.5ZM704.5 1680.5H720.5V1680.5H704.5ZM102.5 1742.5H117.5V1740.5H102.5ZM117.5 1742.5H133.5V1742.5H117.5ZM133.5 1738.5H149.5V1738.5H133.5ZM149.5 1740.5H165.5V1740.5H149.5ZM165.5 1738.5H181.5V1738.5H165.5ZM181.5 1740.5H197.5V1738.5H181.5ZM197.5 1742.5H213.5V1736.5H197.5ZM213.5 1740.5H229.5V1734.5H213.5ZM229.5 1740.5H244.5V1733.5H229.5ZM244.5 1733.5H260.5V1731.5H244.5ZM260.5 1733.5H276.5V1725.5H260.5ZM276.5 1724.5H292.5V1714.5H276.5ZM292.5 1724.5H308.5V1711.5H292.5ZM308.5 1720.5H324.5V1696.5H308.5ZM324.5 1725.5H340.5V1714.5H324.5ZM340.5 1704.5H355.5V1676.5H340.5ZM355.5 1716.5H371.5V1705.5H355.5ZM371.5 1693.5H387.5V1653.5H371.5ZM387.5 1696.5H403.5V1676.5H387.5ZM403.5 1671.5H419.5V1624.5H403.5ZM419.5 1675.5H435.5V1633.5H419.5ZM435.5 1655.5H451.5V1602.5H435.5ZM451.5 1644.5H466.5V1544.5H451.5ZM466.5 1597.5H482.5V1515.5H466.5ZM482.5 1551.5H498.5V1457.5H482.5ZM498.5 1553.5H514.5V1433.5H498.5ZM514.5 1511.5H530.5V1422.5H514.5ZM530.5 1526.5H546.5V1442.5H530.5ZM546.5 1430.5H562.5V1353.5H546.5ZM562.5 1379.5H578.5V1295.5H562.5ZM578.5 1381.5H593.5V1302.5H578.5ZM593.5 1297.5H609.5V1233.5H593.5ZM609.5 1232.5H625.5V1143.5H609.5ZM625.5 1212.5H641.5V1166.5H625.5ZM641.5 1159.5H657.5V1121.5H641.5ZM657.5 1041.5H673.5V1003.5H657.5ZM673.5 1039.5H689.5V1012.5H673.5ZM689.5 983.5H704.5V968.5H689.5ZM704.5 1059.5H720.5V1047.5H704.5Z"/>
<path fill="#cae898" stroke="#000000" stroke-width="1.23" d="M102.5 1742.5H117.5V1742.5H102.5ZM117.5 1742.5H133.5V1742.5H117.5ZM133.5 1740.5H149.5V1740.5H133.5ZM149.5 1742.5H165.5V1742.5H149.5ZM165.5 1742.5H181.5V1742.5H165.5ZM181.5 1740.5H197.5V1740.5H181.5ZM197.5 1742.5H213.5V1742.5H197.5ZM213.5 1742.5H229.5V1740.5H213.5ZM229.5 1742.5H244.5V1740.5H229.5ZM244.5 1740.5H260.5V1740.5H244.5ZM260.5 1740.5H276.5V1740.5H260.5ZM276.5 1740.5H292.5V1740.5H276.5ZM292.5 1742.5H308.5V1740.5H292.5ZM308.5 1740.5H324.5V1740.5H308.5ZM324.5 1742.5H340.5V1742.5H324.5ZM340.5 1740.5H355.5V1740.5H340.5ZM355.5 1740.5H371.5V1738.5H355.5ZM371.5 1734.5H387.5V1733.5H371.5ZM387.5 1734.5H403.5V1729.5H387.5ZM403.5 1727.5H419.5V1725.5H403.5ZM419.5 1731.5H435.5V1731.5H419.5ZM435.5 1724.5H451.5V1724.5H435.5ZM451.5 1727.5H466.5V1720.5H451.5ZM466.5 1714.5H482.5V1711.5H466.5ZM482.5 1714.5H498.5V1707.5H482.5ZM498.5 1714.5H514.5V1702.5H498.5ZM514.5 1700.5H530.5V1687.5H514.5ZM530.5 1718.5H546.5V1702.5H530.5ZM546.5 1705.5H562.5V1678.5H546.5ZM562.5 1704.5H578.5V1689.5H562.5ZM578.5 1704.5H593.5V1676.5H578.5ZM593.5 1705.5H609.5V1669.5H593.5ZM609.5 1691.5H625.5V1649.5H609.5ZM625.5 1702.5H641.5V1667.5H625.5ZM641.5 1685.5H657.5V1635.5H641.5ZM657.5 1700.5H673.5V1646.5H657.5ZM673.5 1695.5H689.5V1638.5H673.5ZM689.5 1691.5H704.5V1593.5H689.5ZM704.5 1680.5H720.5V1587.5H704.5ZM102.5 1742.5H117.5V1742.5H102.5ZM117.5 1742.5H133.5V1742.5H117.5ZM133.5 1740.5H149.5V1738.5H133.5ZM149.5 1742.5H165.5V1740.5H149.5ZM165.5 1742.5H181.5V1738.5H165.5ZM181.5 1740.5H197.5V1740.5H181.5ZM197.5 1742.5H213.5V1742.5H197.5ZM213.5 1740.5H229.5V1740.5H213.5ZM229.5 1740.5H244.5V1740.5H229.5ZM244.5 1740.5H260.5V1733.5H244.5ZM260.5 1740.5H276.5V1733.5H260.5ZM276.5 1740.5H292.5V1724.5H276.5ZM292.5 1740.5H308.5V1724.5H292.5ZM308.5 1740.5H324.5V1720.5H308.5ZM324.5 1742.5H340.5V1727.5H324.5ZM340.5 1736.5H355.5V1711.5H340.5ZM355.5 1738.5H371.5V1718.5H355.5ZM371.5 1731.5H387.5V1700.5H371.5ZM387.5 1729.5H403.5V1700.5H387.5ZM403.5 1724.5H419.5V1684.5H403.5ZM419.5 1724.5H435.5V1691.5H419.5ZM435.5 1720.5H451.5V1669.5H435.5ZM451.5 1711.5H466.5V1665.5H451.5ZM466.5 1702.5H482.5V1627.5H466.5ZM482.5 1685.5H498.5V1613.5H482.5ZM498.5 1678.5H514.5V1609.5H498.5ZM514.5 1655.5H530.5V1566.5H514.5ZM530.5 1676.5H546.5V1611.5H530.5ZM546.5 1624.5H562.5V1578.5H546.5ZM562.5 1624.5H578.5V1560.5H562.5ZM578.5 1618.5H593.5V1555.5H578.5ZM593.5 1573.5H609.5V1511.5H593.5ZM609.5 1558.5H625.5V1511.5H609.5ZM625.5 1529.5H641.5V1500.5H625.5ZM641.5 1509.5H657.5V1468.5H641.5ZM657.5 1482.5H673.5V1444.5H657.5ZM673.5 1426.5H689.5V1397.5H673.5ZM689.5 1381.5H704.5V1355.5H689.5ZM704.5 1404.5H720.5V1382.5H704.5Z"/>
<path fill="#d1d1d1" stroke="#000000" stroke-width="1.23" d="M102.5 1742.5H117.5V1742.5H102.5ZM117.5 1742.5H133.5V1742.5H117.5ZM133.5 1740.5H149.5V1740.5H133.5ZM149.5 1742.5H165.5V1742.5H149.5ZM165.5 1742.5H181.5V1742.5H165.5ZM181.5 1740.5H197.5V1740.5H181.5ZM197.5 1742.5H213.5V1742.5H197.5ZM213.5 1740.5H229.5V1740.5H213.5ZM229.5 1740.5H244.5V1740.5H229.5ZM244.5 1740.5H260.5V1740.5H244.5ZM260.5 1740.5H276.5V1740.5H260.5ZM276.5 1740.5H292.5V1740.5H276.5ZM292.5 1740.5H308.5V1740.5H292.5ZM308.5 1740.5H324.5V1740.5H308.5ZM324.5 1742.5H340.5V1742.5H324.5ZM340.5 1740.5H355.5V1736.5H340.5ZM355.5 1738.5H371.5V1738.5H355.5ZM371.5 1733.5H387.5V1731.5H371.5ZM387.5 1729.5H403.5V1729.5H387.5ZM403.5 1725.5H419.5V1724.5H403.5ZM419.5 1731.5H435.5V1724.5H419.5ZM435.5 1724.5H451.5V1720.5H435.5ZM451.5 1720.5H466.5V1711.5H451.5ZM466.5 1711.5H482.5V1702.5H466.5ZM482.5 1707.5H498.5V1685.5H482.5ZM498.5 1702.5H514.5V1678.5H498.5ZM514.5 1687.5H530.5V1655.5H514.5ZM530.5 1702.5H546.5V1676.5H530.5ZM546.5 1678.5H562.5V1624.5H546.5ZM562.5 1689.5H578.5V1624.5H562.5ZM578.5 1676.5H593.5V1618.5H578.5ZM593.5 1669.5H609.5V1573.5H593.5ZM609.5 1649.5H625.5V1558.5H609.5ZM625.5 1667.5H641.5V1529.5H625.5ZM641.5 1635.5H657.5V1509.5H641.5ZM657.5 1646.5H673.5V1482.5H657.5ZM673.5 1638.5H689.5V1426.5H673.5ZM689.5 1593.5H704.5V1381.5H689.5ZM704.5 1587.5H720.5V1404.5H704.5Z"/>
<path fill="none" stroke="#b0b0b0" stroke-width="1.11" d="M3.5 1742.5L3.5 930.5M83.5 1742.5L83.5 930.5M162.5 1742.5L162.5 930.5M242.5 1742.5L242.5 930.5M322.5 1742.5L322.5 930.5M402.5 1742.5L402.5 930.5M481.5 1742.5L481.5 930.5M561.5 1742.5L561.5 930.5M641.5 1742.5L641.5 930.5M720.5 1742.5L720.5 930.5M800.5 1742.5L800.5 930.5M71.5 1742.5L751.5 1742.5M71.5 1651.5L751.5 1651.5M71.5 1560.5L751.5 1560.5M71.5 1469.5L751.5 1469.5M71.5 1379.5L751.5 1379.5M71.5 1288.5L751.5 1288.5M71.5 1197.5L751.5 1197.5M71.5 1106.5L751.5 1106.5M71.5 1016.5L751.5 1016.5M71.5 925.5L751.5 925.5"/>
</g>
<path fill="none" stroke="#000" stroke-width="1.11" stroke-linecap="square" d="M71.5 930.5H751.5V1742.5H71.5Z"/>
<path fill="none" stroke="#000" stroke-width="1.11" d="M83.5 1742.5v4.86M162.5 1742.5v4.86M242.5 1742.5v4.86M322.5 1742.5v4.86M402.5 1742.5v4.86M481.5 1742.5v4.86M561.5 1742.5v4.86M641.5 1742.5v4.86M720.5 1742.5v4.86M71.5 1742.5h-4.86M71.5 1651.5h-4.86M71.5 1560.5h-4.86M71.5 1469.5h-4.86M71.5 1379.5h-4.86M71.5 1288.5h-4.86M71.5 1197.5h-4.86M71.5 1106.5h-4.86M71.5 1016.5h-4.86"/>
<g font-family="&quot;Liberation Sans&quot;, sans-serif" fill="#000" style="font-kerning:none">
<text x="62.32" y="1762.44" font-size="13.89" textLength="41.62" lengthAdjust="spacingAndGlyphs">&#8722;0.40</text>
<text x="142.01" y="1762.44" font-size="13.89" textLength="41.37" lengthAdjust="spacingAndGlyphs">&#8722;0.35</text>
<text x="221.7" y="1762.44" font-size="13.89" textLength="41.62" lengthAdjust="spacingAndGlyphs">&#8722;0.30</text>
<text x="301.4" y="1762.44" font-size="13.89" textLength="41.37" lengthAdjust="spacingAndGlyphs">&#8722;0.25</text>
<text x="381.08" y="1762.44" font-size="13.89" textLength="41.62" lengthAdjust="spacingAndGlyphs">&#8722;0.20</text>
<text x="460.72" y="1762.44" font-size="13.89" textLength="41.37" lengthAdjust="spacingAndGlyphs">&#8722;0.15</text>
<text x="540.4" y="1762.44" font-size="13.89" textLength="41.62" lengthAdjust="spacingAndGlyphs">&#8722;0.10</text>
<text x="620.16" y="1762.44" font-size="13.89" textLength="41.37" lengthAdjust="spacingAndGlyphs">&#8722;0.05</text>
<text x="705.31" y="1762.44" font-size="13.89" textLength="30.3" lengthAdjust="spacingAndGlyphs">0.00</text>
<text x="52.52" y="1747.22" font-size="13.89" textLength="8.14" lengthAdjust="spacingAndGlyphs">0</text>
<text x="43.9" y="1656.47" font-size="13.89" textLength="16.88" lengthAdjust="spacingAndGlyphs">50</text>
<text x="34.9" y="1565.71" font-size="13.89" textLength="25.85" lengthAdjust="spacingAndGlyphs">100</text>
<text x="34.9" y="1474.96" font-size="13.89" textLength="25.85" lengthAdjust="spacingAndGlyphs">150</text>
<text x="34.92" y="1384.2" font-size="13.89" textLength="25.96" lengthAdjust="spacingAndGlyphs">200</text>
<text x="34.92" y="1293.45" font-size="13.89" textLength="25.96" lengthAdjust="spacingAndGlyphs">250</text>
<text x="35.15" y="1202.7" font-size="13.89" textLength="25.72" lengthAdjust="spacingAndGlyphs">300</text>
<text x="35.15" y="1111.94" font-size="13.89" textLength="25.72" lengthAdjust="spacingAndGlyphs">350</text>
<text x="35" y="1021.19" font-size="13.89" textLength="25.87" lengthAdjust="spacingAndGlyphs">400</text>
<text x="391.22" y="1782" font-size="13.89" textLength="38.15" lengthAdjust="spacingAndGlyphs">Alpha</text>
<text transform="translate(26,1358.1) rotate(-90)" x="0" font-size="13.89" textLength="41.03" lengthAdjust="spacingAndGlyphs">Count</text>
<text x="241.81" y="921.5" font-size="16.67" textLength="339.25" lengthAdjust="spacingAndGlyphs">Negative Alpha Values by Model Country</text>
</g>
<rect x="77.6" y="936.78" width="109.61" height="318.33" rx="2.78" fill="#fff" fill-opacity="0.8" stroke="#ccc" stroke-opacity="0.8" stroke-width="1.39"/>
<rect x="102.5" y="965.5" width="28" height="9" fill="#e78ac3" fill-opacity="0.6" stroke="#000000" stroke-opacity="1" stroke-width="1.39"/>
<rect x="102.5" y="986.5" width="28" height="9" fill="#e5c494" fill-opacity="0.6" stroke="#000000" stroke-opacity="1" stroke-width="1.39"/>
<rect x="102.5" y="1006.5" width="28" height="10" fill="#a6d854" fill-opacity="0.6" stroke="#000000" stroke-opacity="1" stroke-width="1.39"/>
<rect x="102.5" y="1027.5" width="28" height="10" fill="#b3b3b3" fill-opacity="0.6" stroke="#000000" stroke-opacity="1" stroke-width="1.39"/>
<rect x="102.5" y="1048.5" width="28" height="10" fill="#a6d854" fill-opacity="0.6" stroke="#000000" stroke-opacity="1" stroke-width="1.39"/>
<rect x="102.5" y="1069.5" width="28" height="10" fill="#e78ac3" fill-opacity="0.6" stroke="#000000" stroke-opacity="1" stroke-width="1.39"/>
<rect x="102.5" y="1090.5" width="28" height="10" fill="#e5c494" fill-opacity="0.6" stroke="#000000" stroke-opacity="1" stroke-width="1.39"/>
<rect x="102.5" y="1111.5" width="28" height="10" fill="#fc8d62" fill-opacity="0.6" stroke="#000000" stroke-opacity="1" stroke-width="1.39"/>
<rect x="102.5" y="1132.5" width="28" height="10" fill="#fc8d62" fill-opacity="0.6" stroke="#000000" stroke-opacity="1" stroke-width="1.39"/>
<rect x="102.5" y="1153.5" width="28" height="10" fill="#66c2a5" fill-opacity="0.6" stroke="#000000" stroke-opacity="1" stroke-width="1.39"/>
<rect x="102.5" y="1174.5" width="28" height="10" fill="#8da0cb" fill-opacity="0.6" stroke="#000000" stroke-opacity="1" stroke-width="1.39"/>
<rect x="102.5" y="1195.5" width="28" height="10" fill="#ffd92f" fill-opacity="0.6" stroke="#000000" stroke-opacity="1" stroke-width="1.39"/>
<rect x="102.5" y="1216.5" width="28" height="10" fill="#ffd92f" fill-opacity="0.6" stroke="#000000" stroke-opacity="1" stroke-width="1.39"/>
<rect x="102.5" y="1237.5" width="28" height="10" fill="#8da0cb" fill-opacity="0.6" stroke="#000000" stroke-opacity="1" stroke-width="1.39"/>
<g font-family="&quot;Liberation Sans&quot;, sans-serif" fill="#000" style="font-kerning:none">
<text x="83.37" y="953.33" font-size="13.89" textLength="97.82" lengthAdjust="spacingAndGlyphs">modelCountry</text>
<text x="140.77" y="974.28" font-size="13.89" textLength="14.23" lengthAdjust="spacingAndGlyphs">IN</text>
<text x="140.81" y="995.22" font-size="13.89" textLength="19.75" lengthAdjust="spacingAndGlyphs">CN</text>
<text x="140.98" y="1016.17" font-size="13.89" textLength="18.73" lengthAdjust="spacingAndGlyphs">KR</text>
<text x="139.82" y="1037.11" font-size="13.89" textLength="13.51" lengthAdjust="spacingAndGlyphs">JP</text>
<text x="140.36" y="1058.06" font-size="13.89" textLength="22.17" lengthAdjust="spacingAndGlyphs">TW</text>
<text x="140.88" y="1079" font-size="13.89" textLength="19.58" lengthAdjust="spacingAndGlyphs">NZ</text>
<text x="141.04" y="1099.94" font-size="13.89" textLength="19.11" lengthAdjust="spacingAndGlyphs">SG</text>
<text x="140.8" y="1120.89" font-size="13.89" textLength="19.46" lengthAdjust="spacingAndGlyphs">AU</text>
<text x="140.96" y="1141.83" font-size="13.89" textLength="20.56" lengthAdjust="spacingAndGlyphs">MY</text>
<text x="140.36" y="1162.78" font-size="13.89" textLength="19.09" lengthAdjust="spacingAndGlyphs">TH</text>
<text x="140.82" y="1183.72" font-size="13.89" textLength="19.65" lengthAdjust="spacingAndGlyphs">XH</text>
<text x="140.73" y="1204.67" font-size="13.89" textLength="14.66" lengthAdjust="spacingAndGlyphs">ID</text>
<text x="140.92" y="1225.61" font-size="13.89" textLength="19.81" lengthAdjust="spacingAndGlyphs">HK</text>
<text x="141.01" y="1246.56" font-size="13.89" textLength="18.24" lengthAdjust="spacingAndGlyphs">PH</text>
</g>
<clipPath id="c3"><rect x="804.4" y="929.83" width="680.6" height="811.89"/></clipPath>
<g clip-path="url(#c3)">
<path fill="none" stroke="#ffd92f" stroke-opacity="0.5" stroke-width="3.12" d="M835.5 1742.5H851.5V1742.5H835.5Z"/>
<path fill="none" stroke="#ffd92f" stroke-opacity="0.5" stroke-width="3.12" d="M851.5 1742.5H867.5V1742.5H851.5Z"/>
<path fill="none" stroke="#ffd92f" stroke-opacity="0.5" stroke-width="3.12" d="M867.5 1742.5H883.5V1742.5H867.5Z"/>
<path fill="none" stroke="#ffd92f" stroke-opacity="0.5" stroke-width="3.12" d="M883.5 1742.5H899.5V1742.5H883.5Z"/>
<path fill="none" stroke="#ffd92f" stroke-opacity="0.5" stroke-width="3.12" d="M899.5 1742.5H915.5V1742.5H899.5Z"/>
<path fill="none" stroke="#ffd92f" stroke-opacity="0.5" stroke-width="3.12" d="M915.5 1742.5H931.5V1742.5H915.5Z"/>
<path fill="none" stroke="#ffd92f" stroke-opacity="0.5" stroke-width="3.12" d="M931.5 1742.5H946.5V1742.5H931.5Z"/>
<path fill="none" stroke="#ffd92f" stroke-opacity="0.5" stroke-width="3.12" d="M946.5 1742.5H962.5V1742.5H946.5Z"/>
<path fill="none" stroke="#ffd92f" stroke-opacity="0.5" stroke-width="3.12" d="M962.5 1742.5H978.5V1742.5H962.5Z"/>
<path fill="none" stroke="#ffd92f" stroke-opacity="0.5" stroke-width="3.12" d="M978.5 1742.5H994.5V1742.5H978.5Z"/>
<path fill="none" stroke="#ffd92f" stroke-opacity="0.5" stroke-width="3.12" d="M994.5 1742.5H1010.5V1742.5H994.5Z"/>
<path fill="none" stroke="#ffd92f" stroke-opacity="0.5" stroke-width="3.12" d="M1010.5 1742.5H1026.5V1742.5H1010.5Z"/>
<path fill="none" stroke="#ffd92f" stroke-opacity="0.5" stroke-width="3.12" d="M1026.5 1742.5H1042.5V1742.5H1026.5Z"/>
<path fill="none" stroke="#ffd92f" stroke-opacity="0.5" stroke-width="3.12" d="M1042.5 1742.5H1057.5V1742.5H1042.5Z"/>
<path fill="none" stroke="#ffd92f" stroke-opacity="0.5" stroke-width="3.12" d="M1057.5 1742.5H1073.5V1742.5H1057.5Z"/>
<path fill="none" stroke="#ffd92f" stroke-opacity="0.5" stroke-width="3.12" d="M1073.5 1742.5H1089.5V1742.5H1073.5Z"/>
<path fill="none" stroke="#ffd92f" stroke-opacity="0.5" stroke-width="3.12" d="M1089.5 1742.5H1105.5V1742.5H1089.5Z"/>
<path fill="none" stroke="#ffd92f" stroke-opacity="0.5" stroke-width="3.12" d="M1105.5 1742.5H1121.5V1742.5H1105.5Z"/>
<path fill="none" stroke="#ffd92f" stroke-opacity="0.5" stroke-width="3.12" d="M1121.5 1742.5H1137.5V1742.5H1121.5Z"/>
<path fill="none" stroke="#ffd92f" stroke-opacity="0.5" stroke-width="3.12" d="M1137.5 1742.5H1153.5V1742.5H1137.5Z"/>
<path fill="none" stroke="#ffd92f" stroke-opacity="0.5" stroke-width="3.12" d="M1153.5 1742.5H1168.5V1742.5H1153.5Z"/>
<path fill="none" stroke="#ffd92f" stroke-opacity="0.5" stroke-width="3.12" d="M1168.5 1742.5H1184.5V1742.5H1168.5Z"/>
<path fill="none" stroke="#ffd92f" stroke-opacity="0.5" stroke-width="3.12" d="M1184.5 1742.5H1200.5V1742.5H1184.5Z"/>
<path fill="none" stroke="#ffd92f" stroke-opacity="0.5" stroke-width="3.12" d="M1200.5 1742.5H1216.5V1742.5H1200.5Z"/>
<path fill="none" stroke="#ffd92f" stroke-opacity="0.5" stroke-width="3.12" d="M1216.5 1742.5H1232.5V1742.5H1216.5Z"/>
<path fill="none" stroke="#ffd92f" stroke-opacity="0.5" stroke-width="3.12" d="M1232.5 1742.5H1248.5V1742.5H1232.5Z"/>
<path fill="none" stroke="#ffd92f" stroke-opacity="0.5" stroke-width="3.12" d="M1248.5 1742.5H1264.5V1742.5H1248.5Z"/>
<path fill="none" stroke="#ffd92f" stroke-opacity="0.5" stroke-width="3.12" d="M1264.5 1742.5H1280.5V1742.5H1264.5Z"/>
<path fill="none" stroke="#ffd92f" stroke-opacity="0.5" stroke-width="3.12" d="M1280.5 1742.5H1295.5V1742.5H1280.5Z"/>
<path fill="none" stroke="#ffd92f" stroke-opacity="0.5" stroke-width="3.12" d="M1295.5 1742.5H1311.5V1742.5H1295.5Z"/>
<path fill="none" stroke="#ffd92f" stroke-opacity="0.5" stroke-width="3.12" d="M1311.5 1742.5H1327.5V1742.5H1311.5Z"/>
<path fill="none" stroke="#ffd92f" stroke-opacity="0.5" stroke-width="3.12" d="M1327.5 1742.5H1343.5V1738.5H1327.5Z"/>
<path fill="none" stroke="#ffd92f" stroke-opacity="0.5" stroke-width="3.12" d="M1343.5 1742.5H1359.5V1738.5H1343.5Z"/>
<path fill="none" stroke="#ffd92f" stroke-opacity="0.5" stroke-width="3.12" d="M1359.5 1742.5H1375.5V1738.5H1359.5Z"/>
<path fill="none" stroke="#ffd92f" stroke-opacity="0.5" stroke-width="3.12" d="M1375.5 1742.5H1391.5V1742.5H1375.5Z"/>
<path fill="none" stroke="#ffd92f" stroke-opacity="0.5" stroke-width="3.12" d="M1391.5 1742.5H1406.5V1731.5H1391.5Z"/>
<path fill="none" stroke="#ffd92f" stroke-opacity="0.5" stroke-width="3.12" d="M1406.5 1742.5H1422.5V1738.5H1406.5Z"/>
<path fill="none" stroke="#ffd92f" stroke-opacity="0.5" stroke-width="3.12" d="M1422.5 1742.5H1438.5V1742.5H1422.5Z"/>
<path fill="none" stroke="#ffd92f" stroke-opacity="0.5" stroke-width="3.12" d="M1438.5 1742.5H1454.5V1728.5H1438.5Z"/>
<path fill="none" stroke="#ffd92f" stroke-opacity="0.5" stroke-width="3.12" d="M835.5 1742.5H851.5V1742.5H835.5Z"/>
<path fill="none" stroke="#ffd92f" stroke-opacity="0.5" stroke-width="3.12" d="M851.5 1742.5H867.5V1742.5H851.5Z"/>
<path fill="none" stroke="#ffd92f" stroke-opacity="0.5" stroke-width="3.12" d="M867.5 1742.5H883.5V1742.5H867.5Z"/>
<path fill="none" stroke="#ffd92f" stroke-opacity="0.5" stroke-width="3.12" d="M883.5 1742.5H899.5V1742.5H883.5Z"/>
<path fill="none" stroke="#ffd92f" stroke-opacity="0.5" stroke-width="3.12" d="M899.5 1742.5H915.5V1742.5H899.5Z"/>
<path fill="none" stroke="#ffd92f" stroke-opacity="0.5" stroke-width="3.12" d="M915.5 1742.5H931.5V1742.5H915.5Z"/>
<path fill="none" stroke="#ffd92f" stroke-opacity="0.5" stroke-width="3.12" d="M931.5 1742.5H946.5V1742.5H931.5Z"/>
<path fill="none" stroke="#ffd92f" stroke-opacity="0.5" stroke-width="3.12" d="M946.5 1742.5H962.5V1742.5H946.5Z"/>
<path fill="none" stroke="#ffd92f" stroke-opacity="0.5" stroke-width="3.12" d="M962.5 1742.5H978.5V1742.5H962.5Z"/>
<path fill="none" stroke="#ffd92f" stroke-opacity="0.5" stroke-width="3.12" d="M978.5 1742.5H994.5V1742.5H978.5Z"/>
<path fill="none" stroke="#ffd92f" stroke-opacity="0.5" stroke-width="3.12" d="M994.5 1742.5H1010.5V1742.5H994.5Z"/>
<path fill="none" stroke="#ffd92f" stroke-opacity="0.5" stroke-width="3.12" d="M1010.5 1742.5H1026.5V1742.5H1010.5Z"/>
<path fill="none" stroke="#ffd92f" stroke-opacity="0.5" stroke-width="3.12" d="M1026.5 1742.5H1042.5V1742.5H1026.5Z"/>
<path fill="none" stroke="#ffd92f" stroke-opacity="0.5" stroke-width="3.12" d="M1042.5 1742.5H1057.5V1742.5H1042.5Z"/>
<path fill="none" stroke="#ffd92f" stroke-opacity="0.5" stroke-width="3.12" d="M1057.5 1742.5H1073.5V1742.5H1057.5Z"/>
<path fill="none" stroke="#ffd92f" stroke-opacity="0.5" stroke-width="3.12" d="M1073.5 1742.5H1089.5V1742.5H1073.5Z"/>
<path fill="none" stroke="#ffd92f" stroke-opacity="0.5" stroke-width="3.12" d="M1089.5 1742.5H1105.5V1742.5H1089.5Z"/>
<path fill="none" stroke="#ffd92f" stroke-opacity="0.5" stroke-width="3.12" d="M1105.5 1742.5H1121.5V1742.5H1105.5Z"/>
<path fill="none" stroke="#ffd92f" stroke-opacity="0.5" stroke-width="3.12" d="M1121.5 1742.5H1137.5V1742.5H1121.5Z"/>
<path fill="none" stroke="#ffd92f" stroke-opacity="0.5" stroke-width="3.12" d="M1137.5 1742.5H1153.5V1742.5H1137.5Z"/>
<path fill="none" stroke="#ffd92f" stroke-opacity="0.5" stroke-width="3.12" d="M1153.5 1742.5H1168.5V1742.5H1153.5Z"/>
<path fill="none" stroke="#ffd92f" stroke-opacity="0.5" stroke-width="3.12" d="M1168.5 1742.5H1184.5V1742.5H1168.5Z"/>
<path fill="none" stroke="#ffd92f" stroke-opacity="0.5" stroke-width="3.12" d="M1184.5 1742.5H1200.5V1742.5H1184.5Z"/>
<path fill="none" stroke="#ffd92f" stroke-opacity="0.5" stroke-width="3.12" d="M1200.5 1742.5H1216.5V1742.5H1200.5Z"/>
<path fill="none" stroke="#ffd92f" stroke-opacity="0.5" stroke-width="3.12" d="M1216.5 1742.5H1232.5V1742.5H1216.5Z"/>
<path fill="none" stroke="#ffd92f" stroke-opacity="0.5" stroke-width="3.12" d="M1232.5 1742.5H1248.5V1742.5H1232.5Z"/>
<path fill="none" stroke="#ffd92f" stroke-opacity="0.5" stroke-width="3.12" d="M1248.5 1742.5H1264.5V1742.5H1248.5Z"/>
<path fill="none" stroke="#ffd92f" stroke-opacity="0.5" stroke-width="3.12" d="M1264.5 1742.5H1280.5V1742.5H1264.5Z"/>
<path fill="none" stroke="#ffd92f" stroke-opacity="0.5" stroke-width="3.12" d="M1280.5 1742.5H1295.5V1742.5H1280.5Z"/>
<path fill="none" stroke="#ffd92f" stroke-opacity="0.5" stroke-width="3.12" d="M1295.5 1742.5H1311.5V1742.5H1295.5Z"/>
<path fill="none" stroke="#ffd92f" stroke-opacity="0.5" stroke-width="3.12" d="M1311.5 1742.5H1327.5V1735.5H1311.5Z"/>
<path fill="none" stroke="#ffd92f" stroke-opacity="0.5" stroke-width="3.12" d="M1327.5 1742.5H1343.5V1742.5H1327.5Z"/>
<path fill="none" stroke="#ffd92f" stroke-opacity="0.5" stroke-width="3.12" d="M1343.5 1742.5H1359.5V1724.5H1343.5Z"/>
<path fill="none" stroke="#ffd92f" stroke-opacity="0.5" stroke-width="3.12" d="M1359.5 1742.5H1375.5V1731.5H1359.5Z"/>
<path fill="none" stroke="#ffd92f" stroke-opacity="0.5" stroke-width="3.12" d="M1375.5 1742.5H1391.5V1721.5H1375.5Z"/>
<path fill="none" stroke="#ffd92f" stroke-opacity="0.5" stroke-width="3.12" d="M1391.5 1742.5H1406.5V1724.5H1391.5Z"/>
<path fill="none" stroke="#ffd92f" stroke-opacity="0.5" stroke-width="3.12" d="M1406.5 1742.5H1422.5V1724.5H1406.5Z"/>
<path fill="none" stroke="#ffd92f" stroke-opacity="0.5" stroke-width="3.12" d="M1422.5 1742.5H1438.5V1693.5H1422.5Z"/>
<path fill="none" stroke="#ffd92f" stroke-opacity="0.5" stroke-width="3.12" d="M1438.5 1742.5H1454.5V1724.5H1438.5Z"/>
<path fill="none" stroke="#8da0cb" stroke-opacity="0.5" stroke-width="3.12" d="M835.5 1742.5H851.5V1742.5H835.5Z"/>
<path fill="none" stroke="#8da0cb" stroke-opacity="0.5" stroke-width="3.12" d="M851.5 1742.5H867.5V1742.5H851.5Z"/>
<path fill="none" stroke="#8da0cb" stroke-opacity="0.5" stroke-width="3.12" d="M867.5 1742.5H883.5V1742.5H867.5Z"/>
<path fill="none" stroke="#8da0cb" stroke-opacity="0.5" stroke-width="3.12" d="M883.5 1742.5H899.5V1742.5H883.5Z"/>
<path fill="none" stroke="#8da0cb" stroke-opacity="0.5" stroke-width="3.12" d="M899.5 1742.5H915.5V1742.5H899.5Z"/>
<path fill="none" stroke="#8da0cb" stroke-opacity="0.5" stroke-width="3.12" d="M915.5 1742.5H931.5V1742.5H915.5Z"/>
<path fill="none" stroke="#8da0cb" stroke-opacity="0.5" stroke-width="3.12" d="M931.5 1742.5H946.5V1742.5H931.5Z"/>
<path fill="none" stroke="#8da0cb" stroke-opacity="0.5" stroke-width="3.12" d="M946.5 1742.5H962.5V1742.5H946.5Z"/>
<path fill="none" stroke="#8da0cb" stroke-opacity="0.5" stroke-width="3.12" d="M962.5 1742.5H978.5V1742.5H962.5Z"/>
<path fill="none" stroke="#8da0cb" stroke-opacity="0.5" stroke-width="3.12" d="M978.5 1742.5H994.5V1742.5H978.5Z"/>
<path fill="none" stroke="#8da0cb" stroke-opacity="0.5" stroke-width="3.12" d="M994.5 1742.5H1010.5V1742.5H994.5Z"/>
<path fill="none" stroke="#8da0cb" stroke-opacity="0.5" stroke-width="3.12" d="M1010.5 1742.5H1026.5V1742.5H1010.5Z"/>
<path fill="none" stroke="#8da0cb" stroke-opacity="0.5" stroke-width="3.12" d="M1026.5 1742.5H1042.5V1742.5H1026.5Z"/>
<path fill="none" stroke="#8da0cb" stroke-opacity="0.5" stroke-width="3.12" d="M1042.5 1742.5H1057.5V1742.5H1042.5Z"/>
<path fill="none" stroke="#8da0cb" stroke-opacity="0.5" stroke-width="3.12" d="M1057.5 1742.5H1073.5V1742.5H1057.5Z"/>
<path fill="none" stroke="#8da0cb" stroke-opacity="0.5" stroke-width="3.12" d="M1073.5 1742.5H1089.5V1742.5H1073.5Z"/>
<path fill="none" stroke="#8da0cb" stroke-opacity="0.5" stroke-width="3.12" d="M1089.5 1742.5H1105.5V1742.5H1089.5Z"/>
<path fill="none" stroke="#8da0cb" stroke-opacity="0.5" stroke-width="3.12" d="M1105.5 1742.5H1121.5V1742.5H1105.5Z"/>
<path fill="none" stroke="#8da0cb" stroke-opacity="0.5" stroke-width="3.12" d="M1121.5 1742.5H1137.5V1742.5H1121.5Z"/>
<path fill="none" stroke="#8da0cb" stroke-opacity="0.5" stroke-width="3.12" d="M1137.5 1742.5H1153.5V1742.5H1137.5Z"/>
<path fill="none" stroke="#8da0cb" stroke-opacity="0.5" stroke-width="3.12" d="M1153.5 1742.5H1168.5V1742.5H1153.5Z"/>
<path fill="none" stroke="#8da0cb" stroke-opacity="0.5" stroke-width="3.12" d="M1168.5 1742.5H1184.5V1742.5H1168.5Z"/>
<path fill="none" stroke="#8da0cb" stroke-opacity="0.5" stroke-width="3.12" d="M1184.5 1742.5H1200.5V1742.5H1184.5Z"/>
<path fill="none" stroke="#8da0cb" stroke-opacity="0.5" stroke-width="3.12" d="M1200.5 1742.5H1216.5V1742.5H1200.5Z"/>
<path fill="none" stroke="#8da0cb" stroke-opacity="0.5" stroke-width="3.12" d="M1216.5 1742.5H1232.5V1742.5H1216.5Z"/>
<path fill="none" stroke="#8da0cb" stroke-opacity="0.5" stroke-width="3.12" d="M1232.5 1742.5H1248.5V1742.5H1232.5Z"/>
<path fill="none" stroke="#8da0cb" stroke-opacity="0.5" stroke-width="3.12" d="M1248.5 1742.5H1264.5V1742.5H1248.5Z"/>
<path fill="none" stroke="#8da0cb" stroke-opacity="0.5" stroke-width="3.12" d="M1264.5 1742.5H1280.5V1742.5H1264.5Z"/>
<path fill="none" stroke="#8da0cb" stroke-opacity="0.5" stroke-width="3.12" d="M1280.5 1742.5H1295.5V1742.5H1280.5Z"/>
<path fill="none" stroke="#8da0cb" stroke-opacity="0.5" stroke-width="3.12" d="M1295.5 1742.5H1311.5V1742.5H1295.5Z"/>
<path fill="none" stroke="#8da0cb" stroke-opacity="0.5" stroke-width="3.12" d="M1311.5 1742.5H1327.5V1742.5H1311.5Z"/>
<path fill="none" stroke="#8da0cb" stroke-opacity="0.5" stroke-width="3.12" d="M1327.5 1742.5H1343.5V1735.5H1327.5Z"/>
<path fill="none" stroke="#8da0cb" stroke-opacity="0.5" stroke-width="3.12" d="M1343.5 1742.5H1359.5V1742.5H1343.5Z"/>
<path fill="none" stroke="#8da0cb" stroke-opacity="0.5" stroke-width="3.12" d="M1359.5 1742.5H1375.5V1735.5H1359.5Z"/>
<path fill="none" stroke="#8da0cb" stroke-opacity="0.5" stroke-width="3.12" d="M1375.5 1742.5H1391.5V1728.5H1375.5Z"/>
<path fill="none" stroke="#8da0cb" stroke-opacity="0.5" stroke-width="3.12" d="M1391.5 1742.5H1406.5V1738.5H1391.5Z"/>
<path fill="none" stroke="#8da0cb" stroke-opacity="0.5" stroke-width="3.12" d="M1406.5 1742.5H1422.5V1717.5H1406.5Z"/>
<path fill="none" stroke="#8da0cb" stroke-opacity="0.5" stroke-width="3.12" d="M1422.5 1742.5H1438.5V1735.5H1422.5Z"/>
<path fill="none" stroke="#8da0cb" stroke-opacity="0.5" stroke-width="3.12" d="M1438.5 1742.5H1454.5V1714.5H1438.5Z"/>
<path fill="none" stroke="#66c2a5" stroke-opacity="0.5" stroke-width="3.12" d="M835.5 1742.5H851.5V1742.5H835.5Z"/>
<path fill="none" stroke="#66c2a5" stroke-opacity="0.5" stroke-width="3.12" d="M851.5 1742.5H867.5V1742.5H851.5Z"/>
<path fill="none" stroke="#66c2a5" stroke-opacity="0.5" stroke-width="3.12" d="M867.5 1742.5H883.5V1742.5H867.5Z"/>
<path fill="none" stroke="#66c2a5" stroke-opacity="0.5" stroke-width="3.12" d="M883.5 1742.5H899.5V1742.5H883.5Z"/>
<path fill="none" stroke="#66c2a5" stroke-opacity="0.5" stroke-width="3.12" d="M899.5 1742.5H915.5V1742.5H899.5Z"/>
<path fill="none" stroke="#66c2a5" stroke-opacity="0.5" stroke-width="3.12" d="M915.5 1742.5H931.5V1742.5H915.5Z"/>
<path fill="none" stroke="#66c2a5" stroke-opacity="0.5" stroke-width="3.12" d="M931.5 1742.5H946.5V1742.5H931.5Z"/>
<path fill="none" stroke="#66c2a5" stroke-opacity="0.5" stroke-width="3.12" d="M946.5 1742.5H962.5V1742.5H946.5Z"/>
<path fill="none" stroke="#66c2a5" stroke-opacity="0.5" stroke-width="3.12" d="M962.5 1742.5H978.5V1742.5H962.5Z"/>
<path fill="none" stroke="#66c2a5" stroke-opacity="0.5" stroke-width="3.12" d="M978.5 1742.5H994.5V1742.5H978.5Z"/>
<path fill="none" stroke="#66c2a5" stroke-opacity="0.5" stroke-width="3.12" d="M994.5 1742.5H1010.5V1742.5H994.5Z"/>
<path fill="none" stroke="#66c2a5" stroke-opacity="0.5" stroke-width="3.12" d="M1010.5 1742.5H1026.5V1742.5H1010.5Z"/>
<path fill="none" stroke="#66c2a5" stroke-opacity="0.5" stroke-width="3.12" d="M1026.5 1742.5H1042.5V1742.5H1026.5Z"/>
<path fill="none" stroke="#66c2a5" stroke-opacity="0.5" stroke-width="3.12" d="M1042.5 1742.5H1057.5V1742.5H1042.5Z"/>
<path fill="none" stroke="#66c2a5" stroke-opacity="0.5" stroke-width="3.12" d="M1057.5 1742.5H1073.5V1742.5H1057.5Z"/>
<path fill="none" stroke="#66c2a5" stroke-opacity="0.5" stroke-width="3.12" d="M1073.5 1742.5H1089.5V1742.5H1073.5Z"/>
<path fill="none" stroke="#66c2a5" stroke-opacity="0.5" stroke-width="3.12" d="M1089.5 1742.5H1105.5V1742.5H1089.5Z"/>
<path fill="none" stroke="#66c2a5" stroke-opacity="0.5" stroke-width="3.12" d="M1105.5 1742.5H1121.5V1742.5H1105.5Z"/>
<path fill="none" stroke="#66c2a5" stroke-opacity="0.5" stroke-width="3.12" d="M1121.5 1742.5H1137.5V1742.5H1121.5Z"/>
<path fill="none" stroke="#66c2a5" stroke-opacity="0.5" stroke-width="3.12" d="M1137.5 1742.5H1153.5V1742.5H1137.5Z"/>
<path fill="none" stroke="#66c2a5" stroke-opacity="0.5" stroke-width="3.12" d="M1153.5 1742.5H1168.5V1742.5H1153.5Z"/>
<path fill="none" stroke="#66c2a5" stroke-opacity="0.5" stroke-width="3.12" d="M1168.5 1742.5H1184.5V1742.5H1168.5Z"/>
<path fill="none" stroke="#66c2a5" stroke-opacity="0.5" stroke-width="3.12" d="M1184.5 1742.5H1200.5V1738.5H1184.5Z"/>
<path fill="none" stroke="#66c2a5" stroke-opacity="0.5" stroke-width="3.12" d="M1200.5 1742.5H1216.5V1742.5H1200.5Z"/>
<path fill="none" stroke="#66c2a5" stroke-opacity="0.5" stroke-width="3.12" d="M1216.5 1742.5H1232.5V1742.5H1216.5Z"/>
<path fill="none" stroke="#66c2a5" stroke-opacity="0.5" stroke-width="3.12" d="M1232.5 1742.5H1248.5V1735.5H1232.5Z"/>
<path fill="none" stroke="#66c2a5" stroke-opacity="0.5" stroke-width="3.12" d="M1248.5 1742.5H1264.5V1731.5H1248.5Z"/>
<path fill="none" stroke="#66c2a5" stroke-opacity="0.5" stroke-width="3.12" d="M1264.5 1742.5H1280.5V1742.5H1264.5Z"/>
<path fill="none" stroke="#66c2a5" stroke-opacity="0.5" stroke-width="3.12" d="M1280.5 1742.5H1295.5V1735.5H1280.5Z"/>
<path fill="none" stroke="#66c2a5" stroke-opacity="0.5" stroke-width="3.12" d="M1295.5 1742.5H1311.5V1738.5H1295.5Z"/>
<path fill="none" stroke="#66c2a5" stroke-opacity="0.5" stroke-width="3.12" d="M1311.5 1742.5H1327.5V1735.5H1311.5Z"/>
<path fill="none" stroke="#66c2a5" stroke-opacity="0.5" stroke-width="3.12" d="M1327.5 1742.5H1343.5V1742.5H1327.5Z"/>
<path fill="none" stroke="#66c2a5" stroke-opacity="0.5" stroke-width="3.12" d="M1343.5 1742.5H1359.5V1724.5H1343.5Z"/>
<path fill="none" stroke="#66c2a5" stroke-opacity="0.5" stroke-width="3.12" d="M1359.5 1742.5H1375.5V1731.5H1359.5Z"/>
<path fill="none" stroke="#66c2a5" stroke-opacity="0.5" stroke-width="3.12" d="M1375.5 1742.5H1391.5V1731.5H1375.5Z"/>
<path fill="none" stroke="#66c2a5" stroke-opacity="0.5" stroke-width="3.12" d="M1391.5 1742.5H1406.5V1735.5H1391.5Z"/>
<path fill="none" stroke="#66c2a5" stroke-opacity="0.5" stroke-width="3.12" d="M1406.5 1742.5H1422.5V1724.5H1406.5Z"/>
<path fill="none" stroke="#66c2a5" stroke-opacity="0.5" stroke-width="3.12" d="M1422.5 1742.5H1438.5V1721.5H1422.5Z"/>
<path fill="none" stroke="#66c2a5" stroke-opacity="0.5" stroke-width="3.12" d="M1438.5 1742.5H1454.5V1728.5H1438.5Z"/>
<path fill="none" stroke="#fc8d62" stroke-opacity="0.5" stroke-width="3.12" d="M835.5 1742.5H851.5V1742.5H835.5Z"/>
<path fill="none" stroke="#fc8d62" stroke-opacity="0.5" stroke-width="3.12" d="M851.5 1742.5H867.5V1742.5H851.5Z"/>
<path fill="none" stroke="#fc8d62" stroke-opacity="0.5" stroke-width="3.12" d="M867.5 1742.5H883.5V1742.5H867.5Z"/>
<path fill="none" stroke="#fc8d62" stroke-opacity="0.5" stroke-width="3.12" d="M883.5 1742.5H899.5V1742.5H883.5Z"/>
<path fill="none" stroke="#fc8d62" stroke-opacity="0.5" stroke-width="3.12" d="M899.5 1742.5H915.5V1742.5H899.5Z"/>
<path fill="none" stroke="#fc8d62" stroke-opacity="0.5" stroke-width="3.12" d="M915.5 1742.5H931.5V1742.5H915.5Z"/>
<path fill="none" stroke="#fc8d62" stroke-opacity="0.5" stroke-width="3.12" d="M931.5 1742.5H946.5V1742.5H931.5Z"/>
<path fill="none" stroke="#fc8d62" stroke-opacity="0.5" stroke-width="3.12" d="M946.5 1742.5H962.5V1742.5H946.5Z"/>
<path fill="none" stroke="#fc8d62" stroke-opacity="0.5" stroke-width="3.12" d="M962.5 1742.5H978.5V1742.5H962.5Z"/>
<path fill="none" stroke="#fc8d62" stroke-opacity="0.5" stroke-width="3.12" d="M978.5 1742.5H994.5V1742.5H978.5Z"/>
<path fill="none" stroke="#fc8d62" stroke-opacity="0.5" stroke-width="3.12" d="M994.5 1742.5H1010.5V1742.5H994.5Z"/>
<path fill="none" stroke="#fc8d62" stroke-opacity="0.5" stroke-width="3.12" d="M1010.5 1742.5H1026.5V1742.5H1010.5Z"/>
<path fill="none" stroke="#fc8d62" stroke-opacity="0.5" stroke-width="3.12" d="M1026.5 1742.5H1042.5V1742.5H1026.5Z"/>
<path fill="none" stroke="#fc8d62" stroke-opacity="0.5" stroke-width="3.12" d="M1042.5 1742.5H1057.5V1742.5H1042.5Z"/>
<path fill="none" stroke="#fc8d62" stroke-opacity="0.5" stroke-width="3.12" d="M1057.5 1742.5H1073.5V1742.5H1057.5Z"/>
<path fill="none" stroke="#fc8d62" stroke-opacity="0.5" stroke-width="3.12" d="M1073.5 1742.5H1089.5V1742.5H1073.5Z"/>
<path fill="none" stroke="#fc8d62" stroke-opacity="0.5" stroke-width="3.12" d="M1089.5 1742.5H1105.5V1742.5H1089.5Z"/>
<path fill="none" stroke="#fc8d62" stroke-opacity="0.5" stroke-width="3.12" d="M1105.5 1742.5H1121.5V1742.5H1105.5Z"/>
<path fill="none" stroke="#fc8d62" stroke-opacity="0.5" stroke-width="3.12" d="M1121.5 1742.5H1137.5V1742.5H1121.5Z"/>
<path fill="none" stroke="#fc8d62" stroke-opacity="0.5" stroke-width="3.12" d="M1137.5 1742.5H1153.5V1742.5H1137.5Z"/>
<path fill="none" stroke="#fc8d62" stroke-opacity="0.5" stroke-width="3.12" d="M1153.5 1742.5H1168.5V1742.5H1153.5Z"/>
<path fill="none" stroke="#fc8d62" stroke-opacity="0.5" stroke-width="3.12" d="M1168.5 1742.5H1184.5V1742.5H1168.5Z"/>
<path fill="none" stroke="#fc8d62" stroke-opacity="0.5" stroke-width="3.12" d="M1184.5 1742.5H1200.5V1738.5H1184.5Z"/>
<path fill="none" stroke="#fc8d62" stroke-opacity="0.5" stroke-width="3.12" d="M1200.5 1742.5H1216.5V1742.5H1200.5Z"/>
<path fill="none" stroke="#fc8d62" stroke-opacity="0.5" stroke-width="3.12" d="M1216.5 1742.5H1232.5V1742.5H1216.5Z"/>
<path fill="none" stroke="#fc8d62" stroke-opacity="0.5" stroke-width="3.12" d="M1232.5 1742.5H1248.5V1742.5H1232.5Z"/>
<path fill="none" stroke="#fc8d62" stroke-opacity="0.5" stroke-width="3.12" d="M1248.5 1742.5H1264.5V1742.5H1248.5Z"/>
<path fill="none" stroke="#fc8d62" stroke-opacity="0.5" stroke-width="3.12" d="M1264.5 1742.5H1280.5V1738.5H1264.5Z"/>
<path fill="none" stroke="#fc8d62" stroke-opacity="0.5" stroke-width="3.12" d="M1280.5 1742.5H1295.5V1742.5H1280.5Z"/>
<path fill="none" stroke="#fc8d62" stroke-opacity="0.5" stroke-width="3.12" d="M1295.5 1742.5H1311.5V1731.5H1295.5Z"/>
<path fill="none" stroke="#fc8d62" stroke-opacity="0.5" stroke-width="3.12" d="M1311.5 1742.5H1327.5V1742.5H1311.5Z"/>
<path fill="none" stroke="#fc8d62" stroke-opacity="0.5" stroke-width="3.12" d="M1327.5 1742.5H1343.5V1731.5H1327.5Z"/>
<path fill="none" stroke="#fc8d62" stroke-opacity="0.5" stroke-width="3.12" d="M1343.5 1742.5H1359.5V1742.5H1343.5Z"/>
<path fill="none" stroke="#fc8d62" stroke-opacity="0.5" stroke-width="3.12" d="M1359.5 1742.5H1375.5V1742.5H1359.5Z"/>
<path fill="none" stroke="#fc8d62" stroke-opacity="0.5" stroke-width="3.12" d="M1375.5 1742.5H1391.5V1721.5H1375.5Z"/>
<path fill="none" stroke="#fc8d62" stroke-opacity="0.5" stroke-width="3.12" d="M1391.5 1742.5H1406.5V1724.5H1391.5Z"/>
<path fill="none" stroke="#fc8d62" stroke-opacity="0.5" stroke-width="3.12" d="M1406.5 1742.5H1422.5V1728.5H1406.5Z"/>
<path fill="none" stroke="#fc8d62" stroke-opacity="0.5" stroke-width="3.12" d="M1422.5 1742.5H1438.5V1738.5H1422.5Z"/>
<path fill="none" stroke="#fc8d62" stroke-opacity="0.5" stroke-width="3.12" d="M1438.5 1742.5H1454.5V1724.5H1438.5Z"/>
<path fill="none" stroke="#fc8d62" stroke-opacity="0.5" stroke-width="3.12" d="M835.5 1742.5H851.5V1742.5H835.5Z"/>
<path fill="none" stroke="#fc8d62" stroke-opacity="0.5" stroke-width="3.12" d="M851.5 1742.5H867.5V1742.5H851.5Z"/>
<path fill="none" stroke="#fc8d62" stroke-opacity="0.5" stroke-width="3.12" d="M867.5 1742.5H883.5V1738.5H867.5Z"/>
<path fill="none" stroke="#fc8d62" stroke-opacity="0.5" stroke-width="3.12" d="M883.5 1742.5H899.5V1742.5H883.5Z"/>
<path fill="none" stroke="#fc8d62" stroke-opacity="0.5" stroke-width="3.12" d="M899.5 1742.5H915.5V1742.5H899.5Z"/>
<path fill="none" stroke="#fc8d62" stroke-opacity="0.5" stroke-width="3.12" d="M915.5 1742.5H931.5V1738.5H915.5Z"/>
<path fill="none" stroke="#fc8d62" stroke-opacity="0.5" stroke-width="3.12" d="M931.5 1742.5H946.5V1742.5H931.5Z"/>
<path fill="none" stroke="#fc8d62" stroke-opacity="0.5" stroke-width="3.12" d="M946.5 1742.5H962.5V1742.5H946.5Z"/>
<path fill="none" stroke="#fc8d62" stroke-opacity="0.5" stroke-width="3.12" d="M962.5 1742.5H978.5V1742.5H962.5Z"/>
<path fill="none" stroke="#fc8d62" stroke-opacity="0.5" stroke-width="3.12" d="M978.5 1742.5H994.5V1738.5H978.5Z"/>
<path fill="none" stroke="#fc8d62" stroke-opacity="0.5" stroke-width="3.12" d="M994.5 1742.5H1010.5V1738.5H994.5Z"/>
<path fill="none" stroke="#fc8d62" stroke-opacity="0.5" stroke-width="3.12" d="M1010.5 1742.5H1026.5V1738.5H1010.5Z"/>
<path fill="none" stroke="#fc8d62" stroke-opacity="0.5" stroke-width="3.12" d="M1026.5 1742.5H1042.5V1742.5H1026.5Z"/>
<path fill="none" stroke="#fc8d62" stroke-opacity="0.5" stroke-width="3.12" d="M1042.5 1742.5H1057.5V1742.5H1042.5Z"/>
<path fill="none" stroke="#fc8d62" stroke-opacity="0.5" stroke-width="3.12" d="M1057.5 1742.5H1073.5V1742.5H1057.5Z"/>
<path fill="none" stroke="#fc8d62" stroke-opacity="0.5" stroke-width="3.12" d="M1073.5 1742.5H1089.5V1738.5H1073.5Z"/>
<path fill="none" stroke="#fc8d62" stroke-opacity="0.5" stroke-width="3.12" d="M1089.5 1742.5H1105.5V1738.5H1089.5Z"/>
<path fill="none" stroke="#fc8d62" stroke-opacity="0.5" stroke-width="3.12" d="M1105.5 1742.5H1121.5V1738.5H1105.5Z"/>
<path fill="none" stroke="#fc8d62" stroke-opacity="0.5" stroke-width="3.12" d="M1121.5 1742.5H1137.5V1728.5H1121.5Z"/>
<path fill="none" stroke="#fc8d62" stroke-opacity="0.5" stroke-width="3.12" d="M1137.5 1742.5H1153.5V1721.5H1137.5Z"/>
<path fill="none" stroke="#fc8d62" stroke-opacity="0.5" stroke-width="3.12" d="M1153.5 1742.5H1168.5V1724.5H1153.5Z"/>
<path fill="none" stroke="#fc8d62" stroke-opacity="0.5" stroke-width="3.12" d="M1168.5 1742.5H1184.5V1714.5H1168.5Z"/>
<path fill="none" stroke="#fc8d62" stroke-opacity="0.5" stroke-width="3.12" d="M1184.5 1742.5H1200.5V1724.5H1184.5Z"/>
<path fill="none" stroke="#fc8d62" stroke-opacity="0.5" stroke-width="3.12" d="M1200.5 1742.5H1216.5V1696.5H1200.5Z"/>
<path fill="none" stroke="#fc8d62" stroke-opacity="0.5" stroke-width="3.12" d="M1216.5 1742.5H1232.5V1689.5H1216.5Z"/>
<path fill="none" stroke="#fc8d62" stroke-opacity="0.5" stroke-width="3.12" d="M1232.5 1742.5H1248.5V1703.5H1232.5Z"/>
<path fill="none" stroke="#fc8d62" stroke-opacity="0.5" stroke-width="3.12" d="M1248.5 1742.5H1264.5V1676.5H1248.5Z"/>
<path fill="none" stroke="#fc8d62" stroke-opacity="0.5" stroke-width="3.12" d="M1264.5 1742.5H1280.5V1700.5H1264.5Z"/>
<path fill="none" stroke="#fc8d62" stroke-opacity="0.5" stroke-width="3.12" d="M1280.5 1742.5H1295.5V1679.5H1280.5Z"/>
<path fill="none" stroke="#fc8d62" stroke-opacity="0.5" stroke-width="3.12" d="M1295.5 1742.5H1311.5V1683.5H1295.5Z"/>
<path fill="none" stroke="#fc8d62" stroke-opacity="0.5" stroke-width="3.12" d="M1311.5 1742.5H1327.5V1683.5H1311.5Z"/>
<path fill="none" stroke="#fc8d62" stroke-opacity="0.5" stroke-width="3.12" d="M1327.5 1742.5H1343.5V1693.5H1327.5Z"/>
<path fill="none" stroke="#fc8d62" stroke-opacity="0.5" stroke-width="3.12" d="M1343.5 1742.5H1359.5V1693.5H1343.5Z"/>
<path fill="none" stroke="#fc8d62" stroke-opacity="0.5" stroke-width="3.12" d="M1359.5 1742.5H1375.5V1696.5H1359.5Z"/>
<path fill="none" stroke="#fc8d62" stroke-opacity="0.5" stroke-width="3.12" d="M1375.5 1742.5H1391.5V1703.5H1375.5Z"/>
<path fill="none" stroke="#fc8d62" stroke-opacity="0.5" stroke-width="3.12" d="M1391.5 1742.5H1406.5V1717.5H1391.5Z"/>
<path fill="none" stroke="#fc8d62" stroke-opacity="0.5" stroke-width="3.12" d="M1406.5 1742.5H1422.5V1738.5H1406.5Z"/>
<path fill="none" stroke="#fc8d62" stroke-opacity="0.5" stroke-width="3.12" d="M1422.5 1742.5H1438.5V1731.5H1422.5Z"/>
<path fill="none" stroke="#fc8d62" stroke-opacity="0.5" stroke-width="3.12" d="M1438.5 1742.5H1454.5V1724.5H1438.5Z"/>
<path fill="none" stroke="#e5c494" stroke-opacity="0.5" stroke-width="3.12" d="M835.5 1742.5H851.5V1742.5H835.5Z"/>
<path fill="none" stroke="#e5c494" stroke-opacity="0.5" stroke-width="3.12" d="M851.5 1742.5H867.5V1742.5H851.5Z"/>
<path fill="none" stroke="#e5c494" stroke-opacity="0.5" stroke-width="3.12" d="M867.5 1742.5H883.5V1742.5H867.5Z"/>
<path fill="none" stroke="#e5c494" stroke-opacity="0.5" stroke-width="3.12" d="M883.5 1742.5H899.5V1742.5H883.5Z"/>
<path fill="none" stroke="#e5c494" stroke-opacity="0.5" stroke-width="3.12" d="M899.5 1742.5H915.5V1742.5H899.5Z"/>
<path fill="none" stroke="#e5c494" stroke-opacity="0.5" stroke-width="3.12" d="M915.5 1742.5H931.5V1742.5H915.5Z"/>
<path fill="none" stroke="#e5c494" stroke-opacity="0.5" stroke-width="3.12" d="M931.5 1742.5H946.5V1742.5H931.5Z"/>
<path fill="none" stroke="#e5c494" stroke-opacity="0.5" stroke-width="3.12" d="M946.5 1742.5H962.5V1742.5H946.5Z"/>
<path fill="none" stroke="#e5c494" stroke-opacity="0.5" stroke-width="3.12" d="M962.5 1742.5H978.5V1742.5H962.5Z"/>
<path fill="none" stroke="#e5c494" stroke-opacity="0.5" stroke-width="3.12" d="M978.5 1742.5H994.5V1742.5H978.5Z"/>
<path fill="none" stroke="#e5c494" stroke-opacity="0.5" stroke-width="3.12" d="M994.5 1742.5H1010.5V1742.5H994.5Z"/>
<path fill="none" stroke="#e5c494" stroke-opacity="0.5" stroke-width="3.12" d="M1010.5 1742.5H1026.5V1742.5H1010.5Z"/>
<path fill="none" stroke="#e5c494" stroke-opacity="0.5" stroke-width="3.12" d="M1026.5 1742.5H1042.5V1742.5H1026.5Z"/>
<path fill="none" stroke="#e5c494" stroke-opacity="0.5" stroke-width="3.12" d="M1042.5 1742.5H1057.5V1742.5H1042.5Z"/>
<path fill="none" stroke="#e5c494" stroke-opacity="0.5" stroke-width="3.12" d="M1057.5 1742.5H1073.5V1742.5H1057.5Z"/>
<path fill="none" stroke="#e5c494" stroke-opacity="0.5" stroke-width="3.12" d="M1073.5 1742.5H1089.5V1742.5H1073.5Z"/>
<path fill="none" stroke="#e5c494" stroke-opacity="0.5" stroke-width="3.12" d="M1089.5 1742.5H1105.5V1742.5H1089.5Z"/>
<path fill="none" stroke="#e5c494" stroke-opacity="0.5" stroke-width="3.12" d="M1105.5 1742.5H1121.5V1742.5H1105.5Z"/>
<path fill="none" stroke="#e5c494" stroke-opacity="0.5" stroke-width="3.12" d="M1121.5 1742.5H1137.5V1742.5H1121.5Z"/>
<path fill="none" stroke="#e5c494" stroke-opacity="0.5" stroke-width="3.12" d="M1137.5 1742.5H1153.5V1742.5H1137.5Z"/>
<path fill="none" stroke="#e5c494" stroke-opacity="0.5" stroke-width="3.12" d="M1153.5 1742.5H1168.5V1742.5H1153.5Z"/>
<path fill="none" stroke="#e5c494" stroke-opacity="0.5" stroke-width="3.12" d="M1168.5 1742.5H1184.5V1742.5H1168.5Z"/>
<path fill="none" stroke="#e5c494" stroke-opacity="0.5" stroke-width="3.12" d="M1184.5 1742.5H1200.5V1742.5H1184.5Z"/>
<path fill="none" stroke="#e5c494" stroke-opacity="0.5" stroke-width="3.12" d="M1200.5 1742.5H1216.5V1742.5H1200.5Z"/>
<path fill="none" stroke="#e5c494" stroke-opacity="0.5" stroke-width="3.12" d="M1216.5 1742.5H1232.5V1742.5H1216.5Z"/>
<path fill="none" stroke="#e5c494" stroke-opacity="0.5" stroke-width="3.12" d="M1232.5 1742.5H1248.5V1742.5H1232.5Z"/>
<path fill="none" stroke="#e5c494" stroke-opacity="0.5" stroke-width="3.12" d="M1248.5 1742.5H1264.5V1738.5H1248.5Z"/>
<path fill="none" stroke="#e5c494" stroke-opacity="0.5" stroke-width="3.12" d="M1264.5 1742.5H1280.5V1742.5H1264.5Z"/>
<path fill="none" stroke="#e5c494" stroke-opacity="0.5" stroke-width="3.12" d="M1280.5 1742.5H1295.5V1742.5H1280.5Z"/>
<path fill="none" stroke="#e5c494" stroke-opacity="0.5" stroke-width="3.12" d="M1295.5 1742.5H1311.5V1742.5H1295.5Z"/>
<path fill="none" stroke="#e5c494" stroke-opacity="0.5" stroke-width="3.12" d="M1311.5 1742.5H1327.5V1742.5H1311.5Z"/>
<path fill="none" stroke="#e5c494" stroke-opacity="0.5" stroke-width="3.12" d="M1327.5 1742.5H1343.5V1742.5H1327.5Z"/>
<path fill="none" stroke="#e5c494" stroke-opacity="0.5" stroke-width="3.12" d="M1343.5 1742.5H1359.5V1731.5H1343.5Z"/>
<path fill="none" stroke="#e5c494" stroke-opacity="0.5" stroke-width="3.12" d="M1359.5 1742.5H1375.5V1742.5H1359.5Z"/>
<path fill="none" stroke="#e5c494" stroke-opacity="0.5" stroke-width="3.12" d="M1375.5 1742.5H1391.5V1738.5H1375.5Z"/>
<path fill="none" stroke="#e5c494" stroke-opacity="0.5" stroke-width="3.12" d="M1391.5 1742.5H1406.5V1742.5H1391.5Z"/>
<path fill="none" stroke="#e5c494" stroke-opacity="0.5" stroke-width="3.12" d="M1406.5 1742.5H1422.5V1731.5H1406.5Z"/>
<path fill="none" stroke="#e5c494" stroke-opacity="0.5" stroke-width="3.12" d="M1422.5 1742.5H1438.5V1735.5H1422.5Z"/>
<path fill="none" stroke="#e5c494" stroke-opacity="0.5" stroke-width="3.12" d="M1438.5 1742.5H1454.5V1731.5H1438.5Z"/>
<path fill="none" stroke="#e78ac3" stroke-opacity="0.5" stroke-width="3.12" d="M835.5 1742.5H851.5V1742.5H835.5Z"/>
<path fill="none" stroke="#e78ac3" stroke-opacity="0.5" stroke-width="3.12" d="M851.5 1742.5H867.5V1742.5H851.5Z"/>
<path fill="none" stroke="#e78ac3" stroke-opacity="0.5" stroke-width="3.12" d="M867.5 1742.5H883.5V1742.5H867.5Z"/>
<path fill="none" stroke="#e78ac3" stroke-opacity="0.5" stroke-width="3.12" d="M883.5 1742.5H899.5V1742.5H883.5Z"/>
<path fill="none" stroke="#e78ac3" stroke-opacity="0.5" stroke-width="3.12" d="M899.5 1742.5H915.5V1742.5H899.5Z"/>
<path fill="none" stroke="#e78ac3" stroke-opacity="0.5" stroke-width="3.12" d="M915.5 1742.5H931.5V1742.5H915.5Z"/>
<path fill="none" stroke="#e78ac3" stroke-opacity="0.5" stroke-width="3.12" d="M931.5 1742.5H946.5V1742.5H931.5Z"/>
<path fill="none" stroke="#e78ac3" stroke-opacity="0.5" stroke-width="3.12" d="M946.5 1742.5H962.5V1742.5H946.5Z"/>
<path fill="none" stroke="#e78ac3" stroke-opacity="0.5" stroke-width="3.12" d="M962.5 1742.5H978.5V1742.5H962.5Z"/>
<path fill="none" stroke="#e78ac3" stroke-opacity="0.5" stroke-width="3.12" d="M978.5 1742.5H994.5V1742.5H978.5Z"/>
<path fill="none" stroke="#e78ac3" stroke-opacity="0.5" stroke-width="3.12" d="M994.5 1742.5H1010.5V1742.5H994.5Z"/>
<path fill="none" stroke="#e78ac3" stroke-opacity="0.5" stroke-width="3.12" d="M1010.5 1742.5H1026.5V1742.5H1010.5Z"/>
<path fill="none" stroke="#e78ac3" stroke-opacity="0.5" stroke-width="3.12" d="M1026.5 1742.5H1042.5V1742.5H1026.5Z"/>
<path fill="none" stroke="#e78ac3" stroke-opacity="0.5" stroke-width="3.12" d="M1042.5 1742.5H1057.5V1738.5H1042.5Z"/>
<path fill="none" stroke="#e78ac3" stroke-opacity="0.5" stroke-width="3.12" d="M1057.5 1742.5H1073.5V1742.5H1057.5Z"/>
<path fill="none" stroke="#e78ac3" stroke-opacity="0.5" stroke-width="3.12" d="M1073.5 1742.5H1089.5V1742.5H1073.5Z"/>
<path fill="none" stroke="#e78ac3" stroke-opacity="0.5" stroke-width="3.12" d="M1089.5 1742.5H1105.5V1742.5H1089.5Z"/>
<path fill="none" stroke="#e78ac3" stroke-opacity="0.5" stroke-width="3.12" d="M1105.5 1742.5H1121.5V1731.5H1105.5Z"/>
<path fill="none" stroke="#e78ac3" stroke-opacity="0.5" stroke-width="3.12" d="M1121.5 1742.5H1137.5V1742.5H1121.5Z"/>
<path fill="none" stroke="#e78ac3" stroke-opacity="0.5" stroke-width="3.12" d="M1137.5 1742.5H1153.5V1735.5H1137.5Z"/>
<path fill="none" stroke="#e78ac3" stroke-opacity="0.5" stroke-width="3.12" d="M1153.5 1742.5H1168.5V1738.5H1153.5Z"/>
<path fill="none" stroke="#e78ac3" stroke-opacity="0.5" stroke-width="3.12" d="M1168.5 1742.5H1184.5V1735.5H1168.5Z"/>
<path fill="none" stroke="#e78ac3" stroke-opacity="0.5" stroke-width="3.12" d="M1184.5 1742.5H1200.5V1738.5H1184.5Z"/>
<path fill="none" stroke="#e78ac3" stroke-opacity="0.5" stroke-width="3.12" d="M1200.5 1742.5H1216.5V1735.5H1200.5Z"/>
<path fill="none" stroke="#e78ac3" stroke-opacity="0.5" stroke-width="3.12" d="M1216.5 1742.5H1232.5V1742.5H1216.5Z"/>
<path fill="none" stroke="#e78ac3" stroke-opacity="0.5" stroke-width="3.12" d="M1232.5 1742.5H1248.5V1735.5H1232.5Z"/>
<path fill="none" stroke="#e78ac3" stroke-opacity="0.5" stroke-width="3.12" d="M1248.5 1742.5H1264.5V1742.5H1248.5Z"/>
<path fill="none" stroke="#e78ac3" stroke-opacity="0.5" stroke-width="3.12" d="M1264.5 1742.5H1280.5V1742.5H1264.5Z"/>
<path fill="none" stroke="#e78ac3" stroke-opacity="0.5" stroke-width="3.12" d="M1280.5 1742.5H1295.5V1742.5H1280.5Z"/>
<path fill="none" stroke="#e78ac3" stroke-opacity="0.5" stroke-width="3.12" d="M1295.5 1742.5H1311.5V1742.5H1295.5Z"/>
<path fill="none" stroke="#e78ac3" stroke-opacity="0.5" stroke-width="3.12" d="M1311.5 1742.5H1327.5V1742.5H1311.5Z"/>
<path fill="none" stroke="#e78ac3" stroke-opacity="0.5" stroke-width="3.12" d="M1327.5 1742.5H1343.5V1742.5H1327.5Z"/>
<path fill="none" stroke="#e78ac3" stroke-opacity="0.5" stroke-width="3.12" d="M1343.5 1742.5H1359.5V1742.5H1343.5Z"/>
<path fill="none" stroke="#e78ac3" stroke-opacity="0.5" stroke-width="3.12" d="M1359.5 1742.5H1375.5V1742.5H1359.5Z"/>
<path fill="none" stroke="#e78ac3" stroke-opacity="0.5" stroke-width="3.12" d="M1375.5 1742.5H1391.5V1742.5H1375.5Z"/>
<path fill="none" stroke="#e78ac3" stroke-opacity="0.5" stroke-width="3.12" d="M1391.5 1742.5H1406.5V1742.5H1391.5Z"/>
<path fill="none" stroke="#e78ac3" stroke-opacity="0.5" stroke-width="3.12" d="M1406.5 1742.5H1422.5V1742.5H1406.5Z"/>
<path fill="none" stroke="#e78ac3" stroke-opacity="0.5" stroke-width="3.12" d="M1422.5 1742.5H1438.5V1742.5H1422.5Z"/>
<path fill="none" stroke="#e78ac3" stroke-opacity="0.5" stroke-width="3.12" d="M1438.5 1742.5H1454.5V1742.5H1438.5Z"/>
<path fill="none" stroke="#a6d854" stroke-opacity="0.5" stroke-width="3.12" d="M835.5 1742.5H851.5V1742.5H835.5Z"/>
<path fill="none" stroke="#a6d854" stroke-opacity="0.5" stroke-width="3.12" d="M851.5 1742.5H867.5V1742.5H851.5Z"/>
<path fill="none" stroke="#a6d854" stroke-opacity="0.5" stroke-width="3.12" d="M867.5 1742.5H883.5V1742.5H867.5Z"/>
<path fill="none" stroke="#a6d854" stroke-opacity="0.5" stroke-width="3.12" d="M883.5 1742.5H899.5V1742.5H883.5Z"/>
<path fill="none" stroke="#a6d854" stroke-opacity="0.5" stroke-width="3.12" d="M899.5 1742.5H915.5V1742.5H899.5Z"/>
<path fill="none" stroke="#a6d854" stroke-opacity="0.5" stroke-width="3.12" d="M915.5 1742.5H931.5V1742.5H915.5Z"/>
<path fill="none" stroke="#a6d854" stroke-opacity="0.5" stroke-width="3.12" d="M931.5 1742.5H946.5V1742.5H931.5Z"/>
<path fill="none" stroke="#a6d854" stroke-opacity="0.5" stroke-width="3.12" d="M946.5 1742.5H962.5V1738.5H946.5Z"/>
<path fill="none" stroke="#a6d854" stroke-opacity="0.5" stroke-width="3.12" d="M962.5 1742.5H978.5V1738.5H962.5Z"/>
<path fill="none" stroke="#a6d854" stroke-opacity="0.5" stroke-width="3.12" d="M978.5 1742.5H994.5V1742.5H978.5Z"/>
<path fill="none" stroke="#a6d854" stroke-opacity="0.5" stroke-width="3.12" d="M994.5 1742.5H1010.5V1742.5H994.5Z"/>
<path fill="none" stroke="#a6d854" stroke-opacity="0.5" stroke-width="3.12" d="M1010.5 1742.5H1026.5V1742.5H1010.5Z"/>
<path fill="none" stroke="#a6d854" stroke-opacity="0.5" stroke-width="3.12" d="M1026.5 1742.5H1042.5V1738.5H1026.5Z"/>
<path fill="none" stroke="#a6d854" stroke-opacity="0.5" stroke-width="3.12" d="M1042.5 1742.5H1057.5V1742.5H1042.5Z"/>
<path fill="none" stroke="#a6d854" stroke-opacity="0.5" stroke-width="3.12" d="M1057.5 1742.5H1073.5V1742.5H1057.5Z"/>
<path fill="none" stroke="#a6d854" stroke-opacity="0.5" stroke-width="3.12" d="M1073.5 1742.5H1089.5V1742.5H1073.5Z"/>
<path fill="none" stroke="#a6d854" stroke-opacity="0.5" stroke-width="3.12" d="M1089.5 1742.5H1105.5V1738.5H1089.5Z"/>
<path fill="none" stroke="#a6d854" stroke-opacity="0.5" stroke-width="3.12" d="M1105.5 1742.5H1121.5V1738.5H1105.5Z"/>
<path fill="none" stroke="#a6d854" stroke-opacity="0.5" stroke-width="3.12" d="M1121.5 1742.5H1137.5V1731.5H1121.5Z"/>
<path fill="none" stroke="#a6d854" stroke-opacity="0.5" stroke-width="3.12" d="M1137.5 1742.5H1153.5V1738.5H1137.5Z"/>
<path fill="none" stroke="#a6d854" stroke-opacity="0.5" stroke-width="3.12" d="M1153.5 1742.5H1168.5V1742.5H1153.5Z"/>
<path fill="none" stroke="#a6d854" stroke-opacity="0.5" stroke-width="3.12" d="M1168.5 1742.5H1184.5V1742.5H1168.5Z"/>
<path fill="none" stroke="#a6d854" stroke-opacity="0.5" stroke-width="3.12" d="M1184.5 1742.5H1200.5V1728.5H1184.5Z"/>
<path fill="none" stroke="#a6d854" stroke-opacity="0.5" stroke-width="3.12" d="M1200.5 1742.5H1216.5V1735.5H1200.5Z"/>
<path fill="none" stroke="#a6d854" stroke-opacity="0.5" stroke-width="3.12" d="M1216.5 1742.5H1232.5V1728.5H1216.5Z"/>
<path fill="none" stroke="#a6d854" stroke-opacity="0.5" stroke-width="3.12" d="M1232.5 1742.5H1248.5V1717.5H1232.5Z"/>
<path fill="none" stroke="#a6d854" stroke-opacity="0.5" stroke-width="3.12" d="M1248.5 1742.5H1264.5V1717.5H1248.5Z"/>
<path fill="none" stroke="#a6d854" stroke-opacity="0.5" stroke-width="3.12" d="M1264.5 1742.5H1280.5V1710.5H1264.5Z"/>
<path fill="none" stroke="#a6d854" stroke-opacity="0.5" stroke-width="3.12" d="M1280.5 1742.5H1295.5V1689.5H1280.5Z"/>
<path fill="none" stroke="#a6d854" stroke-opacity="0.5" stroke-width="3.12" d="M1295.5 1742.5H1311.5V1714.5H1295.5Z"/>
<path fill="none" stroke="#a6d854" stroke-opacity="0.5" stroke-width="3.12" d="M1311.5 1742.5H1327.5V1689.5H1311.5Z"/>
<path fill="none" stroke="#a6d854" stroke-opacity="0.5" stroke-width="3.12" d="M1327.5 1742.5H1343.5V1672.5H1327.5Z"/>
<path fill="none" stroke="#a6d854" stroke-opacity="0.5" stroke-width="3.12" d="M1343.5 1742.5H1359.5V1662.5H1343.5Z"/>
<path fill="none" stroke="#a6d854" stroke-opacity="0.5" stroke-width="3.12" d="M1359.5 1742.5H1375.5V1676.5H1359.5Z"/>
<path fill="none" stroke="#a6d854" stroke-opacity="0.5" stroke-width="3.12" d="M1375.5 1742.5H1391.5V1644.5H1375.5Z"/>
<path fill="none" stroke="#a6d854" stroke-opacity="0.5" stroke-width="3.12" d="M1391.5 1742.5H1406.5V1637.5H1391.5Z"/>
<path fill="none" stroke="#a6d854" stroke-opacity="0.5" stroke-width="3.12" d="M1406.5 1742.5H1422.5V1634.5H1406.5Z"/>
<path fill="none" stroke="#a6d854" stroke-opacity="0.5" stroke-width="3.12" d="M1422.5 1742.5H1438.5V1554.5H1422.5Z"/>
<path fill="none" stroke="#a6d854" stroke-opacity="0.5" stroke-width="3.12" d="M1438.5 1742.5H1454.5V1564.5H1438.5Z"/>
<path fill="none" stroke="#b3b3b3" stroke-opacity="0.5" stroke-width="3.12" d="M835.5 1742.5H851.5V1742.5H835.5Z"/>
<path fill="none" stroke="#b3b3b3" stroke-opacity="0.5" stroke-width="3.12" d="M851.5 1742.5H867.5V1742.5H851.5Z"/>
<path fill="none" stroke="#b3b3b3" stroke-opacity="0.5" stroke-width="3.12" d="M867.5 1742.5H883.5V1742.5H867.5Z"/>
<path fill="none" stroke="#b3b3b3" stroke-opacity="0.5" stroke-width="3.12" d="M883.5 1742.5H899.5V1742.5H883.5Z"/>
<path fill="none" stroke="#b3b3b3" stroke-opacity="0.5" stroke-width="3.12" d="M899.5 1742.5H915.5V1742.5H899.5Z"/>
<path fill="none" stroke="#b3b3b3" stroke-opacity="0.5" stroke-width="3.12" d="M915.5 1742.5H931.5V1742.5H915.5Z"/>
<path fill="none" stroke="#b3b3b3" stroke-opacity="0.5" stroke-width="3.12" d="M931.5 1742.5H946.5V1742.5H931.5Z"/>
<path fill="none" stroke="#b3b3b3" stroke-opacity="0.5" stroke-width="3.12" d="M946.5 1742.5H962.5V1742.5H946.5Z"/>
<path fill="none" stroke="#b3b3b3" stroke-opacity="0.5" stroke-width="3.12" d="M962.5 1742.5H978.5V1742.5H962.5Z"/>
<path fill="none" stroke="#b3b3b3" stroke-opacity="0.5" stroke-width="3.12" d="M978.5 1742.5H994.5V1742.5H978.5Z"/>
<path fill="none" stroke="#b3b3b3" stroke-opacity="0.5" stroke-width="3.12" d="M994.5 1742.5H1010.5V1742.5H994.5Z"/>
<path fill="none" stroke="#b3b3b3" stroke-opacity="0.5" stroke-width="3.12" d="M1010.5 1742.5H1026.5V1742.5H1010.5Z"/>
<path fill="none" stroke="#b3b3b3" stroke-opacity="0.5" stroke-width="3.12" d="M1026.5 1742.5H1042.5V1742.5H1026.5Z"/>
<path fill="none" stroke="#b3b3b3" stroke-opacity="0.5" stroke-width="3.12" d="M1042.5 1742.5H1057.5V1742.5H1042.5Z"/>
<path fill="none" stroke="#b3b3b3" stroke-opacity="0.5" stroke-width="3.12" d="M1057.5 1742.5H1073.5V1742.5H1057.5Z"/>
<path fill="none" stroke="#b3b3b3" stroke-opacity="0.5" stroke-width="3.12" d="M1073.5 1742.5H1089.5V1735.5H1073.5Z"/>
<path fill="none" stroke="#b3b3b3" stroke-opacity="0.5" stroke-width="3.12" d="M1089.5 1742.5H1105.5V1742.5H1089.5Z"/>
<path fill="none" stroke="#b3b3b3" stroke-opacity="0.5" stroke-width="3.12" d="M1105.5 1742.5H1121.5V1738.5H1105.5Z"/>
<path fill="none" stroke="#b3b3b3" stroke-opacity="0.5" stroke-width="3.12" d="M1121.5 1742.5H1137.5V1742.5H1121.5Z"/>
<path fill="none" stroke="#b3b3b3" stroke-opacity="0.5" stroke-width="3.12" d="M1137.5 1742.5H1153.5V1738.5H1137.5Z"/>
<path fill="none" stroke="#b3b3b3" stroke-opacity="0.5" stroke-width="3.12" d="M1153.5 1742.5H1168.5V1728.5H1153.5Z"/>
<path fill="none" stroke="#b3b3b3" stroke-opacity="0.5" stroke-width="3.12" d="M1168.5 1742.5H1184.5V1735.5H1168.5Z"/>
<path fill="none" stroke="#b3b3b3" stroke-opacity="0.5" stroke-width="3.12" d="M1184.5 1742.5H1200.5V1724.5H1184.5Z"/>
<path fill="none" stroke="#b3b3b3" stroke-opacity="0.5" stroke-width="3.12" d="M1200.5 1742.5H1216.5V1724.5H1200.5Z"/>
<path fill="none" stroke="#b3b3b3" stroke-opacity="0.5" stroke-width="3.12" d="M1216.5 1742.5H1232.5V1700.5H1216.5Z"/>
<path fill="none" stroke="#b3b3b3" stroke-opacity="0.5" stroke-width="3.12" d="M1232.5 1742.5H1248.5V1696.5H1232.5Z"/>
<path fill="none" stroke="#b3b3b3" stroke-opacity="0.5" stroke-width="3.12" d="M1248.5 1742.5H1264.5V1679.5H1248.5Z"/>
<path fill="none" stroke="#b3b3b3" stroke-opacity="0.5" stroke-width="3.12" d="M1264.5 1742.5H1280.5V1693.5H1264.5Z"/>
<path fill="none" stroke="#b3b3b3" stroke-opacity="0.5" stroke-width="3.12" d="M1280.5 1742.5H1295.5V1637.5H1280.5Z"/>
<path fill="none" stroke="#b3b3b3" stroke-opacity="0.5" stroke-width="3.12" d="M1295.5 1742.5H1311.5V1616.5H1295.5Z"/>
<path fill="none" stroke="#b3b3b3" stroke-opacity="0.5" stroke-width="3.12" d="M1311.5 1742.5H1327.5V1630.5H1311.5Z"/>
<path fill="none" stroke="#b3b3b3" stroke-opacity="0.5" stroke-width="3.12" d="M1327.5 1742.5H1343.5V1557.5H1327.5Z"/>
<path fill="none" stroke="#b3b3b3" stroke-opacity="0.5" stroke-width="3.12" d="M1343.5 1742.5H1359.5V1568.5H1343.5Z"/>
<path fill="none" stroke="#b3b3b3" stroke-opacity="0.5" stroke-width="3.12" d="M1359.5 1742.5H1375.5V1477.5H1359.5Z"/>
<path fill="none" stroke="#b3b3b3" stroke-opacity="0.5" stroke-width="3.12" d="M1375.5 1742.5H1391.5V1501.5H1375.5Z"/>
<path fill="none" stroke="#b3b3b3" stroke-opacity="0.5" stroke-width="3.12" d="M1391.5 1742.5H1406.5V1428.5H1391.5Z"/>
<path fill="none" stroke="#b3b3b3" stroke-opacity="0.5" stroke-width="3.12" d="M1406.5 1742.5H1422.5V1334.5H1406.5Z"/>
<path fill="none" stroke="#b3b3b3" stroke-opacity="0.5" stroke-width="3.12" d="M1422.5 1742.5H1438.5V1334.5H1422.5Z"/>
<path fill="none" stroke="#b3b3b3" stroke-opacity="0.5" stroke-width="3.12" d="M1438.5 1742.5H1454.5V1390.5H1438.5Z"/>
<path fill="none" stroke="#a6d854" stroke-opacity="0.5" stroke-width="3.12" d="M835.5 1742.5H851.5V1742.5H835.5Z"/>
<path fill="none" stroke="#a6d854" stroke-opacity="0.5" stroke-width="3.12" d="M851.5 1742.5H867.5V1742.5H851.5Z"/>
<path fill="none" stroke="#a6d854" stroke-opacity="0.5" stroke-width="3.12" d="M867.5 1742.5H883.5V1738.5H867.5Z"/>
<path fill="none" stroke="#a6d854" stroke-opacity="0.5" stroke-width="3.12" d="M883.5 1742.5H899.5V1738.5H883.5Z"/>
<path fill="none" stroke="#a6d854" stroke-opacity="0.5" stroke-width="3.12" d="M899.5 1742.5H915.5V1735.5H899.5Z"/>
<path fill="none" stroke="#a6d854" stroke-opacity="0.5" stroke-width="3.12" d="M915.5 1742.5H931.5V1742.5H915.5Z"/>
<path fill="none" stroke="#a6d854" stroke-opacity="0.5" stroke-width="3.12" d="M931.5 1742.5H946.5V1742.5H931.5Z"/>
<path fill="none" stroke="#a6d854" stroke-opacity="0.5" stroke-width="3.12" d="M946.5 1742.5H962.5V1742.5H946.5Z"/>
<path fill="none" stroke="#a6d854" stroke-opacity="0.5" stroke-width="3.12" d="M962.5 1742.5H978.5V1742.5H962.5Z"/>
<path fill="none" stroke="#a6d854" stroke-opacity="0.5" stroke-width="3.12" d="M978.5 1742.5H994.5V1728.5H978.5Z"/>
<path fill="none" stroke="#a6d854" stroke-opacity="0.5" stroke-width="3.12" d="M994.5 1742.5H1010.5V1728.5H994.5Z"/>
<path fill="none" stroke="#a6d854" stroke-opacity="0.5" stroke-width="3.12" d="M1010.5 1742.5H1026.5V1710.5H1010.5Z"/>
<path fill="none" stroke="#a6d854" stroke-opacity="0.5" stroke-width="3.12" d="M1026.5 1742.5H1042.5V1710.5H1026.5Z"/>
<path fill="none" stroke="#a6d854" stroke-opacity="0.5" stroke-width="3.12" d="M1042.5 1742.5H1057.5V1703.5H1042.5Z"/>
<path fill="none" stroke="#a6d854" stroke-opacity="0.5" stroke-width="3.12" d="M1057.5 1742.5H1073.5V1714.5H1057.5Z"/>
<path fill="none" stroke="#a6d854" stroke-opacity="0.5" stroke-width="3.12" d="M1073.5 1742.5H1089.5V1693.5H1073.5Z"/>
<path fill="none" stroke="#a6d854" stroke-opacity="0.5" stroke-width="3.12" d="M1089.5 1742.5H1105.5V1703.5H1089.5Z"/>
<path fill="none" stroke="#a6d854" stroke-opacity="0.5" stroke-width="3.12" d="M1105.5 1742.5H1121.5V1683.5H1105.5Z"/>
<path fill="none" stroke="#a6d854" stroke-opacity="0.5" stroke-width="3.12" d="M1121.5 1742.5H1137.5V1686.5H1121.5Z"/>
<path fill="none" stroke="#a6d854" stroke-opacity="0.5" stroke-width="3.12" d="M1137.5 1742.5H1153.5V1665.5H1137.5Z"/>
<path fill="none" stroke="#a6d854" stroke-opacity="0.5" stroke-width="3.12" d="M1153.5 1742.5H1168.5V1679.5H1153.5Z"/>
<path fill="none" stroke="#a6d854" stroke-opacity="0.5" stroke-width="3.12" d="M1168.5 1742.5H1184.5V1644.5H1168.5Z"/>
<path fill="none" stroke="#a6d854" stroke-opacity="0.5" stroke-width="3.12" d="M1184.5 1742.5H1200.5V1655.5H1184.5Z"/>
<path fill="none" stroke="#a6d854" stroke-opacity="0.5" stroke-width="3.12" d="M1200.5 1742.5H1216.5V1599.5H1200.5Z"/>
<path fill="none" stroke="#a6d854" stroke-opacity="0.5" stroke-width="3.12" d="M1216.5 1742.5H1232.5V1602.5H1216.5Z"/>
<path fill="none" stroke="#a6d854" stroke-opacity="0.5" stroke-width="3.12" d="M1232.5 1742.5H1248.5V1609.5H1232.5Z"/>
<path fill="none" stroke="#a6d854" stroke-opacity="0.5" stroke-width="3.12" d="M1248.5 1742.5H1264.5V1571.5H1248.5Z"/>
<path fill="none" stroke="#a6d854" stroke-opacity="0.5" stroke-width="3.12" d="M1264.5 1742.5H1280.5V1616.5H1264.5Z"/>
<path fill="none" stroke="#a6d854" stroke-opacity="0.5" stroke-width="3.12" d="M1280.5 1742.5H1295.5V1655.5H1280.5Z"/>
<path fill="none" stroke="#a6d854" stroke-opacity="0.5" stroke-width="3.12" d="M1295.5 1742.5H1311.5V1620.5H1295.5Z"/>
<path fill="none" stroke="#a6d854" stroke-opacity="0.5" stroke-width="3.12" d="M1311.5 1742.5H1327.5V1620.5H1311.5Z"/>
<path fill="none" stroke="#a6d854" stroke-opacity="0.5" stroke-width="3.12" d="M1327.5 1742.5H1343.5V1623.5H1327.5Z"/>
<path fill="none" stroke="#a6d854" stroke-opacity="0.5" stroke-width="3.12" d="M1343.5 1742.5H1359.5V1651.5H1343.5Z"/>
<path fill="none" stroke="#a6d854" stroke-opacity="0.5" stroke-width="3.12" d="M1359.5 1742.5H1375.5V1686.5H1359.5Z"/>
<path fill="none" stroke="#a6d854" stroke-opacity="0.5" stroke-width="3.12" d="M1375.5 1742.5H1391.5V1662.5H1375.5Z"/>
<path fill="none" stroke="#a6d854" stroke-opacity="0.5" stroke-width="3.12" d="M1391.5 1742.5H1406.5V1669.5H1391.5Z"/>
<path fill="none" stroke="#a6d854" stroke-opacity="0.5" stroke-width="3.12" d="M1406.5 1742.5H1422.5V1686.5H1406.5Z"/>
<path fill="none" stroke="#a6d854" stroke-opacity="0.5" stroke-width="3.12" d="M1422.5 1742.5H1438.5V1693.5H1422.5Z"/>
<path fill="none" stroke="#a6d854" stroke-opacity="0.5" stroke-width="3.12" d="M1438.5 1742.5H1454.5V1700.5H1438.5Z"/>
<path fill="none" stroke="#e5c494" stroke-opacity="0.5" stroke-width="3.12" d="M835.5 1742.5H851.5V1742.5H835.5Z"/>
<path fill="none" stroke="#e5c494" stroke-opacity="0.5" stroke-width="3.12" d="M851.5 1742.5H867.5V1742.5H851.5Z"/>
<path fill="none" stroke="#e5c494" stroke-opacity="0.5" stroke-width="3.12" d="M867.5 1742.5H883.5V1742.5H867.5Z"/>
<path fill="none" stroke="#e5c494" stroke-opacity="0.5" stroke-width="3.12" d="M883.5 1742.5H899.5V1742.5H883.5Z"/>
<path fill="none" stroke="#e5c494" stroke-opacity="0.5" stroke-width="3.12" d="M899.5 1742.5H915.5V1742.5H899.5Z"/>
<path fill="none" stroke="#e5c494" stroke-opacity="0.5" stroke-width="3.12" d="M915.5 1742.5H931.5V1742.5H915.5Z"/>
<path fill="none" stroke="#e5c494" stroke-opacity="0.5" stroke-width="3.12" d="M931.5 1742.5H946.5V1742.5H931.5Z"/>
<path fill="none" stroke="#e5c494" stroke-opacity="0.5" stroke-width="3.12" d="M946.5 1742.5H962.5V1742.5H946.5Z"/>
<path fill="none" stroke="#e5c494" stroke-opacity="0.5" stroke-width="3.12" d="M962.5 1742.5H978.5V1742.5H962.5Z"/>
<path fill="none" stroke="#e5c494" stroke-opacity="0.5" stroke-width="3.12" d="M978.5 1742.5H994.5V1742.5H978.5Z"/>
<path fill="none" stroke="#e5c494" stroke-opacity="0.5" stroke-width="3.12" d="M994.5 1742.5H1010.5V1742.5H994.5Z"/>
<path fill="none" stroke="#e5c494" stroke-opacity="0.5" stroke-width="3.12" d="M1010.5 1742.5H1026.5V1742.5H1010.5Z"/>
<path fill="none" stroke="#e5c494" stroke-opacity="0.5" stroke-width="3.12" d="M1026.5 1742.5H1042.5V1742.5H1026.5Z"/>
<path fill="none" stroke="#e5c494" stroke-opacity="0.5" stroke-width="3.12" d="M1042.5 1742.5H1057.5V1742.5H1042.5Z"/>
<path fill="none" stroke="#e5c494" stroke-opacity="0.5" stroke-width="3.12" d="M1057.5 1742.5H1073.5V1738.5H1057.5Z"/>
<path fill="none" stroke="#e5c494" stroke-opacity="0.5" stroke-width="3.12" d="M1073.5 1742.5H1089.5V1728.5H1073.5Z"/>
<path fill="none" stroke="#e5c494" stroke-opacity="0.5" stroke-width="3.12" d="M1089.5 1742.5H1105.5V1738.5H1089.5Z"/>
<path fill="none" stroke="#e5c494" stroke-opacity="0.5" stroke-width="3.12" d="M1105.5 1742.5H1121.5V1728.5H1105.5Z"/>
<path fill="none" stroke="#e5c494" stroke-opacity="0.5" stroke-width="3.12" d="M1121.5 1742.5H1137.5V1735.5H1121.5Z"/>
<path fill="none" stroke="#e5c494" stroke-opacity="0.5" stroke-width="3.12" d="M1137.5 1742.5H1153.5V1717.5H1137.5Z"/>
<path fill="none" stroke="#e5c494" stroke-opacity="0.5" stroke-width="3.12" d="M1153.5 1742.5H1168.5V1710.5H1153.5Z"/>
<path fill="none" stroke="#e5c494" stroke-opacity="0.5" stroke-width="3.12" d="M1168.5 1742.5H1184.5V1714.5H1168.5Z"/>
<path fill="none" stroke="#e5c494" stroke-opacity="0.5" stroke-width="3.12" d="M1184.5 1742.5H1200.5V1700.5H1184.5Z"/>
<path fill="none" stroke="#e5c494" stroke-opacity="0.5" stroke-width="3.12" d="M1200.5 1742.5H1216.5V1683.5H1200.5Z"/>
<path fill="none" stroke="#e5c494" stroke-opacity="0.5" stroke-width="3.12" d="M1216.5 1742.5H1232.5V1623.5H1216.5Z"/>
<path fill="none" stroke="#e5c494" stroke-opacity="0.5" stroke-width="3.12" d="M1232.5 1742.5H1248.5V1634.5H1232.5Z"/>
<path fill="none" stroke="#e5c494" stroke-opacity="0.5" stroke-width="3.12" d="M1248.5 1742.5H1264.5V1637.5H1248.5Z"/>
<path fill="none" stroke="#e5c494" stroke-opacity="0.5" stroke-width="3.12" d="M1264.5 1742.5H1280.5V1578.5H1264.5Z"/>
<path fill="none" stroke="#e5c494" stroke-opacity="0.5" stroke-width="3.12" d="M1280.5 1742.5H1295.5V1456.5H1280.5Z"/>
<path fill="none" stroke="#e5c494" stroke-opacity="0.5" stroke-width="3.12" d="M1295.5 1742.5H1311.5V1393.5H1295.5Z"/>
<path fill="none" stroke="#e5c494" stroke-opacity="0.5" stroke-width="3.12" d="M1311.5 1742.5H1327.5V1407.5H1311.5Z"/>
<path fill="none" stroke="#e5c494" stroke-opacity="0.5" stroke-width="3.12" d="M1327.5 1742.5H1343.5V1331.5H1327.5Z"/>
<path fill="none" stroke="#e5c494" stroke-opacity="0.5" stroke-width="3.12" d="M1343.5 1742.5H1359.5V1205.5H1343.5Z"/>
<path fill="none" stroke="#e5c494" stroke-opacity="0.5" stroke-width="3.12" d="M1359.5 1742.5H1375.5V1188.5H1359.5Z"/>
<path fill="none" stroke="#e5c494" stroke-opacity="0.5" stroke-width="3.12" d="M1375.5 1742.5H1391.5V1150.5H1375.5Z"/>
<path fill="none" stroke="#e5c494" stroke-opacity="0.5" stroke-width="3.12" d="M1391.5 1742.5H1406.5V968.5H1391.5Z"/>
<path fill="none" stroke="#e5c494" stroke-opacity="0.5" stroke-width="3.12" d="M1406.5 1742.5H1422.5V1056.5H1406.5Z"/>
<path fill="none" stroke="#e5c494" stroke-opacity="0.5" stroke-width="3.12" d="M1422.5 1742.5H1438.5V1028.5H1422.5Z"/>
<path fill="none" stroke="#e5c494" stroke-opacity="0.5" stroke-width="3.12" d="M1438.5 1742.5H1454.5V1122.5H1438.5Z"/>
<path fill="none" stroke="#e78ac3" stroke-opacity="0.5" stroke-width="3.12" d="M835.5 1742.5H851.5V1738.5H835.5Z"/>
<path fill="none" stroke="#e78ac3" stroke-opacity="0.5" stroke-width="3.12" d="M851.5 1742.5H867.5V1742.5H851.5Z"/>
<path fill="none" stroke="#e78ac3" stroke-opacity="0.5" stroke-width="3.12" d="M867.5 1742.5H883.5V1742.5H867.5Z"/>
<path fill="none" stroke="#e78ac3" stroke-opacity="0.5" stroke-width="3.12" d="M883.5 1742.5H899.5V1742.5H883.5Z"/>
<path fill="none" stroke="#e78ac3" stroke-opacity="0.5" stroke-width="3.12" d="M899.5 1742.5H915.5V1742.5H899.5Z"/>
<path fill="none" stroke="#e78ac3" stroke-opacity="0.5" stroke-width="3.12" d="M915.5 1742.5H931.5V1738.5H915.5Z"/>
<path fill="none" stroke="#e78ac3" stroke-opacity="0.5" stroke-width="3.12" d="M931.5 1742.5H946.5V1731.5H931.5Z"/>
<path fill="none" stroke="#e78ac3" stroke-opacity="0.5" stroke-width="3.12" d="M946.5 1742.5H962.5V1731.5H946.5Z"/>
<path fill="none" stroke="#e78ac3" stroke-opacity="0.5" stroke-width="3.12" d="M962.5 1742.5H978.5V1728.5H962.5Z"/>
<path fill="none" stroke="#e78ac3" stroke-opacity="0.5" stroke-width="3.12" d="M978.5 1742.5H994.5V1738.5H978.5Z"/>
<path fill="none" stroke="#e78ac3" stroke-opacity="0.5" stroke-width="3.12" d="M994.5 1742.5H1010.5V1728.5H994.5Z"/>
<path fill="none" stroke="#e78ac3" stroke-opacity="0.5" stroke-width="3.12" d="M1010.5 1742.5H1026.5V1724.5H1010.5Z"/>
<path fill="none" stroke="#e78ac3" stroke-opacity="0.5" stroke-width="3.12" d="M1026.5 1742.5H1042.5V1717.5H1026.5Z"/>
<path fill="none" stroke="#e78ac3" stroke-opacity="0.5" stroke-width="3.12" d="M1042.5 1742.5H1057.5V1696.5H1042.5Z"/>
<path fill="none" stroke="#e78ac3" stroke-opacity="0.5" stroke-width="3.12" d="M1057.5 1742.5H1073.5V1721.5H1057.5Z"/>
<path fill="none" stroke="#e78ac3" stroke-opacity="0.5" stroke-width="3.12" d="M1073.5 1742.5H1089.5V1689.5H1073.5Z"/>
<path fill="none" stroke="#e78ac3" stroke-opacity="0.5" stroke-width="3.12" d="M1089.5 1742.5H1105.5V1721.5H1089.5Z"/>
<path fill="none" stroke="#e78ac3" stroke-opacity="0.5" stroke-width="3.12" d="M1105.5 1742.5H1121.5V1665.5H1105.5Z"/>
<path fill="none" stroke="#e78ac3" stroke-opacity="0.5" stroke-width="3.12" d="M1121.5 1742.5H1137.5V1703.5H1121.5Z"/>
<path fill="none" stroke="#e78ac3" stroke-opacity="0.5" stroke-width="3.12" d="M1137.5 1742.5H1153.5V1651.5H1137.5Z"/>
<path fill="none" stroke="#e78ac3" stroke-opacity="0.5" stroke-width="3.12" d="M1153.5 1742.5H1168.5V1662.5H1153.5Z"/>
<path fill="none" stroke="#e78ac3" stroke-opacity="0.5" stroke-width="3.12" d="M1168.5 1742.5H1184.5V1641.5H1168.5Z"/>
<path fill="none" stroke="#e78ac3" stroke-opacity="0.5" stroke-width="3.12" d="M1184.5 1742.5H1200.5V1550.5H1184.5Z"/>
<path fill="none" stroke="#e78ac3" stroke-opacity="0.5" stroke-width="3.12" d="M1200.5 1742.5H1216.5V1585.5H1200.5Z"/>
<path fill="none" stroke="#e78ac3" stroke-opacity="0.5" stroke-width="3.12" d="M1216.5 1742.5H1232.5V1561.5H1216.5Z"/>
<path fill="none" stroke="#e78ac3" stroke-opacity="0.5" stroke-width="3.12" d="M1232.5 1742.5H1248.5V1512.5H1232.5Z"/>
<path fill="none" stroke="#e78ac3" stroke-opacity="0.5" stroke-width="3.12" d="M1248.5 1742.5H1264.5V1571.5H1248.5Z"/>
<path fill="none" stroke="#e78ac3" stroke-opacity="0.5" stroke-width="3.12" d="M1264.5 1742.5H1280.5V1582.5H1264.5Z"/>
<path fill="none" stroke="#e78ac3" stroke-opacity="0.5" stroke-width="3.12" d="M1280.5 1742.5H1295.5V1595.5H1280.5Z"/>
<path fill="none" stroke="#e78ac3" stroke-opacity="0.5" stroke-width="3.12" d="M1295.5 1742.5H1311.5V1582.5H1295.5Z"/>
<path fill="none" stroke="#e78ac3" stroke-opacity="0.5" stroke-width="3.12" d="M1311.5 1742.5H1327.5V1592.5H1311.5Z"/>
<path fill="none" stroke="#e78ac3" stroke-opacity="0.5" stroke-width="3.12" d="M1327.5 1742.5H1343.5V1620.5H1327.5Z"/>
<path fill="none" stroke="#e78ac3" stroke-opacity="0.5" stroke-width="3.12" d="M1343.5 1742.5H1359.5V1571.5H1343.5Z"/>
<path fill="none" stroke="#e78ac3" stroke-opacity="0.5" stroke-width="3.12" d="M1359.5 1742.5H1375.5V1655.5H1359.5Z"/>
<path fill="none" stroke="#e78ac3" stroke-opacity="0.5" stroke-width="3.12" d="M1375.5 1742.5H1391.5V1669.5H1375.5Z"/>
<path fill="none" stroke="#e78ac3" stroke-opacity="0.5" stroke-width="3.12" d="M1391.5 1742.5H1406.5V1669.5H1391.5Z"/>
<path fill="none" stroke="#e78ac3" stroke-opacity="0.5" stroke-width="3.12" d="M1406.5 1742.5H1422.5V1689.5H1406.5Z"/>
<path fill="none" stroke="#e78ac3" stroke-opacity="0.5" stroke-width="3.12" d="M1422.5 1742.5H1438.5V1714.5H1422.5Z"/>
<path fill="none" stroke="#e78ac3" stroke-opacity="0.5" stroke-width="3.12" d="M1438.5 1742.5H1454.5V1717.5H1438.5Z"/>
<path fill="none" stroke="#b0b0b0" stroke-width="1.11" d="M737.5 1742.5L737.5 930.5M817.5 1742.5L817.5 930.5M896.5 1742.5L896.5 930.5M976.5 1742.5L976.5 930.5M1056.5 1742.5L1056.5 930.5M1135.5 1742.5L1135.5 930.5M1215.5 1742.5L1215.5 930.5M1295.5 1742.5L1295.5 930.5M1374.5 1742.5L1374.5 930.5M1454.5 1742.5L1454.5 930.5M1534.5 1742.5L1534.5 930.5M804.5 1742.5L1485.5 1742.5M804.5 1570.5L1485.5 1570.5M804.5 1399.5L1485.5 1399.5M804.5 1228.5L1485.5 1228.5M804.5 1057.5L1485.5 1057.5M804.5 885.5L1485.5 885.5"/>
<path fill="none" stroke="#ffd92f" stroke-width="2.08" stroke-linecap="square" stroke-linejoin="round" d="M835.34 1741.72L838.45 1741.72L841.56 1741.72L844.67 1741.72L847.78 1741.72L850.88 1741.72L853.99 1741.72L857.1 1741.72L860.21 1741.72L863.32 1741.72L866.43 1741.72L869.54 1741.72L872.65 1741.72L875.76 1741.72L878.87 1741.72L881.98 1741.72L885.09 1741.72L888.19 1741.72L891.3 1741.72L894.41 1741.72L897.52 1741.72L900.63 1741.72L903.74 1741.72L906.85 1741.72L909.96 1741.72L913.07 1741.72L916.18 1741.72L919.29 1741.72L922.4 1741.72L925.5 1741.72L928.61 1741.72L931.72 1741.72L934.83 1741.72L937.94 1741.72L941.05 1741.72L944.16 1741.72L947.27 1741.72L950.38 1741.72L953.49 1741.72L956.6 1741.72L959.71 1741.72L962.81 1741.72L965.92 1741.72L969.03 1741.72L972.14 1741.72L975.25 1741.72L978.36 1741.72L981.47 1741.72L984.58 1741.72L987.69 1741.72L990.8 1741.72L993.91 1741.72L997.02 1741.72L1000.13 1741.72L1003.23 1741.72L1006.34 1741.72L1009.45 1741.72L1012.56 1741.72L1015.67 1741.72L1018.78 1741.72L1021.89 1741.72L1025 1741.72L1028.11 1741.72L1031.22 1741.72L1034.33 1741.72L1037.44 1741.72L1040.54 1741.72L1043.65 1741.72L1046.76 1741.72L1049.87 1741.72L1052.98 1741.72L1056.09 1741.72L1059.2 1741.72L1062.31 1741.72L1065.42 1741.72L1068.53 1741.72L1071.64 1741.72L1074.75 1741.72L1077.85 1741.72L1080.96 1741.72L1084.07 1741.72L1087.18 1741.72L1090.29 1741.72L1093.4 1741.72L1096.51 1741.72L1099.62 1741.72L1102.73 1741.72L1105.84 1741.72L1108.95 1741.72L1112.06 1741.72L1115.16 1741.72L1118.27 1741.72L1121.38 1741.72L1124.49 1741.72L1127.6 1741.72L1130.71 1741.72L1133.82 1741.72L1136.93 1741.72L1140.04 1741.72L1143.15 1741.72L1146.26 1741.72L1149.37 1741.72L1152.47 1741.72L1155.58 1741.72L1158.69 1741.72L1161.8 1741.72L1164.91 1741.72L1168.02 1741.72L1171.13 1741.72L1174.24 1741.72L1177.35 1741.72L1180.46 1741.72L1183.57 1741.72L1186.68 1741.72L1189.78 1741.72L1192.89 1741.72L1196 1741.72L1199.11 1741.72L1202.22 1741.72L1205.33 1741.72L1208.44 1741.72L1211.55 1741.72L1214.66 1741.72L1217.77 1741.72L1220.88 1741.72L1223.99 1741.72L1227.09 1741.72L1230.2 1741.72L1233.31 1741.72L1236.42 1741.72L1239.53 1741.72L1242.64 1741.72L1245.75 1741.72L1248.86 1741.72L1251.97 1741.72L1255.08 1741.72L1258.19 1741.71L1261.3 1741.71L1264.4 1741.7L1267.51 1741.7L1270.62 1741.68L1273.73 1741.67L1276.84 1741.65L1279.95 1741.63L1283.06 1741.59L1286.17 1741.56L1289.28 1741.51L1292.39 1741.45L1295.5 1741.38L1298.61 1741.3L1301.71 1741.2L1304.82 1741.09L1307.93 1740.97L1311.04 1740.84L1314.15 1740.69L1317.26 1740.54L1320.37 1740.38L1323.48 1740.22L1326.59 1740.05L1329.7 1739.89L1332.81 1739.72L1335.92 1739.56L1339.02 1739.41L1342.13 1739.27L1345.24 1739.14L1348.35 1739.01L1351.46 1738.89L1354.57 1738.78L1357.68 1738.67L1360.79 1738.57L1363.9 1738.46L1367.01 1738.36L1370.12 1738.25L1373.23 1738.13L1376.33 1738.02L1379.44 1737.9L1382.55 1737.78L1385.66 1737.66L1388.77 1737.54L1391.88 1737.43L1394.99 1737.33L1398.1 1737.24L1401.21 1737.15L1404.32 1737.08L1407.43 1737.02L1410.54 1736.97L1413.64 1736.93L1416.75 1736.9L1419.86 1736.88L1422.97 1736.88L1426.08 1736.88L1429.19 1736.9L1432.3 1736.94L1435.41 1737L1438.52 1737.08L1441.63 1737.19L1444.74 1737.33L1447.85 1737.5L1450.95 1737.7L1454.06 1737.93"/>
<path fill="none" stroke="#ffd92f" stroke-width="2.08" stroke-linecap="square" stroke-linejoin="round" d="M835.34 1741.72L838.45 1741.72L841.56 1741.72L844.67 1741.72L847.78 1741.72L850.88 1741.72L853.99 1741.72L857.1 1741.72L860.21 1741.72L863.32 1741.72L866.43 1741.72L869.54 1741.72L872.65 1741.72L875.76 1741.72L878.87 1741.72L881.98 1741.72L885.09 1741.72L888.19 1741.72L891.3 1741.72L894.41 1741.72L897.52 1741.72L900.63 1741.72L903.74 1741.72L906.85 1741.72L909.96 1741.72L913.07 1741.72L916.18 1741.72L919.29 1741.72L922.4 1741.72L925.5 1741.72L928.61 1741.72L931.72 1741.72L934.83 1741.72L937.94 1741.72L941.05 1741.72L944.16 1741.72L947.27 1741.72L950.38 1741.72L953.49 1741.72L956.6 1741.72L959.71 1741.72L962.81 1741.72L965.92 1741.72L969.03 1741.72L972.14 1741.72L975.25 1741.72L978.36 1741.72L981.47 1741.72L984.58 1741.72L987.69 1741.72L990.8 1741.72L993.91 1741.72L997.02 1741.72L1000.13 1741.72L1003.23 1741.72L1006.34 1741.72L1009.45 1741.72L1012.56 1741.72L1015.67 1741.72L1018.78 1741.72L1021.89 1741.72L1025 1741.72L1028.11 1741.72L1031.22 1741.72L1034.33 1741.72L1037.44 1741.72L1040.54 1741.72L1043.65 1741.72L1046.76 1741.72L1049.87 1741.72L1052.98 1741.72L1056.09 1741.72L1059.2 1741.72L1062.31 1741.72L1065.42 1741.72L1068.53 1741.72L1071.64 1741.72L1074.75 1741.72L1077.85 1741.72L1080.96 1741.72L1084.07 1741.72L1087.18 1741.72L1090.29 1741.72L1093.4 1741.72L1096.51 1741.72L1099.62 1741.72L1102.73 1741.72L1105.84 1741.72L1108.95 1741.72L1112.06 1741.72L1115.16 1741.72L1118.27 1741.72L1121.38 1741.72L1124.49 1741.72L1127.6 1741.72L1130.71 1741.72L1133.82 1741.72L1136.93 1741.72L1140.04 1741.72L1143.15 1741.72L1146.26 1741.72L1149.37 1741.72L1152.47 1741.72L1155.58 1741.72L1158.69 1741.72L1161.8 1741.72L1164.91 1741.72L1168.02 1741.72L1171.13 1741.72L1174.24 1741.72L1177.35 1741.72L1180.46 1741.72L1183.57 1741.72L1186.68 1741.72L1189.78 1741.72L1192.89 1741.72L1196 1741.72L1199.11 1741.72L1202.22 1741.72L1205.33 1741.72L1208.44 1741.72L1211.55 1741.72L1214.66 1741.72L1217.77 1741.72L1220.88 1741.72L1223.99 1741.72L1227.09 1741.72L1230.2 1741.72L1233.31 1741.72L1236.42 1741.72L1239.53 1741.72L1242.64 1741.72L1245.75 1741.72L1248.86 1741.72L1251.97 1741.72L1255.08 1741.72L1258.19 1741.72L1261.3 1741.71L1264.4 1741.71L1267.51 1741.7L1270.62 1741.68L1273.73 1741.65L1276.84 1741.6L1279.95 1741.54L1283.06 1741.45L1286.17 1741.32L1289.28 1741.16L1292.39 1740.95L1295.5 1740.7L1298.61 1740.41L1301.71 1740.09L1304.82 1739.73L1307.93 1739.36L1311.04 1738.97L1314.15 1738.57L1317.26 1738.15L1320.37 1737.72L1323.48 1737.25L1326.59 1736.74L1329.7 1736.16L1332.81 1735.51L1335.92 1734.79L1339.02 1734L1342.13 1733.17L1345.24 1732.32L1348.35 1731.48L1351.46 1730.66L1354.57 1729.88L1357.68 1729.15L1360.79 1728.47L1363.9 1727.83L1367.01 1727.23L1370.12 1726.66L1373.23 1726.12L1376.33 1725.6L1379.44 1725.1L1382.55 1724.61L1385.66 1724.14L1388.77 1723.66L1391.88 1723.16L1394.99 1722.6L1398.1 1721.95L1401.21 1721.18L1404.32 1720.29L1407.43 1719.27L1410.54 1718.16L1413.64 1717.01L1416.75 1715.9L1419.86 1714.94L1422.97 1714.22L1426.08 1713.86L1429.19 1713.93L1432.3 1714.48L1435.41 1715.53L1438.52 1717.05L1441.63 1718.97L1444.74 1721.19L1447.85 1723.62L1450.95 1726.12L1454.06 1728.58"/>
<path fill="none" stroke="#8da0cb" stroke-width="2.08" stroke-linecap="square" stroke-linejoin="round" d="M835.34 1741.72L838.45 1741.72L841.56 1741.72L844.67 1741.72L847.78 1741.72L850.88 1741.72L853.99 1741.72L857.1 1741.72L860.21 1741.72L863.32 1741.72L866.43 1741.72L869.54 1741.72L872.65 1741.72L875.76 1741.72L878.87 1741.72L881.98 1741.72L885.09 1741.72L888.19 1741.72L891.3 1741.72L894.41 1741.72L897.52 1741.72L900.63 1741.72L903.74 1741.72L906.85 1741.72L909.96 1741.72L913.07 1741.72L916.18 1741.72L919.29 1741.72L922.4 1741.72L925.5 1741.72L928.61 1741.72L931.72 1741.72L934.83 1741.72L937.94 1741.72L941.05 1741.72L944.16 1741.72L947.27 1741.72L950.38 1741.72L953.49 1741.72L956.6 1741.72L959.71 1741.72L962.81 1741.72L965.92 1741.72L969.03 1741.72L972.14 1741.72L975.25 1741.72L978.36 1741.72L981.47 1741.72L984.58 1741.72L987.69 1741.72L990.8 1741.72L993.91 1741.72L997.02 1741.72L1000.13 1741.72L1003.23 1741.72L1006.34 1741.72L1009.45 1741.72L1012.56 1741.72L1015.67 1741.72L1018.78 1741.72L1021.89 1741.72L1025 1741.72L1028.11 1741.72L1031.22 1741.72L1034.33 1741.72L1037.44 1741.72L1040.54 1741.72L1043.65 1741.72L1046.76 1741.72L1049.87 1741.72L1052.98 1741.72L1056.09 1741.72L1059.2 1741.72L1062.31 1741.72L1065.42 1741.72L1068.53 1741.72L1071.64 1741.72L1074.75 1741.72L1077.85 1741.72L1080.96 1741.72L1084.07 1741.72L1087.18 1741.72L1090.29 1741.72L1093.4 1741.72L1096.51 1741.72L1099.62 1741.72L1102.73 1741.72L1105.84 1741.72L1108.95 1741.72L1112.06 1741.72L1115.16 1741.72L1118.27 1741.72L1121.38 1741.72L1124.49 1741.72L1127.6 1741.72L1130.71 1741.72L1133.82 1741.72L1136.93 1741.72L1140.04 1741.72L1143.15 1741.72L1146.26 1741.72L1149.37 1741.72L1152.47 1741.72L1155.58 1741.72L1158.69 1741.72L1161.8 1741.72L1164.91 1741.72L1168.02 1741.72L1171.13 1741.72L1174.24 1741.72L1177.35 1741.72L1180.46 1741.72L1183.57 1741.72L1186.68 1741.72L1189.78 1741.72L1192.89 1741.72L1196 1741.72L1199.11 1741.72L1202.22 1741.72L1205.33 1741.72L1208.44 1741.72L1211.55 1741.72L1214.66 1741.72L1217.77 1741.72L1220.88 1741.72L1223.99 1741.72L1227.09 1741.72L1230.2 1741.72L1233.31 1741.72L1236.42 1741.72L1239.53 1741.72L1242.64 1741.72L1245.75 1741.72L1248.86 1741.72L1251.97 1741.72L1255.08 1741.72L1258.19 1741.72L1261.3 1741.72L1264.4 1741.72L1267.51 1741.72L1270.62 1741.72L1273.73 1741.71L1276.84 1741.71L1279.95 1741.69L1283.06 1741.68L1286.17 1741.65L1289.28 1741.61L1292.39 1741.56L1295.5 1741.48L1298.61 1741.38L1301.71 1741.25L1304.82 1741.09L1307.93 1740.89L1311.04 1740.67L1314.15 1740.42L1317.26 1740.15L1320.37 1739.87L1323.48 1739.58L1326.59 1739.3L1329.7 1739.04L1332.81 1738.78L1335.92 1738.55L1339.02 1738.31L1342.13 1738.07L1345.24 1737.82L1348.35 1737.53L1351.46 1737.19L1354.57 1736.81L1357.68 1736.38L1360.79 1735.91L1363.9 1735.4L1367.01 1734.88L1370.12 1734.35L1373.23 1733.83L1376.33 1733.32L1379.44 1732.84L1382.55 1732.38L1385.66 1731.92L1388.77 1731.47L1391.88 1731.01L1394.99 1730.54L1398.1 1730.05L1401.21 1729.54L1404.32 1729.04L1407.43 1728.54L1410.54 1728.07L1413.64 1727.64L1416.75 1727.26L1419.86 1726.96L1422.97 1726.72L1426.08 1726.58L1429.19 1726.53L1432.3 1726.59L1435.41 1726.78L1438.52 1727.11L1441.63 1727.6L1444.74 1728.26L1447.85 1729.08L1450.95 1730.06L1454.06 1731.16"/>
<path fill="none" stroke="#66c2a5" stroke-width="2.08" stroke-linecap="square" stroke-linejoin="round" d="M835.34 1741.72L838.45 1741.72L841.56 1741.72L844.67 1741.72L847.78 1741.72L850.88 1741.72L853.99 1741.72L857.1 1741.72L860.21 1741.72L863.32 1741.72L866.43 1741.72L869.54 1741.72L872.65 1741.72L875.76 1741.72L878.87 1741.72L881.98 1741.72L885.09 1741.72L888.19 1741.72L891.3 1741.72L894.41 1741.72L897.52 1741.72L900.63 1741.72L903.74 1741.72L906.85 1741.72L909.96 1741.72L913.07 1741.72L916.18 1741.72L919.29 1741.72L922.4 1741.72L925.5 1741.72L928.61 1741.72L931.72 1741.72L934.83 1741.72L937.94 1741.72L941.05 1741.72L944.16 1741.72L947.27 1741.72L950.38 1741.72L953.49 1741.72L956.6 1741.72L959.71 1741.72L962.81 1741.72L965.92 1741.72L969.03 1741.72L972.14 1741.72L975.25 1741.72L978.36 1741.72L981.47 1741.72L984.58 1741.72L987.69 1741.72L990.8 1741.72L993.91 1741.72L997.02 1741.72L1000.13 1741.72L1003.23 1741.72L1006.34 1741.72L1009.45 1741.72L1012.56 1741.72L1015.67 1741.72L1018.78 1741.72L1021.89 1741.72L1025 1741.72L1028.11 1741.72L1031.22 1741.72L1034.33 1741.72L1037.44 1741.72L1040.54 1741.72L1043.65 1741.72L1046.76 1741.72L1049.87 1741.72L1052.98 1741.72L1056.09 1741.72L1059.2 1741.72L1062.31 1741.72L1065.42 1741.72L1068.53 1741.72L1071.64 1741.72L1074.75 1741.72L1077.85 1741.72L1080.96 1741.72L1084.07 1741.72L1087.18 1741.72L1090.29 1741.72L1093.4 1741.71L1096.51 1741.71L1099.62 1741.71L1102.73 1741.7L1105.84 1741.7L1108.95 1741.69L1112.06 1741.68L1115.16 1741.67L1118.27 1741.66L1121.38 1741.65L1124.49 1741.63L1127.6 1741.61L1130.71 1741.59L1133.82 1741.57L1136.93 1741.54L1140.04 1741.5L1143.15 1741.47L1146.26 1741.43L1149.37 1741.38L1152.47 1741.33L1155.58 1741.28L1158.69 1741.22L1161.8 1741.15L1164.91 1741.08L1168.02 1741.01L1171.13 1740.93L1174.24 1740.84L1177.35 1740.75L1180.46 1740.65L1183.57 1740.55L1186.68 1740.43L1189.78 1740.32L1192.89 1740.19L1196 1740.06L1199.11 1739.92L1202.22 1739.77L1205.33 1739.61L1208.44 1739.45L1211.55 1739.28L1214.66 1739.11L1217.77 1738.94L1220.88 1738.76L1223.99 1738.59L1227.09 1738.41L1230.2 1738.24L1233.31 1738.07L1236.42 1737.91L1239.53 1737.75L1242.64 1737.61L1245.75 1737.47L1248.86 1737.35L1251.97 1737.24L1255.08 1737.13L1258.19 1737.05L1261.3 1736.97L1264.4 1736.9L1267.51 1736.83L1270.62 1736.78L1273.73 1736.73L1276.84 1736.68L1279.95 1736.63L1283.06 1736.58L1286.17 1736.53L1289.28 1736.46L1292.39 1736.39L1295.5 1736.31L1298.61 1736.22L1301.71 1736.12L1304.82 1736L1307.93 1735.86L1311.04 1735.71L1314.15 1735.54L1317.26 1735.36L1320.37 1735.17L1323.48 1734.96L1326.59 1734.73L1329.7 1734.5L1332.81 1734.26L1335.92 1734.01L1339.02 1733.75L1342.13 1733.5L1345.24 1733.24L1348.35 1732.98L1351.46 1732.72L1354.57 1732.47L1357.68 1732.22L1360.79 1731.97L1363.9 1731.74L1367.01 1731.51L1370.12 1731.28L1373.23 1731.07L1376.33 1730.86L1379.44 1730.66L1382.55 1730.47L1385.66 1730.29L1388.77 1730.12L1391.88 1729.96L1394.99 1729.83L1398.1 1729.71L1401.21 1729.61L1404.32 1729.55L1407.43 1729.51L1410.54 1729.5L1413.64 1729.54L1416.75 1729.61L1419.86 1729.73L1422.97 1729.89L1426.08 1730.1L1429.19 1730.36L1432.3 1730.66L1435.41 1731.01L1438.52 1731.4L1441.63 1731.83L1444.74 1732.3L1447.85 1732.79L1450.95 1733.31L1454.06 1733.85"/>
<path fill="none" stroke="#fc8d62" stroke-width="2.08" stroke-linecap="square" stroke-linejoin="round" d="M835.34 1741.72L838.45 1741.72L841.56 1741.72L844.67 1741.72L847.78 1741.72L850.88 1741.72L853.99 1741.72L857.1 1741.72L860.21 1741.72L863.32 1741.72L866.43 1741.72L869.54 1741.72L872.65 1741.72L875.76 1741.72L878.87 1741.72L881.98 1741.72L885.09 1741.72L888.19 1741.72L891.3 1741.72L894.41 1741.72L897.52 1741.72L900.63 1741.72L903.74 1741.72L906.85 1741.72L909.96 1741.72L913.07 1741.72L916.18 1741.72L919.29 1741.72L922.4 1741.72L925.5 1741.72L928.61 1741.72L931.72 1741.72L934.83 1741.72L937.94 1741.72L941.05 1741.72L944.16 1741.72L947.27 1741.72L950.38 1741.72L953.49 1741.72L956.6 1741.72L959.71 1741.72L962.81 1741.72L965.92 1741.72L969.03 1741.72L972.14 1741.72L975.25 1741.72L978.36 1741.72L981.47 1741.72L984.58 1741.72L987.69 1741.72L990.8 1741.72L993.91 1741.72L997.02 1741.72L1000.13 1741.72L1003.23 1741.72L1006.34 1741.72L1009.45 1741.72L1012.56 1741.72L1015.67 1741.72L1018.78 1741.72L1021.89 1741.72L1025 1741.72L1028.11 1741.72L1031.22 1741.72L1034.33 1741.72L1037.44 1741.72L1040.54 1741.72L1043.65 1741.72L1046.76 1741.72L1049.87 1741.72L1052.98 1741.72L1056.09 1741.72L1059.2 1741.72L1062.31 1741.72L1065.42 1741.72L1068.53 1741.72L1071.64 1741.72L1074.75 1741.72L1077.85 1741.72L1080.96 1741.72L1084.07 1741.72L1087.18 1741.72L1090.29 1741.72L1093.4 1741.72L1096.51 1741.72L1099.62 1741.71L1102.73 1741.71L1105.84 1741.71L1108.95 1741.7L1112.06 1741.7L1115.16 1741.69L1118.27 1741.68L1121.38 1741.67L1124.49 1741.66L1127.6 1741.64L1130.71 1741.63L1133.82 1741.6L1136.93 1741.58L1140.04 1741.55L1143.15 1741.52L1146.26 1741.49L1149.37 1741.45L1152.47 1741.41L1155.58 1741.37L1158.69 1741.33L1161.8 1741.28L1164.91 1741.24L1168.02 1741.19L1171.13 1741.15L1174.24 1741.11L1177.35 1741.08L1180.46 1741.05L1183.57 1741.02L1186.68 1741L1189.78 1740.98L1192.89 1740.98L1196 1740.97L1199.11 1740.97L1202.22 1740.98L1205.33 1740.98L1208.44 1740.99L1211.55 1741L1214.66 1741.01L1217.77 1741.01L1220.88 1741.01L1223.99 1741L1227.09 1740.98L1230.2 1740.96L1233.31 1740.92L1236.42 1740.87L1239.53 1740.81L1242.64 1740.73L1245.75 1740.64L1248.86 1740.54L1251.97 1740.43L1255.08 1740.3L1258.19 1740.16L1261.3 1740.01L1264.4 1739.84L1267.51 1739.68L1270.62 1739.5L1273.73 1739.32L1276.84 1739.14L1279.95 1738.95L1283.06 1738.77L1286.17 1738.59L1289.28 1738.42L1292.39 1738.25L1295.5 1738.08L1298.61 1737.93L1301.71 1737.78L1304.82 1737.64L1307.93 1737.51L1311.04 1737.39L1314.15 1737.27L1317.26 1737.15L1320.37 1737.03L1323.48 1736.91L1326.59 1736.78L1329.7 1736.64L1332.81 1736.49L1335.92 1736.31L1339.02 1736.12L1342.13 1735.9L1345.24 1735.65L1348.35 1735.38L1351.46 1735.08L1354.57 1734.75L1357.68 1734.39L1360.79 1734.02L1363.9 1733.62L1367.01 1733.22L1370.12 1732.81L1373.23 1732.41L1376.33 1732.01L1379.44 1731.64L1382.55 1731.29L1385.66 1730.97L1388.77 1730.7L1391.88 1730.47L1394.99 1730.29L1398.1 1730.17L1401.21 1730.1L1404.32 1730.09L1407.43 1730.13L1410.54 1730.23L1413.64 1730.38L1416.75 1730.59L1419.86 1730.84L1422.97 1731.13L1426.08 1731.46L1429.19 1731.83L1432.3 1732.22L1435.41 1732.64L1438.52 1733.08L1441.63 1733.54L1444.74 1734.02L1447.85 1734.5L1450.95 1734.99L1454.06 1735.48"/>
<path fill="none" stroke="#fc8d62" stroke-width="2.08" stroke-linecap="square" stroke-linejoin="round" d="M835.34 1741.4L838.45 1741.35L841.56 1741.3L844.67 1741.25L847.78 1741.2L850.88 1741.15L853.99 1741.09L857.1 1741.04L860.21 1740.99L863.32 1740.94L866.43 1740.9L869.54 1740.85L872.65 1740.81L875.76 1740.78L878.87 1740.75L881.98 1740.72L885.09 1740.7L888.19 1740.68L891.3 1740.66L894.41 1740.65L897.52 1740.65L900.63 1740.64L903.74 1740.64L906.85 1740.64L909.96 1740.64L913.07 1740.65L916.18 1740.66L919.29 1740.66L922.4 1740.67L925.5 1740.68L928.61 1740.68L931.72 1740.69L934.83 1740.69L937.94 1740.68L941.05 1740.67L944.16 1740.66L947.27 1740.64L950.38 1740.6L953.49 1740.57L956.6 1740.52L959.71 1740.46L962.81 1740.4L965.92 1740.33L969.03 1740.26L972.14 1740.19L975.25 1740.11L978.36 1740.03L981.47 1739.96L984.58 1739.89L987.69 1739.83L990.8 1739.78L993.91 1739.74L997.02 1739.71L1000.13 1739.69L1003.23 1739.69L1006.34 1739.7L1009.45 1739.72L1012.56 1739.75L1015.67 1739.79L1018.78 1739.84L1021.89 1739.9L1025 1739.95L1028.11 1740.01L1031.22 1740.06L1034.33 1740.11L1037.44 1740.14L1040.54 1740.16L1043.65 1740.17L1046.76 1740.15L1049.87 1740.12L1052.98 1740.06L1056.09 1739.98L1059.2 1739.87L1062.31 1739.74L1065.42 1739.57L1068.53 1739.38L1071.64 1739.15L1074.75 1738.89L1077.85 1738.6L1080.96 1738.27L1084.07 1737.91L1087.18 1737.51L1090.29 1737.08L1093.4 1736.61L1096.51 1736.11L1099.62 1735.57L1102.73 1735L1105.84 1734.39L1108.95 1733.76L1112.06 1733.09L1115.16 1732.4L1118.27 1731.68L1121.38 1730.95L1124.49 1730.19L1127.6 1729.42L1130.71 1728.64L1133.82 1727.85L1136.93 1727.05L1140.04 1726.24L1143.15 1725.43L1146.26 1724.61L1149.37 1723.78L1152.47 1722.95L1155.58 1722.1L1158.69 1721.25L1161.8 1720.37L1164.91 1719.48L1168.02 1718.56L1171.13 1717.62L1174.24 1716.64L1177.35 1715.64L1180.46 1714.61L1183.57 1713.55L1186.68 1712.45L1189.78 1711.34L1192.89 1710.19L1196 1709.04L1199.11 1707.86L1202.22 1706.69L1205.33 1705.51L1208.44 1704.34L1211.55 1703.19L1214.66 1702.05L1217.77 1700.94L1220.88 1699.87L1223.99 1698.83L1227.09 1697.84L1230.2 1696.88L1233.31 1695.97L1236.42 1695.11L1239.53 1694.29L1242.64 1693.52L1245.75 1692.8L1248.86 1692.11L1251.97 1691.47L1255.08 1690.87L1258.19 1690.3L1261.3 1689.78L1264.4 1689.29L1267.51 1688.83L1270.62 1688.41L1273.73 1688.03L1276.84 1687.69L1279.95 1687.39L1283.06 1687.13L1286.17 1686.92L1289.28 1686.76L1292.39 1686.65L1295.5 1686.59L1298.61 1686.59L1301.71 1686.64L1304.82 1686.76L1307.93 1686.94L1311.04 1687.19L1314.15 1687.49L1317.26 1687.86L1320.37 1688.29L1323.48 1688.78L1326.59 1689.33L1329.7 1689.94L1332.81 1690.61L1335.92 1691.34L1339.02 1692.13L1342.13 1692.97L1345.24 1693.86L1348.35 1694.82L1351.46 1695.83L1354.57 1696.89L1357.68 1698.02L1360.79 1699.2L1363.9 1700.43L1367.01 1701.72L1370.12 1703.06L1373.23 1704.45L1376.33 1705.87L1379.44 1707.33L1382.55 1708.82L1385.66 1710.32L1388.77 1711.83L1391.88 1713.35L1394.99 1714.85L1398.1 1716.33L1401.21 1717.78L1404.32 1719.2L1407.43 1720.57L1410.54 1721.88L1413.64 1723.14L1416.75 1724.34L1419.86 1725.48L1422.97 1726.56L1426.08 1727.57L1429.19 1728.53L1432.3 1729.44L1435.41 1730.29L1438.52 1731.1L1441.63 1731.87L1444.74 1732.6L1447.85 1733.3L1450.95 1733.96L1454.06 1734.6"/>
<path fill="none" stroke="#e5c494" stroke-width="2.08" stroke-linecap="square" stroke-linejoin="round" d="M835.34 1741.72L838.45 1741.72L841.56 1741.72L844.67 1741.72L847.78 1741.72L850.88 1741.72L853.99 1741.72L857.1 1741.72L860.21 1741.72L863.32 1741.72L866.43 1741.72L869.54 1741.72L872.65 1741.72L875.76 1741.72L878.87 1741.72L881.98 1741.72L885.09 1741.72L888.19 1741.72L891.3 1741.72L894.41 1741.72L897.52 1741.72L900.63 1741.72L903.74 1741.72L906.85 1741.72L909.96 1741.72L913.07 1741.72L916.18 1741.72L919.29 1741.72L922.4 1741.72L925.5 1741.72L928.61 1741.72L931.72 1741.72L934.83 1741.72L937.94 1741.72L941.05 1741.72L944.16 1741.72L947.27 1741.72L950.38 1741.72L953.49 1741.72L956.6 1741.72L959.71 1741.72L962.81 1741.72L965.92 1741.72L969.03 1741.72L972.14 1741.72L975.25 1741.72L978.36 1741.72L981.47 1741.72L984.58 1741.72L987.69 1741.72L990.8 1741.72L993.91 1741.72L997.02 1741.72L1000.13 1741.72L1003.23 1741.72L1006.34 1741.72L1009.45 1741.72L1012.56 1741.72L1015.67 1741.72L1018.78 1741.72L1021.89 1741.72L1025 1741.72L1028.11 1741.72L1031.22 1741.72L1034.33 1741.72L1037.44 1741.72L1040.54 1741.72L1043.65 1741.72L1046.76 1741.72L1049.87 1741.72L1052.98 1741.72L1056.09 1741.72L1059.2 1741.72L1062.31 1741.72L1065.42 1741.72L1068.53 1741.72L1071.64 1741.72L1074.75 1741.72L1077.85 1741.72L1080.96 1741.72L1084.07 1741.72L1087.18 1741.72L1090.29 1741.72L1093.4 1741.72L1096.51 1741.72L1099.62 1741.72L1102.73 1741.72L1105.84 1741.72L1108.95 1741.72L1112.06 1741.72L1115.16 1741.72L1118.27 1741.72L1121.38 1741.72L1124.49 1741.72L1127.6 1741.72L1130.71 1741.72L1133.82 1741.72L1136.93 1741.72L1140.04 1741.72L1143.15 1741.72L1146.26 1741.72L1149.37 1741.72L1152.47 1741.72L1155.58 1741.72L1158.69 1741.71L1161.8 1741.71L1164.91 1741.71L1168.02 1741.7L1171.13 1741.7L1174.24 1741.69L1177.35 1741.68L1180.46 1741.67L1183.57 1741.66L1186.68 1741.65L1189.78 1741.63L1192.89 1741.61L1196 1741.59L1199.11 1741.57L1202.22 1741.54L1205.33 1741.51L1208.44 1741.48L1211.55 1741.45L1214.66 1741.41L1217.77 1741.38L1220.88 1741.34L1223.99 1741.3L1227.09 1741.26L1230.2 1741.23L1233.31 1741.19L1236.42 1741.16L1239.53 1741.13L1242.64 1741.1L1245.75 1741.07L1248.86 1741.05L1251.97 1741.04L1255.08 1741.03L1258.19 1741.02L1261.3 1741.01L1264.4 1741.01L1267.51 1741.01L1270.62 1741.01L1273.73 1741.01L1276.84 1741L1279.95 1741L1283.06 1740.99L1286.17 1740.97L1289.28 1740.94L1292.39 1740.91L1295.5 1740.87L1298.61 1740.82L1301.71 1740.75L1304.82 1740.68L1307.93 1740.59L1311.04 1740.5L1314.15 1740.39L1317.26 1740.28L1320.37 1740.16L1323.48 1740.03L1326.59 1739.9L1329.7 1739.77L1332.81 1739.63L1335.92 1739.49L1339.02 1739.36L1342.13 1739.23L1345.24 1739.1L1348.35 1738.98L1351.46 1738.86L1354.57 1738.74L1357.68 1738.63L1360.79 1738.52L1363.9 1738.41L1367.01 1738.3L1370.12 1738.19L1373.23 1738.08L1376.33 1737.97L1379.44 1737.85L1382.55 1737.73L1385.66 1737.61L1388.77 1737.49L1391.88 1737.36L1394.99 1737.23L1398.1 1737.1L1401.21 1736.98L1404.32 1736.86L1407.43 1736.76L1410.54 1736.66L1413.64 1736.58L1416.75 1736.52L1419.86 1736.48L1422.97 1736.46L1426.08 1736.47L1429.19 1736.5L1432.3 1736.57L1435.41 1736.66L1438.52 1736.77L1441.63 1736.92L1444.74 1737.09L1447.85 1737.28L1450.95 1737.49L1454.06 1737.72"/>
<path fill="none" stroke="#e78ac3" stroke-width="2.08" stroke-linecap="square" stroke-linejoin="round" d="M835.34 1741.72L838.45 1741.72L841.56 1741.72L844.67 1741.72L847.78 1741.72L850.88 1741.72L853.99 1741.72L857.1 1741.72L860.21 1741.72L863.32 1741.72L866.43 1741.72L869.54 1741.72L872.65 1741.72L875.76 1741.72L878.87 1741.72L881.98 1741.72L885.09 1741.72L888.19 1741.72L891.3 1741.72L894.41 1741.72L897.52 1741.72L900.63 1741.72L903.74 1741.72L906.85 1741.72L909.96 1741.72L913.07 1741.72L916.18 1741.72L919.29 1741.72L922.4 1741.72L925.5 1741.72L928.61 1741.72L931.72 1741.72L934.83 1741.72L937.94 1741.72L941.05 1741.72L944.16 1741.72L947.27 1741.72L950.38 1741.72L953.49 1741.71L956.6 1741.71L959.71 1741.71L962.81 1741.7L965.92 1741.7L969.03 1741.69L972.14 1741.68L975.25 1741.68L978.36 1741.66L981.47 1741.65L984.58 1741.63L987.69 1741.61L990.8 1741.59L993.91 1741.57L997.02 1741.54L1000.13 1741.51L1003.23 1741.47L1006.34 1741.44L1009.45 1741.39L1012.56 1741.35L1015.67 1741.31L1018.78 1741.26L1021.89 1741.21L1025 1741.16L1028.11 1741.1L1031.22 1741.05L1034.33 1741L1037.44 1740.94L1040.54 1740.89L1043.65 1740.83L1046.76 1740.77L1049.87 1740.71L1052.98 1740.64L1056.09 1740.58L1059.2 1740.5L1062.31 1740.43L1065.42 1740.34L1068.53 1740.25L1071.64 1740.15L1074.75 1740.04L1077.85 1739.92L1080.96 1739.8L1084.07 1739.67L1087.18 1739.53L1090.29 1739.38L1093.4 1739.23L1096.51 1739.07L1099.62 1738.92L1102.73 1738.76L1105.84 1738.61L1108.95 1738.45L1112.06 1738.3L1115.16 1738.16L1118.27 1738.02L1121.38 1737.89L1124.49 1737.77L1127.6 1737.66L1130.71 1737.56L1133.82 1737.46L1136.93 1737.37L1140.04 1737.29L1143.15 1737.22L1146.26 1737.16L1149.37 1737.1L1152.47 1737.06L1155.58 1737.02L1158.69 1736.99L1161.8 1736.96L1164.91 1736.95L1168.02 1736.94L1171.13 1736.94L1174.24 1736.95L1177.35 1736.96L1180.46 1736.99L1183.57 1737.02L1186.68 1737.07L1189.78 1737.12L1192.89 1737.18L1196 1737.25L1199.11 1737.33L1202.22 1737.42L1205.33 1737.52L1208.44 1737.62L1211.55 1737.73L1214.66 1737.85L1217.77 1737.98L1220.88 1738.11L1223.99 1738.25L1227.09 1738.39L1230.2 1738.54L1233.31 1738.7L1236.42 1738.86L1239.53 1739.02L1242.64 1739.18L1245.75 1739.35L1248.86 1739.51L1251.97 1739.68L1255.08 1739.84L1258.19 1740L1261.3 1740.16L1264.4 1740.31L1267.51 1740.45L1270.62 1740.59L1273.73 1740.72L1276.84 1740.84L1279.95 1740.95L1283.06 1741.05L1286.17 1741.15L1289.28 1741.23L1292.39 1741.3L1295.5 1741.37L1298.61 1741.43L1301.71 1741.48L1304.82 1741.52L1307.93 1741.56L1311.04 1741.59L1314.15 1741.62L1317.26 1741.64L1320.37 1741.66L1323.48 1741.67L1326.59 1741.68L1329.7 1741.69L1332.81 1741.7L1335.92 1741.71L1339.02 1741.71L1342.13 1741.71L1345.24 1741.72L1348.35 1741.72L1351.46 1741.72L1354.57 1741.72L1357.68 1741.72L1360.79 1741.72L1363.9 1741.72L1367.01 1741.72L1370.12 1741.72L1373.23 1741.72L1376.33 1741.72L1379.44 1741.72L1382.55 1741.72L1385.66 1741.72L1388.77 1741.72L1391.88 1741.72L1394.99 1741.72L1398.1 1741.72L1401.21 1741.72L1404.32 1741.72L1407.43 1741.72L1410.54 1741.72L1413.64 1741.72L1416.75 1741.72L1419.86 1741.72L1422.97 1741.72L1426.08 1741.72L1429.19 1741.72L1432.3 1741.72L1435.41 1741.72L1438.52 1741.72L1441.63 1741.72L1444.74 1741.72L1447.85 1741.72L1450.95 1741.72L1454.06 1741.72"/>
<path fill="none" stroke="#a6d854" stroke-width="2.08" stroke-linecap="square" stroke-linejoin="round" d="M835.34 1741.72L838.45 1741.72L841.56 1741.72L844.67 1741.72L847.78 1741.72L850.88 1741.72L853.99 1741.72L857.1 1741.72L860.21 1741.72L863.32 1741.72L866.43 1741.72L869.54 1741.72L872.65 1741.72L875.76 1741.71L878.87 1741.71L881.98 1741.71L885.09 1741.7L888.19 1741.69L891.3 1741.68L894.41 1741.66L897.52 1741.64L900.63 1741.61L903.74 1741.58L906.85 1741.54L909.96 1741.49L913.07 1741.43L916.18 1741.36L919.29 1741.28L922.4 1741.19L925.5 1741.09L928.61 1740.98L931.72 1740.86L934.83 1740.75L937.94 1740.63L941.05 1740.51L944.16 1740.4L947.27 1740.3L950.38 1740.21L953.49 1740.14L956.6 1740.08L959.71 1740.05L962.81 1740.04L965.92 1740.05L969.03 1740.07L972.14 1740.12L975.25 1740.18L978.36 1740.26L981.47 1740.34L984.58 1740.42L987.69 1740.51L990.8 1740.58L993.91 1740.66L997.02 1740.72L1000.13 1740.76L1003.23 1740.8L1006.34 1740.82L1009.45 1740.83L1012.56 1740.83L1015.67 1740.82L1018.78 1740.81L1021.89 1740.8L1025 1740.78L1028.11 1740.77L1031.22 1740.76L1034.33 1740.76L1037.44 1740.76L1040.54 1740.77L1043.65 1740.78L1046.76 1740.79L1049.87 1740.79L1052.98 1740.79L1056.09 1740.79L1059.2 1740.76L1062.31 1740.72L1065.42 1740.66L1068.53 1740.58L1071.64 1740.47L1074.75 1740.33L1077.85 1740.17L1080.96 1739.99L1084.07 1739.78L1087.18 1739.55L1090.29 1739.31L1093.4 1739.06L1096.51 1738.8L1099.62 1738.53L1102.73 1738.28L1105.84 1738.04L1108.95 1737.81L1112.06 1737.61L1115.16 1737.44L1118.27 1737.31L1121.38 1737.21L1124.49 1737.15L1127.6 1737.12L1130.71 1737.13L1133.82 1737.17L1136.93 1737.24L1140.04 1737.32L1143.15 1737.41L1146.26 1737.49L1149.37 1737.56L1152.47 1737.6L1155.58 1737.6L1158.69 1737.56L1161.8 1737.47L1164.91 1737.33L1168.02 1737.12L1171.13 1736.85L1174.24 1736.51L1177.35 1736.12L1180.46 1735.68L1183.57 1735.18L1186.68 1734.64L1189.78 1734.06L1192.89 1733.44L1196 1732.78L1199.11 1732.09L1202.22 1731.37L1205.33 1730.62L1208.44 1729.84L1211.55 1729.03L1214.66 1728.18L1217.77 1727.3L1220.88 1726.39L1223.99 1725.44L1227.09 1724.47L1230.2 1723.46L1233.31 1722.42L1236.42 1721.35L1239.53 1720.26L1242.64 1719.15L1245.75 1718.02L1248.86 1716.87L1251.97 1715.71L1255.08 1714.54L1258.19 1713.37L1261.3 1712.2L1264.4 1711.03L1267.51 1709.87L1270.62 1708.72L1273.73 1707.58L1276.84 1706.45L1279.95 1705.32L1283.06 1704.19L1286.17 1703.04L1289.28 1701.88L1292.39 1700.69L1295.5 1699.45L1298.61 1698.16L1301.71 1696.8L1304.82 1695.37L1307.93 1693.86L1311.04 1692.27L1314.15 1690.61L1317.26 1688.88L1320.37 1687.09L1323.48 1685.26L1326.59 1683.39L1329.7 1681.51L1332.81 1679.63L1335.92 1677.75L1339.02 1675.89L1342.13 1674.04L1345.24 1672.21L1348.35 1670.4L1351.46 1668.58L1354.57 1666.76L1357.68 1664.91L1360.79 1663.02L1363.9 1661.07L1367.01 1659.04L1370.12 1656.92L1373.23 1654.7L1376.33 1652.36L1379.44 1649.9L1382.55 1647.32L1385.66 1644.61L1388.77 1641.8L1391.88 1638.9L1394.99 1635.95L1398.1 1632.98L1401.21 1630.04L1404.32 1627.21L1407.43 1624.56L1410.54 1622.18L1413.64 1620.15L1416.75 1618.6L1419.86 1617.61L1422.97 1617.3L1426.08 1617.73L1429.19 1618.99L1432.3 1621.12L1435.41 1624.15L1438.52 1628.07L1441.63 1632.84L1444.74 1638.39L1447.85 1644.62L1450.95 1651.4L1454.06 1658.6"/>
<path fill="none" stroke="#b3b3b3" stroke-width="2.08" stroke-linecap="square" stroke-linejoin="round" d="M835.34 1741.72L838.45 1741.72L841.56 1741.72L844.67 1741.72L847.78 1741.72L850.88 1741.72L853.99 1741.72L857.1 1741.72L860.21 1741.72L863.32 1741.72L866.43 1741.72L869.54 1741.72L872.65 1741.72L875.76 1741.72L878.87 1741.72L881.98 1741.72L885.09 1741.72L888.19 1741.72L891.3 1741.72L894.41 1741.72L897.52 1741.72L900.63 1741.72L903.74 1741.72L906.85 1741.72L909.96 1741.72L913.07 1741.72L916.18 1741.72L919.29 1741.72L922.4 1741.72L925.5 1741.72L928.61 1741.72L931.72 1741.72L934.83 1741.72L937.94 1741.72L941.05 1741.72L944.16 1741.72L947.27 1741.72L950.38 1741.72L953.49 1741.72L956.6 1741.72L959.71 1741.72L962.81 1741.72L965.92 1741.72L969.03 1741.72L972.14 1741.72L975.25 1741.72L978.36 1741.72L981.47 1741.72L984.58 1741.72L987.69 1741.72L990.8 1741.72L993.91 1741.72L997.02 1741.72L1000.13 1741.72L1003.23 1741.72L1006.34 1741.72L1009.45 1741.72L1012.56 1741.72L1015.67 1741.72L1018.78 1741.72L1021.89 1741.72L1025 1741.71L1028.11 1741.7L1031.22 1741.68L1034.33 1741.66L1037.44 1741.62L1040.54 1741.57L1043.65 1741.49L1046.76 1741.38L1049.87 1741.23L1052.98 1741.05L1056.09 1740.84L1059.2 1740.58L1062.31 1740.31L1065.42 1740.02L1068.53 1739.73L1071.64 1739.47L1074.75 1739.24L1077.85 1739.07L1080.96 1738.95L1084.07 1738.9L1087.18 1738.91L1090.29 1738.96L1093.4 1739.05L1096.51 1739.16L1099.62 1739.27L1102.73 1739.38L1105.84 1739.47L1108.95 1739.54L1112.06 1739.59L1115.16 1739.6L1118.27 1739.57L1121.38 1739.48L1124.49 1739.32L1127.6 1739.09L1130.71 1738.76L1133.82 1738.33L1136.93 1737.82L1140.04 1737.22L1143.15 1736.56L1146.26 1735.86L1149.37 1735.14L1152.47 1734.43L1155.58 1733.75L1158.69 1733.11L1161.8 1732.51L1164.91 1731.94L1168.02 1731.4L1171.13 1730.85L1174.24 1730.28L1177.35 1729.65L1180.46 1728.95L1183.57 1728.15L1186.68 1727.23L1189.78 1726.19L1192.89 1725.01L1196 1723.67L1199.11 1722.17L1202.22 1720.51L1205.33 1718.68L1208.44 1716.71L1211.55 1714.6L1214.66 1712.38L1217.77 1710.09L1220.88 1707.77L1223.99 1705.44L1227.09 1703.15L1230.2 1700.91L1233.31 1698.76L1236.42 1696.69L1239.53 1694.72L1242.64 1692.82L1245.75 1690.98L1248.86 1689.17L1251.97 1687.33L1255.08 1685.41L1258.19 1683.32L1261.3 1680.98L1264.4 1678.33L1267.51 1675.3L1270.62 1671.86L1273.73 1668.01L1276.84 1663.79L1279.95 1659.27L1283.06 1654.58L1286.17 1649.82L1289.28 1645.11L1292.39 1640.54L1295.5 1636.17L1298.61 1632.01L1301.71 1628.03L1304.82 1624.16L1307.93 1620.3L1311.04 1616.33L1314.15 1612.15L1317.26 1607.68L1320.37 1602.88L1323.48 1597.73L1326.59 1592.25L1329.7 1586.49L1332.81 1580.48L1335.92 1574.28L1339.02 1567.92L1342.13 1561.4L1345.24 1554.74L1348.35 1547.96L1351.46 1541.07L1354.57 1534.11L1357.68 1527.13L1360.79 1520.17L1363.9 1513.27L1367.01 1506.43L1370.12 1499.61L1373.23 1492.73L1376.33 1485.66L1379.44 1478.26L1382.55 1470.39L1385.66 1461.94L1388.77 1452.87L1391.88 1443.2L1394.99 1433.06L1398.1 1422.65L1401.21 1412.27L1404.32 1402.24L1407.43 1392.98L1410.54 1384.9L1413.64 1378.43L1416.75 1373.98L1419.86 1371.96L1422.97 1372.73L1426.08 1376.64L1429.19 1383.94L1432.3 1394.83L1435.41 1409.38L1438.52 1427.51L1441.63 1448.96L1444.74 1473.29L1447.85 1499.86L1450.95 1527.89L1454.06 1556.46"/>
<path fill="none" stroke="#a6d854" stroke-width="2.08" stroke-linecap="square" stroke-linejoin="round" d="M835.34 1741.2L838.45 1741.11L841.56 1741L844.67 1740.89L847.78 1740.76L850.88 1740.63L853.99 1740.49L857.1 1740.34L860.21 1740.19L863.32 1740.04L866.43 1739.89L869.54 1739.74L872.65 1739.6L875.76 1739.46L878.87 1739.34L881.98 1739.24L885.09 1739.15L888.19 1739.08L891.3 1739.03L894.41 1739L897.52 1739L900.63 1739.01L903.74 1739.03L906.85 1739.08L909.96 1739.13L913.07 1739.19L916.18 1739.25L919.29 1739.31L922.4 1739.36L925.5 1739.39L928.61 1739.39L931.72 1739.37L934.83 1739.31L937.94 1739.2L941.05 1739.05L944.16 1738.84L947.27 1738.57L950.38 1738.23L953.49 1737.82L956.6 1737.35L959.71 1736.8L962.81 1736.17L965.92 1735.47L969.03 1734.7L972.14 1733.86L975.25 1732.96L978.36 1732L981.47 1730.98L984.58 1729.91L987.69 1728.79L990.8 1727.65L993.91 1726.47L997.02 1725.28L1000.13 1724.08L1003.23 1722.87L1006.34 1721.67L1009.45 1720.48L1012.56 1719.31L1015.67 1718.16L1018.78 1717.05L1021.89 1715.97L1025 1714.92L1028.11 1713.91L1031.22 1712.94L1034.33 1712.01L1037.44 1711.11L1040.54 1710.24L1043.65 1709.4L1046.76 1708.58L1049.87 1707.77L1052.98 1706.98L1056.09 1706.18L1059.2 1705.39L1062.31 1704.58L1065.42 1703.77L1068.53 1702.93L1071.64 1702.06L1074.75 1701.17L1077.85 1700.25L1080.96 1699.29L1084.07 1698.3L1087.18 1697.27L1090.29 1696.2L1093.4 1695.09L1096.51 1693.95L1099.62 1692.77L1102.73 1691.56L1105.84 1690.31L1108.95 1689.03L1112.06 1687.72L1115.16 1686.37L1118.27 1684.99L1121.38 1683.58L1124.49 1682.14L1127.6 1680.66L1130.71 1679.14L1133.82 1677.58L1136.93 1675.97L1140.04 1674.32L1143.15 1672.6L1146.26 1670.83L1149.37 1668.99L1152.47 1667.07L1155.58 1665.08L1158.69 1663.01L1161.8 1660.85L1164.91 1658.6L1168.02 1656.27L1171.13 1653.86L1174.24 1651.37L1177.35 1648.81L1180.46 1646.19L1183.57 1643.52L1186.68 1640.82L1189.78 1638.09L1192.89 1635.37L1196 1632.66L1199.11 1629.99L1202.22 1627.39L1205.33 1624.86L1208.44 1622.44L1211.55 1620.14L1214.66 1617.99L1217.77 1616L1220.88 1614.19L1223.99 1612.58L1227.09 1611.18L1230.2 1610L1233.31 1609.05L1236.42 1608.34L1239.53 1607.86L1242.64 1607.62L1245.75 1607.61L1248.86 1607.82L1251.97 1608.23L1255.08 1608.84L1258.19 1609.63L1261.3 1610.56L1264.4 1611.62L1267.51 1612.78L1270.62 1614.01L1273.73 1615.29L1276.84 1616.59L1279.95 1617.89L1283.06 1619.17L1286.17 1620.42L1289.28 1621.63L1292.39 1622.8L1295.5 1623.93L1298.61 1625.02L1301.71 1626.08L1304.82 1627.14L1307.93 1628.2L1311.04 1629.29L1314.15 1630.42L1317.26 1631.61L1320.37 1632.88L1323.48 1634.23L1326.59 1635.68L1329.7 1637.23L1332.81 1638.88L1335.92 1640.62L1339.02 1642.45L1342.13 1644.34L1345.24 1646.3L1348.35 1648.29L1351.46 1650.3L1354.57 1652.32L1357.68 1654.32L1360.79 1656.3L1363.9 1658.24L1367.01 1660.13L1370.12 1661.96L1373.23 1663.75L1376.33 1665.48L1379.44 1667.17L1382.55 1668.83L1385.66 1670.46L1388.77 1672.07L1391.88 1673.69L1394.99 1675.32L1398.1 1676.98L1401.21 1678.68L1404.32 1680.44L1407.43 1682.26L1410.54 1684.14L1413.64 1686.11L1416.75 1688.15L1419.86 1690.27L1422.97 1692.47L1426.08 1694.75L1429.19 1697.09L1432.3 1699.49L1435.41 1701.94L1438.52 1704.42L1441.63 1706.91L1444.74 1709.41L1447.85 1711.9L1450.95 1714.35L1454.06 1716.75"/>
<path fill="none" stroke="#e5c494" stroke-width="2.08" stroke-linecap="square" stroke-linejoin="round" d="M835.34 1741.72L838.45 1741.72L841.56 1741.72L844.67 1741.72L847.78 1741.72L850.88 1741.72L853.99 1741.72L857.1 1741.72L860.21 1741.72L863.32 1741.72L866.43 1741.72L869.54 1741.72L872.65 1741.72L875.76 1741.72L878.87 1741.72L881.98 1741.72L885.09 1741.72L888.19 1741.72L891.3 1741.72L894.41 1741.72L897.52 1741.72L900.63 1741.72L903.74 1741.72L906.85 1741.72L909.96 1741.72L913.07 1741.72L916.18 1741.72L919.29 1741.72L922.4 1741.72L925.5 1741.72L928.61 1741.72L931.72 1741.72L934.83 1741.72L937.94 1741.72L941.05 1741.72L944.16 1741.72L947.27 1741.72L950.38 1741.72L953.49 1741.72L956.6 1741.72L959.71 1741.72L962.81 1741.72L965.92 1741.72L969.03 1741.72L972.14 1741.72L975.25 1741.72L978.36 1741.72L981.47 1741.72L984.58 1741.72L987.69 1741.72L990.8 1741.72L993.91 1741.72L997.02 1741.72L1000.13 1741.72L1003.23 1741.72L1006.34 1741.72L1009.45 1741.72L1012.56 1741.72L1015.67 1741.72L1018.78 1741.71L1021.89 1741.7L1025 1741.68L1028.11 1741.64L1031.22 1741.58L1034.33 1741.49L1037.44 1741.36L1040.54 1741.16L1043.65 1740.9L1046.76 1740.55L1049.87 1740.1L1052.98 1739.56L1056.09 1738.92L1059.2 1738.21L1062.31 1737.44L1065.42 1736.66L1068.53 1735.89L1071.64 1735.18L1074.75 1734.56L1077.85 1734.06L1080.96 1733.68L1084.07 1733.42L1087.18 1733.25L1090.29 1733.13L1093.4 1733.04L1096.51 1732.93L1099.62 1732.77L1102.73 1732.57L1105.84 1732.3L1108.95 1731.97L1112.06 1731.57L1115.16 1731.1L1118.27 1730.55L1121.38 1729.88L1124.49 1729.07L1127.6 1728.09L1130.71 1726.94L1133.82 1725.63L1136.93 1724.18L1140.04 1722.63L1143.15 1721.04L1146.26 1719.47L1149.37 1717.98L1152.47 1716.59L1155.58 1715.34L1158.69 1714.22L1161.8 1713.19L1164.91 1712.21L1168.02 1711.22L1171.13 1710.15L1174.24 1708.92L1177.35 1707.46L1180.46 1705.71L1183.57 1703.61L1186.68 1701.11L1189.78 1698.17L1192.89 1694.77L1196 1690.87L1199.11 1686.49L1202.22 1681.65L1205.33 1676.42L1208.44 1670.91L1211.55 1665.27L1214.66 1659.69L1217.77 1654.35L1220.88 1649.43L1223.99 1645.08L1227.09 1641.37L1230.2 1638.28L1233.31 1635.74L1236.42 1633.56L1239.53 1631.49L1242.64 1629.26L1245.75 1626.56L1248.86 1623.07L1251.97 1618.5L1255.08 1612.63L1258.19 1605.27L1261.3 1596.31L1264.4 1585.76L1267.51 1573.67L1270.62 1560.22L1273.73 1545.67L1276.84 1530.36L1279.95 1514.66L1283.06 1498.99L1286.17 1483.74L1289.28 1469.27L1292.39 1455.87L1295.5 1443.7L1298.61 1432.83L1301.71 1423.17L1304.82 1414.52L1307.93 1406.57L1311.04 1398.93L1314.15 1391.19L1317.26 1382.92L1320.37 1373.77L1323.48 1363.5L1326.59 1351.95L1329.7 1339.16L1332.81 1325.26L1335.92 1310.51L1339.02 1295.26L1342.13 1279.91L1345.24 1264.83L1348.35 1250.34L1351.46 1236.66L1354.57 1223.87L1357.68 1211.91L1360.79 1200.58L1363.9 1189.57L1367.01 1178.52L1370.12 1167.09L1373.23 1154.97L1376.33 1142.01L1379.44 1128.24L1382.55 1113.86L1385.66 1099.3L1388.77 1085.1L1391.88 1071.89L1394.99 1060.25L1398.1 1050.67L1401.21 1043.46L1404.32 1038.72L1407.43 1036.41L1410.54 1036.38L1413.64 1038.49L1416.75 1042.7L1419.86 1049.19L1422.97 1058.38L1426.08 1070.9L1429.19 1087.59L1432.3 1109.31L1435.41 1136.84L1438.52 1170.71L1441.63 1211L1444.74 1257.24L1447.85 1308.38L1450.95 1362.83L1454.06 1418.56"/>
<path fill="none" stroke="#e78ac3" stroke-width="2.08" stroke-linecap="square" stroke-linejoin="round" d="M835.34 1740.88L838.45 1740.89L841.56 1740.9L844.67 1740.92L847.78 1740.95L850.88 1740.99L853.99 1741.02L857.1 1741.06L860.21 1741.1L863.32 1741.12L866.43 1741.14L869.54 1741.14L872.65 1741.13L875.76 1741.09L878.87 1741.03L881.98 1740.95L885.09 1740.83L888.19 1740.68L891.3 1740.5L894.41 1740.28L897.52 1740.02L900.63 1739.73L903.74 1739.4L906.85 1739.04L909.96 1738.65L913.07 1738.23L916.18 1737.78L919.29 1737.32L922.4 1736.84L925.5 1736.36L928.61 1735.88L931.72 1735.4L934.83 1734.94L937.94 1734.49L941.05 1734.07L944.16 1733.68L947.27 1733.31L950.38 1732.97L953.49 1732.66L956.6 1732.38L959.71 1732.12L962.81 1731.87L965.92 1731.63L969.03 1731.39L972.14 1731.14L975.25 1730.86L978.36 1730.56L981.47 1730.22L984.58 1729.83L987.69 1729.38L990.8 1728.86L993.91 1728.28L997.02 1727.63L1000.13 1726.9L1003.23 1726.1L1006.34 1725.24L1009.45 1724.31L1012.56 1723.33L1015.67 1722.3L1018.78 1721.23L1021.89 1720.14L1025 1719.03L1028.11 1717.92L1031.22 1716.82L1034.33 1715.73L1037.44 1714.66L1040.54 1713.63L1043.65 1712.63L1046.76 1711.67L1049.87 1710.74L1052.98 1709.85L1056.09 1708.99L1059.2 1708.14L1062.31 1707.31L1065.42 1706.48L1068.53 1705.64L1071.64 1704.78L1074.75 1703.89L1077.85 1702.96L1080.96 1701.97L1084.07 1700.92L1087.18 1699.81L1090.29 1698.62L1093.4 1697.35L1096.51 1696L1099.62 1694.57L1102.73 1693.05L1105.84 1691.45L1108.95 1689.75L1112.06 1687.96L1115.16 1686.07L1118.27 1684.08L1121.38 1681.99L1124.49 1679.78L1127.6 1677.45L1130.71 1674.98L1133.82 1672.38L1136.93 1669.62L1140.04 1666.69L1143.15 1663.59L1146.26 1660.3L1149.37 1656.82L1152.47 1653.15L1155.58 1649.28L1158.69 1645.22L1161.8 1640.99L1164.91 1636.59L1168.02 1632.05L1171.13 1627.4L1174.24 1622.66L1177.35 1617.87L1180.46 1613.07L1183.57 1608.3L1186.68 1603.6L1189.78 1599L1192.89 1594.54L1196 1590.24L1199.11 1586.15L1202.22 1582.28L1205.33 1578.66L1208.44 1575.3L1211.55 1572.23L1214.66 1569.45L1217.77 1567L1220.88 1564.87L1223.99 1563.08L1227.09 1561.65L1230.2 1560.58L1233.31 1559.87L1236.42 1559.53L1239.53 1559.55L1242.64 1559.9L1245.75 1560.59L1248.86 1561.56L1251.97 1562.8L1255.08 1564.27L1258.19 1565.91L1261.3 1567.69L1264.4 1569.57L1267.51 1571.5L1270.62 1573.44L1273.73 1575.36L1276.84 1577.24L1279.95 1579.04L1283.06 1580.77L1286.17 1582.41L1289.28 1583.95L1292.39 1585.42L1295.5 1586.81L1298.61 1588.14L1301.71 1589.43L1304.82 1590.69L1307.93 1591.94L1311.04 1593.21L1314.15 1594.5L1317.26 1595.85L1320.37 1597.27L1323.48 1598.79L1326.59 1600.42L1329.7 1602.19L1332.81 1604.11L1335.92 1606.2L1339.02 1608.47L1342.13 1610.94L1345.24 1613.6L1348.35 1616.47L1351.46 1619.52L1354.57 1622.76L1357.68 1626.16L1360.79 1629.7L1363.9 1633.35L1367.01 1637.09L1370.12 1640.89L1373.23 1644.71L1376.33 1648.53L1379.44 1652.33L1382.55 1656.08L1385.66 1659.78L1388.77 1663.41L1391.88 1666.97L1394.99 1670.46L1398.1 1673.87L1401.21 1677.22L1404.32 1680.51L1407.43 1683.74L1410.54 1686.92L1413.64 1690.05L1416.75 1693.14L1419.86 1696.19L1422.97 1699.19L1426.08 1702.13L1429.19 1705.02L1432.3 1707.84L1435.41 1710.59L1438.52 1713.25L1441.63 1715.82L1444.74 1718.29L1447.85 1720.65L1450.95 1722.89L1454.06 1725"/>
</g>
<path fill="none" stroke="#000" stroke-width="1.11" stroke-linecap="square" d="M804.5 930.5H1485.5V1742.5H804.5Z"/>
<path fill="none" stroke="#000" stroke-width="1.11" d="M817.5 1742.5v4.86M896.5 1742.5v4.86M976.5 1742.5v4.86M1056.5 1742.5v4.86M1135.5 1742.5v4.86M1215.5 1742.5v4.86M1295.5 1742.5v4.86M1374.5 1742.5v4.86M1454.5 1742.5v4.86M804.5 1742.5h-4.86M804.5 1570.5h-4.86M804.5 1399.5h-4.86M804.5 1228.5h-4.86M804.5 1057.5h-4.86"/>
<g font-family="&quot;Liberation Sans&quot;, sans-serif" fill="#000" style="font-kerning:none">
<text x="796.07" y="1762.44" font-size="13.89" textLength="41.62" lengthAdjust="spacingAndGlyphs">&#8722;0.40</text>
<text x="875.76" y="1762.44" font-size="13.89" textLength="41.37" lengthAdjust="spacingAndGlyphs">&#8722;0.35</text>
<text x="955.45" y="1762.44" font-size="13.89" textLength="41.62" lengthAdjust="spacingAndGlyphs">&#8722;0.30</text>
<text x="1035.15" y="1762.44" font-size="13.89" textLength="41.37" lengthAdjust="spacingAndGlyphs">&#8722;0.25</text>
<text x="1114.83" y="1762.44" font-size="13.89" textLength="41.62" lengthAdjust="spacingAndGlyphs">&#8722;0.20</text>
<text x="1194.47" y="1762.44" font-size="13.89" textLength="41.37" lengthAdjust="spacingAndGlyphs">&#8722;0.15</text>
<text x="1274.15" y="1762.44" font-size="13.89" textLength="41.62" lengthAdjust="spacingAndGlyphs">&#8722;0.10</text>
<text x="1353.91" y="1762.44" font-size="13.89" textLength="41.37" lengthAdjust="spacingAndGlyphs">&#8722;0.05</text>
<text x="1439.06" y="1762.44" font-size="13.89" textLength="30.3" lengthAdjust="spacingAndGlyphs">0.00</text>
<text x="786.27" y="1747.22" font-size="13.89" textLength="8.14" lengthAdjust="spacingAndGlyphs">0</text>
<text x="786.27" y="1575.92" font-size="13.89" textLength="7.78" lengthAdjust="spacingAndGlyphs">1</text>
<text x="786.24" y="1404.62" font-size="13.89" textLength="7.85" lengthAdjust="spacingAndGlyphs">2</text>
<text x="786.45" y="1233.32" font-size="13.89" textLength="7.82" lengthAdjust="spacingAndGlyphs">3</text>
<text x="786.27" y="1062.02" font-size="13.89" textLength="8.14" lengthAdjust="spacingAndGlyphs">4</text>
<text x="1124.97" y="1782" font-size="13.89" textLength="38.15" lengthAdjust="spacingAndGlyphs">Alpha</text>
<text transform="translate(777.25,1363.85) rotate(-90)" x="0.08" font-size="13.89" textLength="52.34" lengthAdjust="spacingAndGlyphs">Density</text>
<text x="975.56" y="921.5" font-size="16.67" textLength="339.25" lengthAdjust="spacingAndGlyphs">Negative Alpha Values by Model Country</text>
</g>
<rect x="811.35" y="936.78" width="109.61" height="318.33" rx="2.78" fill="#fff" fill-opacity="0.8" stroke="#ccc" stroke-opacity="0.8" stroke-width="1.39"/>
<rect x="836.5" y="965.5" width="27" height="9" fill="none" fill-opacity="0" stroke="#e78ac3" stroke-opacity="0.5" stroke-width="3.12"/>
<rect x="836.5" y="986.5" width="27" height="9" fill="none" fill-opacity="0" stroke="#e5c494" stroke-opacity="0.5" stroke-width="3.12"/>
<rect x="836.5" y="1006.5" width="27" height="10" fill="none" fill-opacity="0" stroke="#a6d854" stroke-opacity="0.5" stroke-width="3.12"/>
<rect x="836.5" y="1027.5" width="27" height="10" fill="none" fill-opacity="0" stroke="#b3b3b3" stroke-opacity="0.5" stroke-width="3.12"/>
<rect x="836.5" y="1048.5" width="27" height="10" fill="none" fill-opacity="0" stroke="#a6d854" stroke-opacity="0.5" stroke-width="3.12"/>
<rect x="836.5" y="1069.5" width="27" height="10" fill="none" fill-opacity="0" stroke="#e78ac3" stroke-opacity="0.5" stroke-width="3.12"/>
<rect x="836.5" y="1090.5" width="27" height="10" fill="none" fill-opacity="0" stroke="#e5c494" stroke-opacity="0.5" stroke-width="3.12"/>
<rect x="836.5" y="1111.5" width="27" height="10" fill="none" fill-opacity="0" stroke="#fc8d62" stroke-opacity="0.5" stroke-width="3.12"/>
<rect x="836.5" y="1132.5" width="27" height="10" fill="none" fill-opacity="0" stroke="#fc8d62" stroke-opacity="0.5" stroke-width="3.12"/>
<rect x="836.5" y="1153.5" width="27" height="10" fill="none" fill-opacity="0" stroke="#66c2a5" stroke-opacity="0.5" stroke-width="3.12"/>
<rect x="836.5" y="1174.5" width="27" height="10" fill="none" fill-opacity="0" stroke="#8da0cb" stroke-opacity="0.5" stroke-width="3.12"/>
<rect x="836.5" y="1195.5" width="27" height="10" fill="none" fill-opacity="0" stroke="#ffd92f" stroke-opacity="0.5" stroke-width="3.12"/>
<rect x="836.5" y="1216.5" width="27" height="10" fill="none" fill-opacity="0" stroke="#ffd92f" stroke-opacity="0.5" stroke-width="3.12"/>
<rect x="836.5" y="1237.5" width="27" height="10" fill="none" fill-opacity="0" stroke="#8da0cb" stroke-opacity="0.5" stroke-width="3.12"/>
<g font-family="&quot;Liberation Sans&quot;, sans-serif" fill="#000" style="font-kerning:none">
<text x="817.12" y="953.33" font-size="13.89" textLength="97.82" lengthAdjust="spacingAndGlyphs">modelCountry</text>
<text x="874.52" y="974.28" font-size="13.89" textLength="14.23" lengthAdjust="spacingAndGlyphs">IN</text>
<text x="874.56" y="995.22" font-size="13.89" textLength="19.75" lengthAdjust="spacingAndGlyphs">CN</text>
<text x="874.73" y="1016.17" font-size="13.89" textLength="18.73" lengthAdjust="spacingAndGlyphs">KR</text>
<text x="873.57" y="1037.11" font-size="13.89" textLength="13.51" lengthAdjust="spacingAndGlyphs">JP</text>
<text x="874.11" y="1058.06" font-size="13.89" textLength="22.17" lengthAdjust="spacingAndGlyphs">TW</text>
<text x="874.63" y="1079" font-size="13.89" textLength="19.58" lengthAdjust="spacingAndGlyphs">NZ</text>
<text x="874.79" y="1099.94" font-size="13.89" textLength="19.11" lengthAdjust="spacingAndGlyphs">SG</text>
<text x="874.55" y="1120.89" font-size="13.89" textLength="19.46" lengthAdjust="spacingAndGlyphs">AU</text>
<text x="874.71" y="1141.83" font-size="13.89" textLength="20.56" lengthAdjust="spacingAndGlyphs">MY</text>
<text x="874.11" y="1162.78" font-size="13.89" textLength="19.09" lengthAdjust="spacingAndGlyphs">TH</text>
<text x="874.57" y="1183.72" font-size="13.89" textLength="19.65" lengthAdjust="spacingAndGlyphs">XH</text>
<text x="874.48" y="1204.67" font-size="13.89" textLength="14.66" lengthAdjust="spacingAndGlyphs">ID</text>
<text x="874.67" y="1225.61" font-size="13.89" textLength="19.81" lengthAdjust="spacingAndGlyphs">HK</text>
<text x="874.76" y="1246.56" font-size="13.89" textLength="18.24" lengthAdjust="spacingAndGlyphs">PH</text>
</g>
</svg>
</body></html>
